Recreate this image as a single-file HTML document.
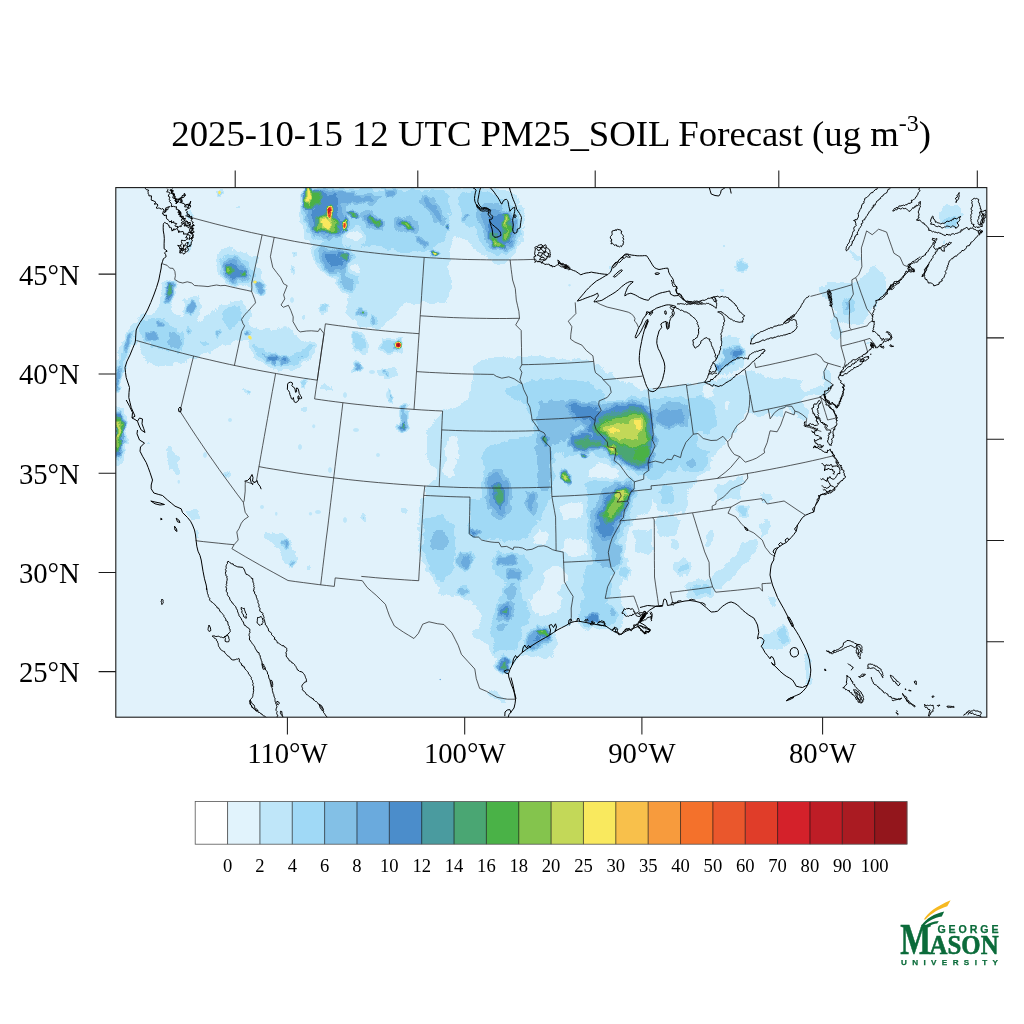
<!DOCTYPE html>
<html><head><meta charset="utf-8"><title>PM25_SOIL Forecast</title>
<style>
html,body{margin:0;padding:0;background:#fff;}
body{width:1024px;height:1024px;overflow:hidden;font-family:"Liberation Serif",serif;}
svg{display:block;position:absolute;left:0;top:0;}
</style></head><body>
<svg width="1024" height="1024" viewBox="0 0 1024 1024">
<defs><filter id="nf" x="0" y="0" width="1024" height="1024" filterUnits="userSpaceOnUse"><feOffset dx="0" dy="0"/></filter><clipPath id="mc"><rect x="115.8" y="187.6" width="871.0" height="529.6"/></clipPath></defs>
<rect width="1024" height="1024" fill="#fff"/>
<g clip-path="url(#mc)">
<defs>
<filter id="cm" x="101.8" y="173.6" width="899.0" height="557.6" filterUnits="userSpaceOnUse" color-interpolation-filters="sRGB">
<feTurbulence type="fractalNoise" baseFrequency="0.11" numOctaves="2" seed="7" result="n"/>
<feDisplacementMap in="SourceGraphic" in2="n" scale="9" xChannelSelector="R" yChannelSelector="G" result="d"/>
<feComponentTransfer in="d"><feFuncR type="discrete" tableValues="1.0000 0.8824 0.7490 0.6275 0.5137 0.4157 0.2941 0.2902 0.2902 0.2902 0.5176 0.7647 0.9765 0.9725 0.9686 0.9569 0.9176 0.8784 0.8314 0.7451 0.6667 0.5765"/><feFuncG type="discrete" tableValues="1.0000 0.9529 0.9020 0.8510 0.7529 0.6667 0.5529 0.6078 0.6510 0.6980 0.7686 0.8471 0.9137 0.7529 0.6078 0.4431 0.3412 0.2392 0.1294 0.1137 0.1059 0.0863"/><feFuncB type="discrete" tableValues="1.0000 0.9882 0.9765 0.9647 0.9020 0.8667 0.7961 0.6235 0.4510 0.2784 0.3020 0.3451 0.3686 0.2941 0.2392 0.1686 0.1725 0.1608 0.1647 0.1490 0.1333 0.1098"/></feComponentTransfer></filter>
<filter id="blL" x="75.8" y="147.6" width="951.0" height="609.6" filterUnits="userSpaceOnUse" color-interpolation-filters="sRGB"><feGaussianBlur stdDeviation="5"/></filter>
<filter id="blM" x="75.8" y="147.6" width="951.0" height="609.6" filterUnits="userSpaceOnUse" color-interpolation-filters="sRGB"><feGaussianBlur stdDeviation="2.6"/></filter>
<filter id="blS" x="75.8" y="147.6" width="951.0" height="609.6" filterUnits="userSpaceOnUse" color-interpolation-filters="sRGB"><feGaussianBlur stdDeviation="1.3"/></filter>
<filter id="blX" x="75.8" y="147.6" width="951.0" height="609.6" filterUnits="userSpaceOnUse" color-interpolation-filters="sRGB"><feGaussianBlur stdDeviation="0.7"/></filter>
<filter id="cm2" x="101.8" y="173.6" width="899.0" height="557.6" filterUnits="userSpaceOnUse" color-interpolation-filters="sRGB">
<feComponentTransfer><feFuncR type="discrete" tableValues="1.0000 0.8824 0.7490 0.6275 0.5137 0.4157 0.2941 0.2902 0.2902 0.2902 0.5176 0.7647 0.9765 0.9725 0.9686 0.9569 0.9176 0.8784 0.8314 0.7451 0.6667 0.5765"/><feFuncG type="discrete" tableValues="1.0000 0.9529 0.9020 0.8510 0.7529 0.6667 0.5529 0.6078 0.6510 0.6980 0.7686 0.8471 0.9137 0.7529 0.6078 0.4431 0.3412 0.2392 0.1294 0.1137 0.1059 0.0863"/><feFuncB type="discrete" tableValues="1.0000 0.9882 0.9765 0.9647 0.9020 0.8667 0.7961 0.6235 0.4510 0.2784 0.3020 0.3451 0.3686 0.2941 0.2392 0.1686 0.1725 0.1608 0.1647 0.1490 0.1333 0.1098"/></feComponentTransfer></filter>
</defs>
<g filter="url(#cm)">
<rect x="85.8" y="157.6" width="931.0" height="589.6" fill="rgb(17,17,17)"/>
<g filter="url(#blL)">
<path d="M137.5 316.2L165.0 310.0L200.0 320.0L230.0 297.5L250.0 305.0L252.5 320.0L240.0 340.0L217.5 350.0L182.5 365.0L145.0 366.2L137.5 345.0Z" fill="rgb(29,29,29)"/>
<path d="M243.8 323.8L260.0 330.0L285.0 326.2L300.0 340.0L317.5 340.0L315.0 355.0L300.0 370.0L275.0 372.5L255.0 355.0L242.5 340.0Z" fill="rgb(29,29,29)"/>
<path d="M302.5 187.1L450.9 187.1L450.9 304.3L399.4 304.3L383.8 293.4L355.6 296.5L341.6 291.8L340.0 277.8L321.2 268.4L315.0 249.6L302.5 235.6L300.9 215.2Z" fill="rgb(29,29,29)"/>
<path d="M454.5 186.7L494.2 186.7L517.4 192.2L524.3 211.3L524.3 230.5L517.4 248.3L512.0 257.8L501.0 264.7L487.3 260.6L473.7 249.6L460.0 238.7L451.8 225.0Z" fill="rgb(29,29,29)"/>
<path d="M472.5 360.0L522.5 355.0L595.0 360.0L615.0 377.5L647.5 390.0L697.5 382.5L697.5 490.0L655.0 490.0L650.0 515.0L630.0 520.0L620.0 597.5L437.5 597.5L437.5 495.0L455.0 480.0L437.5 465.0L437.5 415.0L465.0 402.5L472.5 377.5Z" fill="rgb(29,29,29)"/>
<path d="M442.5 407.5L426.2 432.5L424.5 457.5L438.8 475.0L425.0 487.5L419.5 500.0L417.5 530.0L422.5 560.0L435.0 585.0L455.0 595.0L480.0 607.5L483.8 625.0L465.0 635.0L490.0 647.5L507.5 657.5L557.5 657.5L557.5 595.0L475.0 595.0L450.0 550.0L450.0 407.5Z" fill="rgb(29,29,29)"/>
<path d="M421.0 557.5L431.0 575.0L451.0 590.0L478.5 605.0L481.0 625.0L466.0 635.0L488.5 642.5L493.5 660.0L498.5 677.5L506.0 673.8L523.5 652.5L551.0 635.0L571.0 622.5L596.0 625.5L621.0 635.0L627.2 610.0L617.2 585.0L631.0 560.0L631.0 557.5Z" fill="rgb(29,29,29)"/>
<path d="M657.5 386.2L687.5 383.8L746.2 372.5L750.0 395.0L747.5 412.5L737.5 430.0L730.0 440.0L710.0 460.0L692.5 475.0L675.0 490.0L657.5 495.0Z" fill="rgb(29,29,29)"/>
<path d="M304.1 187.1L450.9 187.1L450.9 235.6L430.6 249.6L399.4 252.8L377.5 243.4L365.0 246.5L341.6 246.5L325.9 243.4L313.4 235.6L304.1 223.1Z" fill="rgb(41,41,41)"/>
<path d="M587.5 465.0L602.5 460.0L617.5 465.0L622.5 480.0L615.0 490.0L595.0 487.5L586.2 477.5Z" fill="rgb(21,21,21)"/>
<path d="M560.0 501.2L580.0 500.0L590.0 510.0L580.0 520.0L562.5 518.8Z" fill="rgb(21,21,21)"/>
<path d="M562.5 537.5L587.5 535.0L592.5 552.5L575.0 561.2L560.0 552.5Z" fill="rgb(21,21,21)"/>
<path d="M657.5 497.5L697.5 492.5L697.5 597.5L627.5 597.5L632.5 565.0L652.5 535.0Z" fill="rgb(21,21,21)"/>
<path d="M443.8 433.8L458.8 431.2L460.0 462.5L450.0 482.5L442.5 475.0Z" fill="rgb(21,21,21)"/>
<path d="M455.0 496.2L462.5 495.0L462.0 510.0L455.5 510.0Z" fill="rgb(21,21,21)"/>
<path d="M530.0 528.8L550.0 527.5L551.2 547.5L532.5 547.5Z" fill="rgb(21,21,21)"/>
<path d="M528.5 595.0L546.0 585.0L566.0 595.0L561.0 612.5L541.0 620.0L526.0 610.0Z" fill="rgb(21,21,21)"/>
<path d="M541.1 564.5L568.4 564.5L569.4 587.9L542.1 587.9Z" fill="rgb(21,21,21)"/>
<path d="M556.7 502.0L578.2 502.0L579.2 521.5L557.7 521.5Z" fill="rgb(21,21,21)"/>
</g>
<g filter="url(#blM)">
<path d="M216.2 253.8L225.0 245.5L240.0 250.5L255.0 256.2L260.0 270.0L263.8 280.0L267.0 290.0L263.8 297.0L252.5 291.2L240.0 286.2L225.0 283.8L217.0 273.0Z" fill="rgb(29,29,29)"/>
<path d="M162.5 280.0L175.0 278.0L178.8 287.5L172.5 305.0L165.5 320.0L157.5 320.0L160.0 297.5Z" fill="rgb(29,29,29)"/>
<path d="M182.5 297.5L198.8 295.0L202.5 310.0L195.0 320.0L183.8 316.2Z" fill="rgb(29,29,29)"/>
<path d="M496.2 259.9L507.2 259.9L506.5 264.9L498.3 264.9Z" fill="rgb(29,29,29)"/>
<path d="M635.0 530.0L650.0 532.5L648.8 555.0L637.5 552.5Z" fill="rgb(29,29,29)"/>
<path d="M675.0 560.0L690.0 561.2L688.8 575.0L676.2 573.8Z" fill="rgb(29,29,29)"/>
<path d="M665.0 518.8L677.5 520.0L676.2 531.2L666.2 530.0Z" fill="rgb(29,29,29)"/>
<path d="M481.0 688.8L493.5 690.0L506.0 697.5L512.2 700.0L506.0 703.0L491.0 698.0Z" fill="rgb(29,29,29)"/>
<path d="M722.5 335.0L737.5 337.5L747.5 348.8L745.0 365.0L732.5 372.5L716.2 375.0L713.8 365.0L720.0 350.0Z" fill="rgb(29,29,29)"/>
<path d="M745.2 369.3L757.0 370.7L765.2 376.6L776.9 377.7L783.9 375.4L793.3 378.9L800.3 377.7L805.0 380.1L801.7 386.9L807.3 390.4L816.7 388.3L822.6 384.8L823.8 375.2L823.2 364.0L828.4 366.4L832.2 375.2L833.1 385.1L828.4 393.3L821.4 394.1L812.0 395.7L805.0 396.5L800.3 403.3L807.3 415.0L800.3 417.3L793.3 406.8L785.1 405.6L776.9 410.3L768.7 415.0L760.5 416.2L751.1 412.7L745.2 398.6Z" fill="rgb(29,29,29)"/>
<path d="M785.0 406.2L800.0 402.5L810.0 412.5L805.0 420.0L795.0 417.5Z" fill="rgb(29,29,29)"/>
<path d="M655.0 486.2L685.0 485.0L686.2 510.0L657.5 510.0Z" fill="rgb(29,29,29)"/>
<path d="M712.5 572.5L730.0 560.0L742.5 547.5L755.0 535.0L760.0 540.0L750.0 560.0L735.0 575.0L720.0 590.0L710.0 585.0Z" fill="rgb(29,29,29)"/>
<path d="M765.0 635.0L776.2 627.5L788.8 627.5L790.0 642.5L780.0 652.5L765.0 651.2Z" fill="rgb(29,29,29)"/>
<path d="M345.0 300.0L360.0 292.5L390.0 287.5L420.0 278.8L420.0 290.0L405.0 300.0L395.0 315.0L380.0 330.0L360.0 327.5L347.5 317.5Z" fill="rgb(29,29,29)"/>
<path d="M818.6 285.5L830.3 280.8L851.4 284.3L865.5 273.7L874.8 265.5L884.2 273.7L887.7 285.5L881.9 297.2L870.2 311.2L865.5 325.3L849.1 325.3L837.3 320.6L830.3 301.9L818.6 292.5Z" fill="rgb(29,29,29)"/>
<path d="M940.5 205.8L949.8 203.4L959.2 207.0L962.0 216.3L956.9 226.9L947.5 228.0L938.1 225.7L939.3 215.2Z" fill="rgb(29,29,29)"/>
<path d="M261.2 535.0L280.0 531.2L290.0 537.5L297.5 562.5L295.0 568.8L285.0 562.5L275.0 545.0L262.5 540.0Z" fill="rgb(29,29,29)"/>
<path d="M657.5 482.5L675.0 483.8L677.5 507.5L657.5 507.5Z" fill="rgb(36,36,36)"/>
<path d="M657.5 517.5L677.5 517.5L676.2 535.0L657.5 533.8Z" fill="rgb(36,36,36)"/>
<path d="M585.0 562.5L605.0 560.0L607.5 600.0L595.0 625.0L580.0 625.0L580.0 575.0Z" fill="rgb(36,36,36)"/>
<path d="M687.5 585.0L705.0 578.8L716.2 585.0L712.5 597.5L690.0 597.5Z" fill="rgb(36,36,36)"/>
<path d="M140.0 320.0L162.5 316.2L175.0 330.0L185.0 340.0L182.5 352.5L167.5 351.2L150.0 345.0L140.0 336.2Z" fill="rgb(41,41,41)"/>
<path d="M222.5 310.0L240.0 305.0L243.8 320.0L230.0 330.0L222.5 322.5Z" fill="rgb(41,41,41)"/>
<path d="M122.5 340.0L130.0 328.8L137.5 326.2L135.0 340.0L128.8 355.0L122.5 370.0L117.5 387.5L115.5 395.0L115.5 370.0Z" fill="rgb(41,41,41)"/>
<path d="M114.0 405.0L122.5 408.8L126.2 420.0L125.0 445.0L120.0 462.5L114.0 465.0Z" fill="rgb(41,41,41)"/>
<path d="M316.6 246.5L352.5 249.6L355.6 271.5L357.2 290.2L343.1 293.4L336.9 277.8L321.2 271.5L313.4 257.4Z" fill="rgb(41,41,41)"/>
<path d="M460.0 192.2L476.4 189.5L491.4 192.2L505.1 200.4L520.2 211.3L521.5 229.1L514.7 246.9L505.1 255.1L491.4 253.7L480.5 241.4L476.4 227.7L465.5 225.0L460.0 218.2Z" fill="rgb(41,41,41)"/>
<path d="M505.0 387.5L522.5 382.5L560.0 377.5L590.0 382.5L605.0 392.5L600.0 405.0L580.0 402.5L560.0 412.5L545.0 422.5L535.0 422.5L522.5 402.5L507.5 397.5Z" fill="rgb(41,41,41)"/>
<path d="M535.0 420.0L600.0 402.5L652.5 397.5L697.5 397.5L697.5 457.5L675.0 470.0L652.5 480.0L630.0 470.0L590.0 452.5L570.0 457.5L550.0 447.5Z" fill="rgb(41,41,41)"/>
<path d="M482.5 447.5L510.0 440.0L540.0 435.0L552.5 445.0L552.5 490.0L540.0 520.0L515.0 525.0L490.0 520.0L482.5 490.0Z" fill="rgb(41,41,41)"/>
<path d="M585.0 480.0L635.0 480.0L632.5 515.0L620.0 540.0L620.0 570.0L600.0 570.0L587.5 540.0Z" fill="rgb(41,41,41)"/>
<path d="M423.0 518.8L440.0 515.0L455.0 525.0L456.2 550.0L450.0 575.0L440.0 583.8L430.0 572.5L422.5 550.0Z" fill="rgb(41,41,41)"/>
<path d="M581.0 612.5L591.0 590.0L606.0 575.0L613.5 585.0L606.0 605.0L616.0 610.0L618.5 622.5L606.0 627.5L586.0 627.5L578.5 622.5Z" fill="rgb(41,41,41)"/>
<path d="M592.2 565.0L606.0 560.0L613.5 570.0L603.5 587.5L593.5 590.0Z" fill="rgb(41,41,41)"/>
<path d="M685.0 450.0L707.5 448.8L708.8 465.0L697.5 473.8L685.0 470.0Z" fill="rgb(41,41,41)"/>
<path d="M652.5 400.0L692.5 400.0L693.8 432.5L680.0 440.0L662.5 450.0L652.5 437.5Z" fill="rgb(41,41,41)"/>
<path d="M685.0 451.2L707.5 450.0L710.0 470.0L690.0 473.8Z" fill="rgb(41,41,41)"/>
<path d="M468.8 498.0L529.4 498.0L537.2 517.6L529.4 539.1L507.9 541.0L484.5 539.1L468.8 533.2Z" fill="rgb(41,41,41)"/>
<path d="M494.2 552.7L513.8 551.8L529.4 558.6L530.4 578.1L517.7 583.0L498.1 578.1L492.3 564.5Z" fill="rgb(41,41,41)"/>
<path d="M504.0 582.0L521.6 584.0L523.5 601.6L529.4 609.4L530.4 621.1L521.6 625.0L517.7 652.3L494.2 652.3L490.3 632.8L496.2 609.4L502.0 593.8Z" fill="rgb(41,41,41)"/>
<path d="M220.0 260.0L230.0 254.5L245.0 262.0L253.0 272.0L250.5 280.5L235.0 283.0L222.5 278.0Z" fill="rgb(52,52,52)"/>
<path d="M253.0 342.5L262.5 350.0L275.0 356.2L290.0 358.8L302.5 352.5L312.0 342.5L314.5 346.2L305.0 358.8L290.0 365.0L272.5 363.8L260.0 356.2L251.2 346.2Z" fill="rgb(52,52,52)"/>
<path d="M341.6 271.5L354.1 274.6L355.6 285.6L349.4 291.8L341.6 285.6Z" fill="rgb(52,52,52)"/>
<path d="M655.0 405.0L687.5 400.0L690.0 425.0L660.0 427.5Z" fill="rgb(52,52,52)"/>
<path d="M540.0 402.5L570.0 400.0L600.0 402.5L600.0 422.5L580.0 422.5L565.0 440.0L550.0 445.0L535.0 425.0Z" fill="rgb(56,56,56)"/>
<path d="M536.2 425.0L550.0 430.0L552.5 460.0L550.0 490.0L540.0 490.0L537.5 460.0Z" fill="rgb(56,56,56)"/>
<path d="M336.9 191.8L377.5 193.4L379.1 203.5L365.0 205.1L341.6 202.8Z" fill="rgb(57,57,57)"/>
<path d="M361.1 211.3L372.8 212.9L383.8 225.4L382.2 230.9L371.2 227.0L361.1 217.6Z" fill="rgb(57,57,57)"/>
<path d="M393.1 217.6L410.3 218.4L419.7 227.0L416.6 232.4L402.5 230.9L393.9 223.8Z" fill="rgb(57,57,57)"/>
<path d="M305.6 190.2L343.1 190.2L344.7 207.4L347.8 223.1L343.1 237.1L329.1 237.9L313.4 235.6L305.6 223.1Z" fill="rgb(57,57,57)"/>
<path d="M590.0 515.0L605.0 490.0L620.0 480.0L635.0 481.2L632.5 500.0L622.5 520.0L615.0 540.0L612.5 565.0L601.2 566.2L592.5 545.0Z" fill="rgb(57,57,57)"/>
<path d="M477.8 207.2L487.3 204.5L501.0 207.2L514.7 214.1L517.4 229.1L513.3 244.2L503.7 251.7L492.8 249.6L484.6 238.7L483.2 225.0L475.0 218.2Z" fill="rgb(58,58,58)"/>
<path d="M419.7 193.4L430.6 196.5L440.0 209.0L446.2 223.1L440.0 224.6L430.6 212.1L421.2 201.2Z" fill="rgb(64,64,64)"/>
<path d="M486.2 475.0L500.0 470.0L511.2 485.0L508.8 510.0L501.2 520.0L491.2 510.0L486.2 492.5Z" fill="rgb(64,64,64)"/>
<path d="M497.5 603.8L512.5 602.0L514.5 616.2L500.0 618.8Z" fill="rgb(67,67,67)"/>
<path d="M363.4 212.1L371.2 213.7L380.6 224.6L379.1 229.3L369.7 224.6L362.7 216.8Z" fill="rgb(70,70,70)"/>
<path d="M396.2 218.4L408.8 219.2L416.6 226.2L413.4 230.9L402.5 229.3L397.0 223.1Z" fill="rgb(70,70,70)"/>
<path d="M321.2 248.1L336.9 249.6L350.9 252.8L349.4 265.2L343.1 271.5L330.6 271.5L321.2 262.1Z" fill="rgb(70,70,70)"/>
<path d="M524.8 642.5L531.0 632.5L541.0 626.2L551.0 630.0L548.5 640.0L536.0 647.5L526.0 647.5Z" fill="rgb(70,70,70)"/>
<path d="M310.3 193.4L321.2 189.5L340.0 191.8L342.3 201.2L340.8 209.0L344.7 223.1L340.8 234.8L329.1 235.6L315.0 230.9L308.8 215.2Z" fill="rgb(71,71,71)"/>
<path d="M223.0 264.5L232.5 260.5L240.0 266.2L248.8 272.0L247.0 278.8L232.5 280.5L224.2 274.5Z" fill="rgb(75,75,75)"/>
<path d="M487.3 215.4L499.6 211.3L512.0 215.4L514.0 229.1L511.3 242.8L503.7 249.6L494.2 246.9L487.3 236.0Z" fill="rgb(75,75,75)"/>
<path d="M586.2 415.0L615.0 405.0L640.0 401.2L652.5 412.5L653.8 452.5L648.8 468.8L632.5 470.0L615.0 458.8L600.0 445.0L587.5 432.5Z" fill="rgb(75,75,75)"/>
<path d="M593.0 420.5L615.0 412.0L640.0 408.0L649.5 418.0L650.8 450.0L645.8 464.5L634.2 465.8L620.5 455.8L605.5 443.2L594.2 430.8Z" fill="rgb(99,99,99)"/>
<path d="M341.6 230.9L355.6 227.8L365.0 230.9L366.6 238.7L355.6 244.2L343.1 242.6Z" fill="rgb(22,22,22)"/>
<path d="M347.8 262.1L360.3 260.6L363.4 269.9L355.6 276.2L347.8 271.5Z" fill="rgb(22,22,22)"/>
</g>
<g filter="url(#blS)">
<path d="M239.0 207.0L238.7 208.2L238.0 209.2L237.0 209.5L236.0 209.2L235.3 208.2L235.0 207.0L235.3 205.8L236.0 204.8L237.0 204.5L238.0 204.8L238.7 205.8Z" fill="rgb(29,29,29)"/>
<path d="M193.0 215.0L192.7 217.8L191.8 219.8L190.5 220.5L189.2 219.8L188.3 217.8L188.0 215.0L188.3 212.2L189.2 210.2L190.5 209.5L191.8 210.2L192.7 212.2Z" fill="rgb(29,29,29)"/>
<path d="M192.8 246.7L191.1 250.1L188.9 252.2L186.9 252.5L185.6 251.0L185.4 248.0L186.2 244.3L187.9 240.9L190.1 238.8L192.1 238.5L193.4 240.0L193.6 243.0Z" fill="rgb(29,29,29)"/>
<path d="M292.2 333.8L291.8 336.9L290.5 339.2L288.8 340.0L287.0 339.2L285.7 336.9L285.2 333.8L285.7 330.6L287.0 328.3L288.8 327.5L290.5 328.3L291.8 330.6Z" fill="rgb(29,29,29)"/>
<path d="M308.0 316.2L307.6 317.2L306.5 318.0L305.0 318.2L303.5 318.0L302.4 317.2L302.0 316.2L302.4 315.2L303.5 314.5L305.0 314.2L306.5 314.5L307.6 315.2Z" fill="rgb(29,29,29)"/>
<path d="M306.8 410.0L306.3 412.5L305.2 414.3L303.8 415.0L302.2 414.3L301.2 412.5L300.8 410.0L301.2 407.5L302.2 405.7L303.8 405.0L305.2 405.7L306.3 407.5Z" fill="rgb(29,29,29)"/>
<path d="M295.8 255.9L295.5 257.8L294.8 259.3L293.9 259.8L293.0 259.3L292.3 257.8L292.0 255.9L292.3 253.9L293.0 252.5L293.9 252.0L294.8 252.5L295.5 253.9Z" fill="rgb(29,29,29)"/>
<path d="M295.0 270.7L294.8 272.7L294.2 274.1L293.4 274.6L292.7 274.1L292.1 272.7L291.9 270.7L292.1 268.8L292.7 267.3L293.4 266.8L294.2 267.3L294.8 268.8Z" fill="rgb(29,29,29)"/>
<path d="M407.5 510.0L407.1 512.0L406.0 513.5L404.5 514.0L403.0 513.5L401.9 512.0L401.5 510.0L401.9 508.0L403.0 506.5L404.5 506.0L406.0 506.5L407.1 508.0Z" fill="rgb(29,29,29)"/>
<path d="M311.5 568.0L311.2 570.0L310.5 571.5L309.5 572.0L308.5 571.5L307.8 570.0L307.5 568.0L307.8 566.0L308.5 564.5L309.5 564.0L310.5 564.5L311.2 566.0Z" fill="rgb(29,29,29)"/>
<path d="M306.0 411.2L305.6 413.0L304.5 414.3L303.0 414.8L301.5 414.3L300.4 413.0L300.0 411.2L300.4 409.5L301.5 408.2L303.0 407.8L304.5 408.2L305.6 409.5Z" fill="rgb(29,29,29)"/>
<path d="M767.5 407.5L785.0 406.2L783.8 416.2L770.0 417.5Z" fill="rgb(29,29,29)"/>
<path d="M772.5 497.0L771.7 499.8L769.4 501.8L766.2 502.5L763.1 501.8L760.8 499.8L760.0 497.0L760.8 494.2L763.1 492.2L766.2 491.5L769.4 492.2L771.7 494.2Z" fill="rgb(29,29,29)"/>
<path d="M767.2 528.8L766.8 533.1L765.5 536.3L763.8 537.5L762.0 536.3L760.7 533.1L760.2 528.8L760.7 524.4L762.0 521.2L763.8 520.0L765.5 521.2L766.8 524.4Z" fill="rgb(29,29,29)"/>
<path d="M755.0 547.5L754.2 551.2L751.9 554.0L748.8 555.0L745.6 554.0L743.3 551.2L742.5 547.5L743.3 543.8L745.6 541.0L748.8 540.0L751.9 541.0L754.2 543.8Z" fill="rgb(29,29,29)"/>
<path d="M712.5 537.5L712.1 541.2L711.0 544.0L709.5 545.0L708.0 544.0L706.9 541.2L706.5 537.5L706.9 533.8L708.0 531.0L709.5 530.0L711.0 531.0L712.1 533.8Z" fill="rgb(29,29,29)"/>
<path d="M677.5 545.5L677.1 547.8L676.0 549.4L674.5 550.0L673.0 549.4L671.9 547.8L671.5 545.5L671.9 543.2L673.0 541.6L674.5 541.0L676.0 541.6L677.1 543.2Z" fill="rgb(29,29,29)"/>
<path d="M715.0 492.5L730.0 480.0L745.0 475.0L746.2 482.5L732.5 490.0L718.8 500.0Z" fill="rgb(29,29,29)"/>
<path d="M832.5 315.0L838.8 315.0L840.5 340.0L833.8 340.0Z" fill="rgb(29,29,29)"/>
<path d="M633.8 530.0L652.5 531.2L651.2 552.5L635.0 551.2Z" fill="rgb(29,29,29)"/>
<path d="M662.5 517.5L677.5 518.8L676.2 532.5L663.8 531.2Z" fill="rgb(29,29,29)"/>
<path d="M676.2 546.2L675.9 548.0L675.0 549.3L673.8 549.8L672.5 549.3L671.6 548.0L671.2 546.2L671.6 544.5L672.5 543.2L673.8 542.8L675.0 543.2L675.9 544.5Z" fill="rgb(29,29,29)"/>
<path d="M712.2 538.8L711.8 543.1L710.5 546.3L708.8 547.5L707.0 546.3L705.7 543.1L705.2 538.8L705.7 534.4L707.0 531.2L708.8 530.0L710.5 531.2L711.8 534.4Z" fill="rgb(29,29,29)"/>
<path d="M768.9 527.3L767.2 531.3L765.0 533.9L762.8 534.5L761.2 532.8L760.6 529.5L761.1 525.2L762.8 521.2L765.0 518.6L767.2 518.0L768.8 519.7L769.4 523.0Z" fill="rgb(29,29,29)"/>
<path d="M773.5 497.0L772.7 499.5L770.5 501.3L767.5 502.0L764.5 501.3L762.3 499.5L761.5 497.0L762.3 494.5L764.5 492.7L767.5 492.0L770.5 492.7L772.7 494.5Z" fill="rgb(29,29,29)"/>
<path d="M774.2 600.5L773.8 603.8L772.8 606.1L771.2 607.0L769.8 606.1L768.7 603.8L768.2 600.5L768.7 597.2L769.8 594.9L771.2 594.0L772.8 594.9L773.8 597.2Z" fill="rgb(29,29,29)"/>
<path d="M769.5 642.5L768.9 646.0L767.2 648.6L765.0 649.5L762.8 648.6L761.1 646.0L760.5 642.5L761.1 639.0L762.8 636.4L765.0 635.5L767.2 636.4L768.9 639.0Z" fill="rgb(29,29,29)"/>
<path d="M715.0 485.0L740.0 482.5L741.2 498.8L716.2 500.0Z" fill="rgb(29,29,29)"/>
<path d="M803.8 652.5L810.0 653.0L811.2 685.0L805.5 684.5Z" fill="rgb(29,29,29)"/>
<path d="M775.0 601.2L774.7 604.4L773.8 606.7L772.5 607.5L771.2 606.7L770.3 604.4L770.0 601.2L770.3 598.1L771.2 595.8L772.5 595.0L773.8 595.8L774.7 598.1Z" fill="rgb(29,29,29)"/>
<path d="M375.0 368.0L397.5 368.8L396.2 377.5L376.2 376.2Z" fill="rgb(29,29,29)"/>
<path d="M332.5 387.5L331.7 389.2L329.4 390.5L326.2 391.0L323.1 390.5L320.8 389.2L320.0 387.5L320.8 385.8L323.1 384.5L326.2 384.0L329.4 384.5L331.7 385.8Z" fill="rgb(29,29,29)"/>
<path d="M726.5 247.0L726.2 247.9L725.4 248.5L724.2 248.8L723.1 248.5L722.3 247.9L722.0 247.0L722.3 246.1L723.1 245.5L724.2 245.2L725.4 245.5L726.2 246.1Z" fill="rgb(29,29,29)"/>
<path d="M723.8 289.5L723.4 290.5L722.5 291.2L721.2 291.5L720.0 291.2L719.1 290.5L718.8 289.5L719.1 288.5L720.0 287.8L721.2 287.5L722.5 287.8L723.4 288.5Z" fill="rgb(29,29,29)"/>
<path d="M754.8 339.5L753.5 342.0L751.8 343.5L750.1 343.7L749.0 342.5L748.6 340.2L749.2 337.5L750.5 335.0L752.2 333.5L753.9 333.3L755.0 334.5L755.4 336.8Z" fill="rgb(29,29,29)"/>
<path d="M612.8 268.5L612.5 269.8L611.8 270.7L610.8 271.0L609.8 270.7L609.0 269.8L608.8 268.5L609.0 267.2L609.8 266.3L610.8 266.0L611.8 266.3L612.5 267.2Z" fill="rgb(29,29,29)"/>
<path d="M830.3 320.6L837.3 318.3L838.5 339.4L831.5 339.4Z" fill="rgb(29,29,29)"/>
<path d="M846.7 249.1L852.6 250.3L860.8 259.7L857.3 262.0Z" fill="rgb(29,29,29)"/>
<path d="M863.1 340.5L870.2 341.7L869.0 344.1L864.3 344.1Z" fill="rgb(29,29,29)"/>
<path d="M948.4 240.2L948.4 241.3L947.6 242.6L946.1 243.7L944.3 244.5L942.8 244.5L941.9 244.0L941.9 242.9L942.7 241.6L944.2 240.5L946.0 239.8L947.5 239.7Z" fill="rgb(29,29,29)"/>
<path d="M164.5 447.5L171.2 445.5L178.8 457.5L180.0 473.8L175.0 475.0L167.5 462.5Z" fill="rgb(29,29,29)"/>
<path d="M183.8 510.0L198.8 511.2L200.5 520.0L190.0 518.8Z" fill="rgb(29,29,29)"/>
<path d="M199.0 533.8L198.7 536.5L198.0 538.5L197.0 539.2L196.0 538.5L195.3 536.5L195.0 533.8L195.3 531.0L196.0 529.0L197.0 528.2L198.0 529.0L198.7 531.0Z" fill="rgb(29,29,29)"/>
<path d="M149.5 443.8L149.2 444.8L148.5 445.5L147.5 445.8L146.5 445.5L145.8 444.8L145.5 443.8L145.8 442.8L146.5 442.0L147.5 441.8L148.5 442.0L149.2 442.8Z" fill="rgb(29,29,29)"/>
<path d="M312.0 567.5L311.7 569.5L311.0 571.0L310.0 571.5L309.0 571.0L308.3 569.5L308.0 567.5L308.3 565.5L309.0 564.0L310.0 563.5L311.0 564.0L311.7 565.5Z" fill="rgb(29,29,29)"/>
<path d="M350.0 333.8L362.5 332.5L370.0 345.0L365.0 355.0L355.0 352.5Z" fill="rgb(35,35,35)"/>
<path d="M380.0 338.8L402.5 337.5L403.8 352.5L387.5 355.0L380.0 348.8Z" fill="rgb(35,35,35)"/>
<path d="M367.2 518.0L366.8 519.5L365.5 520.6L363.8 521.0L362.0 520.6L360.7 519.5L360.2 518.0L360.7 516.5L362.0 515.4L363.8 515.0L365.5 515.4L366.8 516.5Z" fill="rgb(36,36,36)"/>
<path d="M750.0 511.2L749.2 514.4L746.9 516.7L743.8 517.5L740.6 516.7L738.3 514.4L737.5 511.2L738.3 508.1L740.6 505.8L743.8 505.0L746.9 505.8L749.2 508.1Z" fill="rgb(36,36,36)"/>
<path d="M690.8 564.9L690.6 567.4L688.6 569.9L685.3 571.7L681.6 572.4L678.4 571.8L676.7 570.1L676.9 567.6L678.9 565.1L682.2 563.3L685.9 562.6L689.1 563.2Z" fill="rgb(36,36,36)"/>
<path d="M749.5 510.5L748.6 513.5L746.0 515.7L742.5 516.5L739.0 515.7L736.4 513.5L735.5 510.5L736.4 507.5L739.0 505.3L742.5 504.5L746.0 505.3L748.6 507.5Z" fill="rgb(36,36,36)"/>
<path d="M788.0 635.0L787.3 639.8L785.5 643.2L783.0 644.5L780.5 643.2L778.7 639.8L778.0 635.0L778.7 630.2L780.5 626.8L783.0 625.5L785.5 626.8L787.3 630.2Z" fill="rgb(36,36,36)"/>
<path d="M228.8 476.5L227.9 477.4L226.5 477.6L225.0 477.2L223.9 476.1L223.4 474.8L223.7 473.5L224.6 472.6L226.0 472.4L227.5 472.8L228.6 473.9L229.1 475.2Z" fill="rgb(37,37,37)"/>
<path d="M223.0 192.5L222.6 193.5L221.5 194.2L220.0 194.5L218.5 194.2L217.4 193.5L217.0 192.5L217.4 191.5L218.5 190.8L220.0 190.5L221.5 190.8L222.6 191.5Z" fill="rgb(41,41,41)"/>
<path d="M209.5 342.5L208.9 344.0L207.2 345.1L205.0 345.5L202.8 345.1L201.1 344.0L200.5 342.5L201.1 341.0L202.8 339.9L205.0 339.5L207.2 339.9L208.9 341.0Z" fill="rgb(41,41,41)"/>
<path d="M295.2 255.0L295.0 256.2L294.5 257.2L293.8 257.5L293.0 257.2L292.5 256.2L292.2 255.0L292.5 253.8L293.0 252.8L293.8 252.5L294.5 252.8L295.0 253.8Z" fill="rgb(41,41,41)"/>
<path d="M294.0 270.0L293.8 271.5L293.2 272.6L292.5 273.0L291.8 272.6L291.2 271.5L291.0 270.0L291.2 268.5L291.8 267.4L292.5 267.0L293.2 267.4L293.8 268.5Z" fill="rgb(41,41,41)"/>
<path d="M327.0 308.8L326.5 311.0L325.0 312.6L323.0 313.2L321.0 312.6L319.5 311.0L319.0 308.8L319.5 306.5L321.0 304.9L323.0 304.2L325.0 304.9L326.5 306.5Z" fill="rgb(41,41,41)"/>
<path d="M307.2 382.5L306.8 384.8L305.5 386.4L303.8 387.0L302.0 386.4L300.7 384.8L300.2 382.5L300.7 380.2L302.0 378.6L303.8 378.0L305.5 378.6L306.8 380.2Z" fill="rgb(41,41,41)"/>
<path d="M250.0 391.2L249.6 392.2L248.5 393.0L247.0 393.2L245.5 393.0L244.4 392.2L244.0 391.2L244.4 390.2L245.5 389.5L247.0 389.2L248.5 389.5L249.6 390.2Z" fill="rgb(41,41,41)"/>
<path d="M355.5 337.5L355.2 341.0L354.2 343.6L353.0 344.5L351.8 343.6L350.8 341.0L350.5 337.5L350.8 334.0L351.8 331.4L353.0 330.5L354.2 331.4L355.2 334.0Z" fill="rgb(41,41,41)"/>
<path d="M355.8 367.5L355.5 370.0L354.8 371.8L353.8 372.5L352.8 371.8L352.0 370.0L351.8 367.5L352.0 365.0L352.8 363.2L353.8 362.5L354.8 363.2L355.5 365.0Z" fill="rgb(41,41,41)"/>
<path d="M630.0 572.5L629.3 576.2L627.5 579.0L625.0 580.0L622.5 579.0L620.7 576.2L620.0 572.5L620.7 568.8L622.5 566.0L625.0 565.0L627.5 566.0L629.3 568.8Z" fill="rgb(41,41,41)"/>
<path d="M628.5 572.5L627.9 575.0L626.2 576.8L624.0 577.5L621.8 576.8L620.1 575.0L619.5 572.5L620.1 570.0L621.8 568.2L624.0 567.5L626.2 568.2L627.9 570.0Z" fill="rgb(41,41,41)"/>
<path d="M692.5 400.0L703.8 395.0L713.8 405.0L716.2 425.0L710.0 435.0L697.5 432.5L691.2 417.5Z" fill="rgb(41,41,41)"/>
<path d="M685.0 440.0L683.7 442.8L680.0 444.8L675.0 445.5L670.0 444.8L666.3 442.8L665.0 440.0L666.3 437.2L670.0 435.2L675.0 434.5L680.0 435.2L683.7 437.2Z" fill="rgb(41,41,41)"/>
<path d="M628.8 573.9L627.1 577.0L624.8 578.9L622.6 579.1L621.0 577.5L620.5 574.6L621.2 571.1L622.9 568.0L625.2 566.1L627.4 565.9L629.0 567.5L629.5 570.4Z" fill="rgb(41,41,41)"/>
<path d="M786.8 635.7L785.4 638.6L783.2 640.5L780.8 640.8L778.9 639.4L777.9 636.6L778.2 633.3L779.6 630.4L781.8 628.5L784.2 628.2L786.1 629.6L787.1 632.4Z" fill="rgb(41,41,41)"/>
<path d="M327.5 308.8L327.1 310.5L326.0 311.8L324.5 312.2L323.0 311.8L321.9 310.5L321.5 308.8L321.9 307.0L323.0 305.7L324.5 305.2L326.0 305.7L327.1 307.0Z" fill="rgb(41,41,41)"/>
<path d="M746.2 269.4L744.1 271.0L741.2 271.3L738.4 270.1L736.3 267.8L735.6 265.1L736.3 262.6L738.4 261.0L741.3 260.7L744.1 261.9L746.2 264.2L746.9 266.9Z" fill="rgb(41,41,41)"/>
<path d="M842.0 298.4L850.2 296.0L856.1 303.0L853.7 313.6L845.5 314.8L840.9 307.7Z" fill="rgb(41,41,41)"/>
<path d="M947.5 217.5L959.2 215.2L960.4 221.0L955.7 226.4L947.5 226.9L941.6 224.5Z" fill="rgb(41,41,41)"/>
<path d="M356.2 284.5L355.2 287.0L352.5 288.8L348.8 289.5L345.0 288.8L342.3 287.0L341.2 284.5L342.3 282.0L345.0 280.2L348.8 279.5L352.5 280.2L355.2 282.0Z" fill="rgb(48,48,48)"/>
<path d="M392.9 395.5L393.4 398.7L392.9 401.3L391.7 402.5L390.0 402.1L388.3 400.1L387.1 397.0L386.6 393.8L387.1 391.2L388.3 390.0L390.0 390.4L391.7 392.4Z" fill="rgb(48,48,48)"/>
<path d="M167.0 333.8L180.0 332.5L183.8 342.5L177.5 350.0L168.8 346.2Z" fill="rgb(52,52,52)"/>
<path d="M191.5 330.5L191.0 331.8L189.8 332.7L188.0 333.0L186.2 332.7L185.0 331.8L184.5 330.5L185.0 329.2L186.2 328.3L188.0 328.0L189.8 328.3L191.0 329.2Z" fill="rgb(52,52,52)"/>
<path d="M221.0 333.8L220.5 335.2L219.2 336.3L217.5 336.8L215.8 336.3L214.5 335.2L214.0 333.8L214.5 332.2L215.8 331.2L217.5 330.8L219.2 331.2L220.5 332.2Z" fill="rgb(52,52,52)"/>
<path d="M471.2 561.2L470.2 565.6L467.5 568.8L463.8 570.0L460.0 568.8L457.3 565.6L456.2 561.2L457.3 556.9L460.0 553.7L463.8 552.5L467.5 553.7L470.2 556.9Z" fill="rgb(52,52,52)"/>
<path d="M610.0 545.0L620.0 545.0L621.2 565.0L612.5 565.0Z" fill="rgb(52,52,52)"/>
<path d="M400.0 403.8L407.0 403.8L408.0 420.0L410.0 427.5L402.5 433.8L398.0 428.8L401.2 415.0Z" fill="rgb(52,52,52)"/>
<path d="M515.5 592.5L514.8 596.2L512.8 599.0L510.0 600.0L507.2 599.0L505.2 596.2L504.5 592.5L505.2 588.8L507.2 586.0L510.0 585.0L512.8 586.0L514.8 588.8Z" fill="rgb(52,52,52)"/>
<path d="M507.5 627.5L506.7 630.0L504.4 631.8L501.2 632.5L498.1 631.8L495.8 630.0L495.0 627.5L495.8 625.0L498.1 623.2L501.2 622.5L504.4 623.2L506.7 625.0Z" fill="rgb(52,52,52)"/>
<path d="M465.2 591.2L464.7 593.0L463.2 594.3L461.2 594.8L459.2 594.3L457.8 593.0L457.2 591.2L457.8 589.5L459.2 588.2L461.2 587.8L463.2 588.2L464.7 589.5Z" fill="rgb(52,52,52)"/>
<path d="M516.0 592.0L515.3 596.0L513.5 598.9L511.0 600.0L508.5 598.9L506.7 596.0L506.0 592.0L506.7 588.0L508.5 585.1L511.0 584.0L513.5 585.1L515.3 588.0Z" fill="rgb(52,52,52)"/>
<path d="M468.5 591.2L467.8 593.0L466.0 594.3L463.5 594.8L461.0 594.3L459.2 593.0L458.5 591.2L459.2 589.5L461.0 588.2L463.5 587.8L466.0 588.2L467.8 589.5Z" fill="rgb(52,52,52)"/>
<path d="M468.5 565.5L468.2 567.8L467.2 569.4L466.0 570.0L464.8 569.4L463.8 567.8L463.5 565.5L463.8 563.2L464.8 561.6L466.0 561.0L467.2 561.6L468.2 563.2Z" fill="rgb(52,52,52)"/>
<path d="M614.5 612.5L614.1 614.4L613.0 615.7L611.5 616.2L610.0 615.7L608.9 614.4L608.5 612.5L608.9 610.6L610.0 609.3L611.5 608.8L613.0 609.3L614.1 610.6Z" fill="rgb(52,52,52)"/>
<path d="M695.2 463.8L694.7 465.5L693.2 466.8L691.2 467.2L689.2 466.8L687.8 465.5L687.2 463.8L687.8 462.0L689.2 460.7L691.2 460.2L693.2 460.7L694.7 462.0Z" fill="rgb(52,52,52)"/>
<path d="M376.6 319.0L377.1 321.7L376.8 324.0L375.6 325.2L374.0 325.0L372.2 323.5L370.9 321.0L370.4 318.3L370.7 316.0L371.9 314.8L373.5 315.0L375.3 316.5Z" fill="rgb(52,52,52)"/>
<path d="M850.0 305.9L849.6 308.0L848.6 309.5L847.2 310.1L845.8 309.5L844.8 308.0L844.4 305.9L844.8 303.7L845.8 302.2L847.2 301.6L848.6 302.2L849.6 303.7Z" fill="rgb(52,52,52)"/>
<path d="M296.5 563.8L296.0 565.2L294.8 566.3L293.0 566.8L291.2 566.3L290.0 565.2L289.5 563.8L290.0 562.2L291.2 561.2L293.0 560.8L294.8 561.2L296.0 562.2Z" fill="rgb(52,52,52)"/>
<path d="M505.9 585.0L515.7 584.4L516.1 597.7L506.9 597.7Z" fill="rgb(52,52,52)"/>
<path d="M468.1 563.6L466.5 567.2L464.3 569.6L461.9 570.0L460.1 568.5L459.3 565.3L459.8 561.4L461.4 557.8L463.6 555.4L466.0 555.0L467.8 556.5L468.6 559.7Z" fill="rgb(52,52,52)"/>
<path d="M466.9 590.8L466.2 592.2L464.4 593.2L462.0 593.6L459.6 593.2L457.8 592.2L457.1 590.8L457.8 589.5L459.6 588.5L462.0 588.1L464.4 588.5L466.2 589.5Z" fill="rgb(52,52,52)"/>
<path d="M431.2 532.5L445.0 531.2L447.0 546.2L436.2 550.0L430.5 542.5Z" fill="rgb(56,56,56)"/>
<path d="M723.8 348.8L740.0 345.0L745.0 353.8L735.0 362.5L720.0 371.2L717.0 367.5L722.5 357.5Z" fill="rgb(56,56,56)"/>
<path d="M525.0 492.5L533.8 490.0L538.0 505.0L535.0 515.0L527.5 510.0Z" fill="rgb(58,58,58)"/>
<path d="M522.5 575.0L521.7 577.2L519.4 578.9L516.2 579.5L513.1 578.9L510.8 577.2L510.0 575.0L510.8 572.8L513.1 571.1L516.2 570.5L519.4 571.1L521.7 572.8Z" fill="rgb(58,58,58)"/>
<path d="M471.6 561.4L469.6 566.1L466.7 569.1L463.7 569.7L461.4 567.7L460.4 563.6L460.9 558.6L462.9 553.9L465.8 550.9L468.8 550.3L471.1 552.3L472.1 556.4Z" fill="rgb(58,58,58)"/>
<path d="M514.2 563.0L513.3 565.0L510.8 566.5L507.2 567.0L503.8 566.5L501.2 565.0L500.2 563.0L501.2 561.0L503.8 559.5L507.2 559.0L510.8 559.5L513.3 561.0Z" fill="rgb(58,58,58)"/>
<path d="M655.0 410.0L685.0 407.5L687.5 425.0L667.5 427.5L656.2 422.5Z" fill="rgb(58,58,58)"/>
<path d="M498.1 605.5L511.8 604.5L513.4 618.2L500.1 619.5Z" fill="rgb(58,58,58)"/>
<path d="M367.3 311.4L366.9 313.0L364.9 314.7L362.0 315.9L358.9 316.3L356.4 315.8L355.2 314.6L355.6 313.0L357.6 311.3L360.5 310.1L363.6 309.7L366.1 310.2Z" fill="rgb(59,59,59)"/>
<path d="M361.0 366.5L360.5 368.2L359.0 369.5L357.0 370.0L355.0 369.5L353.5 368.2L353.0 366.5L353.5 364.8L355.0 363.5L357.0 363.0L359.0 363.5L360.5 364.8Z" fill="rgb(59,59,59)"/>
<path d="M288.1 543.7L288.6 546.9L288.0 549.5L286.7 550.8L284.9 550.4L283.1 548.4L281.9 545.3L281.4 542.1L282.0 539.5L283.3 538.2L285.1 538.6L286.9 540.6Z" fill="rgb(59,59,59)"/>
<path d="M252.0 279.5L260.0 283.0L265.5 290.0L263.0 295.5L257.0 290.0Z" fill="rgb(64,64,64)"/>
<path d="M167.5 283.8L174.5 281.2L175.0 290.0L170.0 301.2L165.5 302.5L165.5 292.5Z" fill="rgb(64,64,64)"/>
<path d="M186.2 305.0L193.0 300.0L196.2 306.2L193.8 313.8L187.5 313.8Z" fill="rgb(64,64,64)"/>
<path d="M145.0 332.5L153.8 330.0L160.0 337.5L153.8 342.5L146.2 340.0Z" fill="rgb(64,64,64)"/>
<path d="M157.0 321.2L162.5 318.8L163.8 326.2L158.8 328.8Z" fill="rgb(64,64,64)"/>
<path d="M124.5 341.2L130.5 332.5L133.8 333.8L129.5 346.2L125.0 355.0Z" fill="rgb(64,64,64)"/>
<path d="M116.0 372.5L120.0 366.2L121.0 377.5L118.5 392.5L116.0 395.0Z" fill="rgb(64,64,64)"/>
<path d="M249.7 332.5L250.2 334.2L250.1 335.8L249.2 336.8L247.9 337.0L246.5 336.3L245.3 335.0L244.8 333.3L244.9 331.8L245.8 330.7L247.1 330.5L248.5 331.2Z" fill="rgb(64,64,64)"/>
<path d="M415.0 235.6L422.8 238.7L429.1 246.5L425.9 248.1L418.1 241.8Z" fill="rgb(64,64,64)"/>
<path d="M383.8 190.2L396.2 190.2L397.8 194.9L386.9 195.7Z" fill="rgb(64,64,64)"/>
<path d="M469.5 216.6L469.3 217.7L468.2 218.7L466.6 219.3L464.9 219.5L463.5 219.2L462.9 218.4L463.0 217.3L464.1 216.3L465.7 215.6L467.4 215.5L468.8 215.8Z" fill="rgb(64,64,64)"/>
<path d="M495.0 556.2L515.0 555.0L517.5 563.8L497.5 565.0Z" fill="rgb(64,64,64)"/>
<path d="M402.8 345.0L402.1 347.2L400.5 348.9L398.2 349.5L396.0 348.9L394.4 347.2L393.8 345.0L394.4 342.8L396.0 341.1L398.2 340.5L400.5 341.1L402.1 342.8Z" fill="rgb(64,64,64)"/>
<path d="M387.5 372.0L387.2 372.8L386.2 373.3L385.0 373.5L383.8 373.3L382.8 372.8L382.5 372.0L382.8 371.2L383.8 370.7L385.0 370.5L386.2 370.7L387.2 371.2Z" fill="rgb(64,64,64)"/>
<path d="M498.1 556.6L513.8 555.7L516.1 564.5L502.0 565.4Z" fill="rgb(64,64,64)"/>
<path d="M505.9 570.7L520.6 571.3L521.6 579.1L507.9 580.1Z" fill="rgb(64,64,64)"/>
<path d="M660.0 413.8L676.2 411.2L677.5 421.2L662.5 422.5Z" fill="rgb(66,66,66)"/>
<path d="M341.6 193.4L361.9 195.7L375.2 200.4L365.0 203.5L349.4 201.5L342.3 199.6Z" fill="rgb(68,68,68)"/>
<path d="M565.0 403.8L590.0 402.5L600.0 407.5L597.5 420.0L575.0 420.0Z" fill="rgb(70,70,70)"/>
<path d="M568.8 433.8L586.2 431.2L605.0 438.8L607.5 448.8L590.0 451.2L575.0 450.0L568.8 445.0Z" fill="rgb(70,70,70)"/>
<path d="M596.2 515.0L607.5 495.0L622.5 483.8L632.5 486.2L628.8 502.5L618.8 520.0L612.5 537.5L602.5 540.0L596.2 530.0Z" fill="rgb(70,70,70)"/>
<path d="M479.2 532.5L478.5 534.5L476.5 536.0L473.8 536.5L471.0 536.0L469.0 534.5L468.2 532.5L469.0 530.5L471.0 529.0L473.8 528.5L476.5 529.0L478.5 530.5Z" fill="rgb(70,70,70)"/>
<path d="M512.5 612.0L511.6 615.8L509.2 618.5L506.0 619.5L502.8 618.5L500.4 615.8L499.5 612.0L500.4 608.2L502.8 605.5L506.0 604.5L509.2 605.5L511.6 608.2Z" fill="rgb(70,70,70)"/>
<path d="M510.5 664.5L509.6 668.5L507.2 671.4L504.0 672.5L500.8 671.4L498.4 668.5L497.5 664.5L498.4 660.5L500.8 657.6L504.0 656.5L507.2 657.6L509.6 660.5Z" fill="rgb(70,70,70)"/>
<path d="M114.5 411.2L121.2 413.8L124.5 423.8L123.0 445.0L118.0 457.5L114.5 458.8Z" fill="rgb(75,75,75)"/>
<path d="M268.0 355.0L276.2 355.0L278.0 362.0L271.2 363.8Z" fill="rgb(75,75,75)"/>
<path d="M279.5 358.0L286.2 357.0L287.0 363.0L280.5 364.0Z" fill="rgb(75,75,75)"/>
<path d="M569.2 475.0L570.9 478.9L571.2 482.4L570.0 484.4L567.7 484.4L564.9 482.4L562.3 479.0L560.6 475.1L560.3 471.6L561.5 469.6L563.8 469.6L566.6 471.6Z" fill="rgb(75,75,75)"/>
<path d="M584.8 616.2L596.0 613.8L599.8 621.2L588.5 623.8Z" fill="rgb(75,75,75)"/>
<path d="M742.2 351.1L742.2 353.4L740.8 355.5L738.5 357.0L735.7 357.4L733.3 356.6L731.8 354.9L731.8 352.6L733.2 350.5L735.5 349.0L738.3 348.6L740.7 349.4Z" fill="rgb(75,75,75)"/>
<path d="M721.9 366.6L722.4 368.3L722.2 369.9L721.2 371.0L719.8 371.3L718.3 370.7L717.1 369.4L716.6 367.7L716.8 366.1L717.8 365.0L719.2 364.7L720.7 365.3Z" fill="rgb(75,75,75)"/>
<path d="M600.0 515.0L612.5 492.5L625.0 486.2L631.2 490.0L627.5 505.0L615.0 520.0L605.0 525.0Z" fill="rgb(87,87,87)"/>
<path d="M573.8 439.5L587.5 437.0L602.5 440.5L604.5 447.0L591.2 448.0L578.8 447.0L573.8 443.8Z" fill="rgb(94,94,94)"/>
<path d="M493.0 483.8L501.2 482.5L504.5 495.0L501.2 510.0L496.2 502.5Z" fill="rgb(94,94,94)"/>
<path d="M341.6 252.8L348.6 254.3L349.4 260.6L343.9 259.0Z" fill="rgb(104,104,104)"/>
<path d="M580.0 453.8L587.5 453.0L588.0 457.0L580.5 457.5Z" fill="rgb(104,104,104)"/>
<path d="M547.8 439.6L548.3 441.9L548.0 443.7L547.0 444.7L545.7 444.6L544.2 443.4L543.2 441.4L542.7 439.1L543.0 437.3L544.0 436.3L545.3 436.4L546.8 437.6Z" fill="rgb(104,104,104)"/>
<path d="M404.2 426.2L403.9 427.5L403.1 428.4L402.0 428.8L400.9 428.4L400.1 427.5L399.8 426.2L400.1 425.0L400.9 424.1L402.0 423.8L403.1 424.1L403.9 425.0Z" fill="rgb(104,104,104)"/>
<path d="M505.5 665.0L505.3 666.5L504.6 667.6L503.8 668.0L502.9 667.6L502.2 666.5L502.0 665.0L502.2 663.5L502.9 662.4L503.8 662.0L504.6 662.4L505.3 663.5Z" fill="rgb(107,107,107)"/>
<path d="M170.0 284.5L173.0 283.8L172.0 290.0L168.0 297.5L166.5 296.2L168.0 290.0Z" fill="rgb(110,110,110)"/>
<path d="M115.0 416.2L120.5 418.8L123.0 427.5L121.5 442.5L117.5 452.5L115.0 453.8Z" fill="rgb(110,110,110)"/>
<path d="M303.3 187.9L313.4 187.9L321.2 193.4L320.5 204.3L313.4 205.9L307.2 210.6L303.3 209.0Z" fill="rgb(110,110,110)"/>
<path d="M347.0 211.3L355.6 212.1L358.4 217.6L357.2 222.3L354.1 217.6L347.0 213.7Z" fill="rgb(110,110,110)"/>
<path d="M368.1 216.0L374.4 217.6L380.6 225.4L379.1 228.5L372.8 223.1L368.1 218.4Z" fill="rgb(110,110,110)"/>
<path d="M450.0 226.5L449.7 227.4L449.1 228.1L448.1 228.4L447.2 228.1L446.5 227.4L446.2 226.5L446.5 225.6L447.2 224.9L448.1 224.6L449.1 224.9L449.7 225.6Z" fill="rgb(110,110,110)"/>
<path d="M633.8 450.0L648.8 446.2L650.0 457.5L643.8 462.5L635.0 461.2Z" fill="rgb(110,110,110)"/>
<path d="M567.9 475.8L569.2 478.6L569.5 481.1L568.9 482.4L567.4 482.3L565.4 480.8L563.6 478.2L562.3 475.4L562.0 472.9L562.6 471.6L564.1 471.7L566.1 473.2Z" fill="rgb(110,110,110)"/>
<path d="M507.0 611.8L506.7 612.6L506.0 613.3L505.0 613.5L504.0 613.3L503.3 612.6L503.0 611.8L503.3 610.9L504.0 610.2L505.0 610.0L506.0 610.2L506.7 610.9Z" fill="rgb(110,110,110)"/>
<path d="M508.2 611.5L507.9 612.5L507.1 613.2L506.0 613.5L504.9 613.2L504.1 612.5L503.8 611.5L504.1 610.5L504.9 609.8L506.0 609.5L507.1 609.8L507.9 610.5Z" fill="rgb(110,110,110)"/>
<path d="M247.2 274.0L246.8 275.2L245.6 276.2L244.0 276.5L242.4 276.2L241.2 275.2L240.8 274.0L241.2 272.8L242.4 271.8L244.0 271.5L245.6 271.8L246.8 272.8Z" fill="rgb(116,116,116)"/>
<path d="M315.8 217.6L325.9 214.5L336.9 219.9L337.7 230.9L329.1 233.2L315.8 231.7Z" fill="rgb(116,116,116)"/>
<path d="M412.9 227.9L411.3 229.3L408.8 229.7L405.8 228.9L403.4 227.2L402.0 225.0L402.1 222.9L403.7 221.5L406.2 221.1L409.2 221.9L411.6 223.6L413.0 225.8Z" fill="rgb(116,116,116)"/>
<path d="M502.7 213.4L507.9 212.7L510.3 219.5L509.5 230.5L509.9 240.1L505.8 242.1L503.1 236.0L503.5 225.0Z" fill="rgb(116,116,116)"/>
<path d="M489.4 234.6L494.9 236.6L501.0 241.4L505.8 246.9L502.4 248.9L495.5 246.2L490.1 240.1Z" fill="rgb(116,116,116)"/>
<path d="M603.8 512.5L615.0 493.8L626.2 488.8L628.8 495.0L622.5 507.5L612.5 518.8L606.2 520.0Z" fill="rgb(116,116,116)"/>
<path d="M547.3 635.0L546.1 635.7L544.1 635.6L541.8 634.7L539.8 633.1L538.6 631.4L538.7 630.0L539.9 629.3L541.9 629.4L544.2 630.3L546.2 631.9L547.4 633.6Z" fill="rgb(118,118,118)"/>
<path d="M232.8 270.5L232.2 272.0L230.9 273.1L229.0 273.5L227.1 273.1L225.8 272.0L225.2 270.5L225.8 269.0L227.1 267.9L229.0 267.5L230.9 267.9L232.2 269.0Z" fill="rgb(122,122,122)"/>
<path d="M598.8 423.8L615.0 417.5L632.5 415.0L640.0 412.5L646.2 420.0L647.5 442.5L640.0 447.0L632.5 447.5L625.0 445.0L612.5 440.0L601.2 432.5Z" fill="rgb(122,122,122)"/>
<path d="M603.8 445.0L615.0 446.2L620.0 453.8L615.0 456.2L606.2 450.0Z" fill="rgb(122,122,122)"/>
<path d="M115.5 421.2L120.0 423.8L121.5 430.0L120.0 440.0L116.5 447.5L115.5 447.5Z" fill="rgb(133,133,133)"/>
<path d="M438.2 255.6L437.0 256.9L435.0 257.3L432.7 256.9L430.6 255.7L429.4 254.1L429.3 252.4L430.5 251.1L432.5 250.7L434.8 251.1L436.9 252.3L438.1 253.9Z" fill="rgb(133,133,133)"/>
<path d="M507.9 220.6L507.6 222.7L506.9 224.2L505.9 224.7L505.0 224.2L504.3 222.7L504.0 220.6L504.3 218.6L505.0 217.1L505.9 216.5L506.9 217.1L507.6 218.6Z" fill="rgb(133,133,133)"/>
<path d="M508.1 236.6L507.9 237.5L507.3 238.1L506.5 238.3L505.7 238.1L505.1 237.5L504.8 236.6L505.1 235.8L505.7 235.2L506.5 235.0L507.3 235.2L507.9 235.8Z" fill="rgb(133,133,133)"/>
<path d="M499.1 244.2L498.3 244.7L497.1 244.5L495.7 243.9L494.6 242.8L494.0 241.7L494.2 240.8L495.0 240.3L496.2 240.5L497.6 241.2L498.7 242.2L499.2 243.3Z" fill="rgb(133,133,133)"/>
<path d="M603.8 427.5L615.0 423.8L630.0 423.8L636.2 417.0L641.5 418.0L642.0 430.0L637.5 438.8L625.0 439.5L612.5 437.0L603.8 432.5Z" fill="rgb(133,133,133)"/>
<path d="M615.8 490.5L626.2 489.0L627.5 496.2L621.2 501.2L615.8 497.5Z" fill="rgb(137,137,137)"/>
<path d="M567.0 476.2L568.0 478.3L568.3 480.0L568.0 480.9L567.0 480.8L565.8 479.6L564.5 477.8L563.5 475.7L563.2 474.0L563.5 473.1L564.5 473.2L565.8 474.4Z" fill="rgb(141,141,141)"/>
<path d="M305.9 187.1L310.6 187.1L311.1 198.1L308.8 205.1L305.6 203.5Z" fill="rgb(145,145,145)"/>
<path d="M318.9 219.2L326.7 217.6L332.2 223.1L331.9 230.9L323.6 230.1L318.1 226.2Z" fill="rgb(145,145,145)"/>
<path d="M606.2 447.0L613.8 448.0L612.5 451.2L607.0 450.0Z" fill="rgb(145,145,145)"/>
<path d="M607.0 429.5L618.0 428.0L620.5 431.0L616.2 433.5L608.8 433.0Z" fill="rgb(150,150,150)"/>
<path d="M635.5 420.5L639.8 419.5L640.0 427.0L636.5 429.0Z" fill="rgb(150,150,150)"/>
<path d="M436.7 255.3L436.1 255.9L434.9 256.1L433.5 255.8L432.3 255.1L431.5 254.2L431.4 253.4L432.0 252.7L433.2 252.6L434.6 252.8L435.8 253.5L436.6 254.4Z" fill="rgb(151,151,151)"/>
<path d="M346.9 225.2L346.2 228.1L345.0 230.2L343.5 230.9L342.2 229.9L341.4 227.7L341.3 224.7L341.9 221.8L343.1 219.7L344.6 219.0L345.9 219.9L346.7 222.2Z" fill="rgb(180,180,180)"/>
<path d="M332.6 211.0L332.8 214.5L332.2 217.2L331.0 218.3L329.5 217.6L328.2 215.1L327.4 211.7L327.2 208.2L327.8 205.5L329.0 204.4L330.5 205.1L331.8 207.5Z" fill="rgb(191,191,191)"/>
<path d="M345.6 225.5L345.2 227.6L344.5 229.1L343.7 229.6L343.0 229.0L342.5 227.4L342.5 225.3L342.9 223.2L343.6 221.7L344.4 221.2L345.2 221.8L345.6 223.4Z" fill="rgb(214,214,214)"/>
<path d="M331.6 211.2L331.7 213.4L331.5 215.0L330.9 215.7L330.2 215.2L329.5 213.7L329.1 211.5L328.9 209.3L329.2 207.7L329.7 207.0L330.4 207.5L331.1 209.0Z" fill="rgb(249,249,249)"/>
<path d="M725.0 401.2L728.8 401.2L728.8 411.2L725.0 411.2Z" fill="rgb(21,21,21)"/>
<path d="M703.8 386.2L713.8 386.2L713.8 396.2L703.8 396.2Z" fill="rgb(21,21,21)"/>
</g>
</g>
<g filter="url(#cm2)"><g filter="url(#blX)">
<path d="M570.8 285.2L570.6 285.9L570.1 286.3L569.5 286.5L568.9 286.3L568.4 285.9L568.2 285.2L568.4 284.6L568.9 284.2L569.5 284.0L570.1 284.2L570.6 284.6Z" fill="rgb(29,29,29)"/>
<path d="M180.0 481.8L179.8 482.8L179.4 483.5L178.8 483.8L178.1 483.5L177.7 482.8L177.5 481.8L177.7 480.8L178.1 480.0L178.8 479.8L179.4 480.0L179.8 480.8Z" fill="rgb(29,29,29)"/>
<path d="M312.2 513.8L312.0 514.6L311.4 515.3L310.5 515.5L309.6 515.3L309.0 514.6L308.8 513.8L309.0 512.9L309.6 512.2L310.5 512.0L311.4 512.2L312.0 512.9Z" fill="rgb(29,29,29)"/>
<path d="M315.2 426.2L315.0 427.2L314.5 428.0L313.8 428.2L313.0 428.0L312.5 427.2L312.2 426.2L312.5 425.2L313.0 424.5L313.8 424.2L314.5 424.5L315.0 425.2Z" fill="rgb(29,29,29)"/>
<path d="M277.5 513.8L277.3 514.8L276.9 515.5L276.2 515.8L275.6 515.5L275.2 514.8L275.0 513.8L275.2 512.8L275.6 512.0L276.2 511.8L276.9 512.0L277.3 512.8Z" fill="rgb(29,29,29)"/>
<path d="M321.0 512.0L320.6 513.0L319.5 513.7L318.0 514.0L316.5 513.7L315.4 513.0L315.0 512.0L315.4 511.0L316.5 510.3L318.0 510.0L319.5 510.3L320.6 511.0Z" fill="rgb(29,29,29)"/>
<path d="M347.0 520.0L346.7 521.5L346.0 522.6L345.0 523.0L344.0 522.6L343.3 521.5L343.0 520.0L343.3 518.5L344.0 517.4L345.0 517.0L346.0 517.4L346.7 518.5Z" fill="rgb(29,29,29)"/>
<path d="M264.0 507.0L263.7 508.0L263.0 508.7L262.0 509.0L261.0 508.7L260.3 508.0L260.0 507.0L260.3 506.0L261.0 505.3L262.0 505.0L263.0 505.3L263.7 506.0Z" fill="rgb(29,29,29)"/>
<path d="M332.0 470.0L331.7 471.5L331.0 472.6L330.0 473.0L329.0 472.6L328.3 471.5L328.0 470.0L328.3 468.5L329.0 467.4L330.0 467.0L331.0 467.4L331.7 468.5Z" fill="rgb(29,29,29)"/>
<path d="M380.0 455.0L379.7 456.0L379.0 456.7L378.0 457.0L377.0 456.7L376.3 456.0L376.0 455.0L376.3 454.0L377.0 453.3L378.0 453.0L379.0 453.3L379.7 454.0Z" fill="rgb(29,29,29)"/>
<path d="M359.0 430.0L358.6 431.0L357.5 431.7L356.0 432.0L354.5 431.7L353.4 431.0L353.0 430.0L353.4 429.0L354.5 428.3L356.0 428.0L357.5 428.3L358.6 429.0Z" fill="rgb(29,29,29)"/>
<path d="M302.0 447.0L301.7 448.5L301.0 449.6L300.0 450.0L299.0 449.6L298.3 448.5L298.0 447.0L298.3 445.5L299.0 444.4L300.0 444.0L301.0 444.4L301.7 445.5Z" fill="rgb(29,29,29)"/>
<path d="M288.0 330.0L287.6 332.0L286.5 333.5L285.0 334.0L283.5 333.5L282.4 332.0L282.0 330.0L282.4 328.0L283.5 326.5L285.0 326.0L286.5 326.5L287.6 328.0Z" fill="rgb(29,29,29)"/>
<path d="M294.0 300.0L293.7 301.5L293.0 302.6L292.0 303.0L291.0 302.6L290.3 301.5L290.0 300.0L290.3 298.5L291.0 297.4L292.0 297.0L293.0 297.4L293.7 298.5Z" fill="rgb(29,29,29)"/>
<path d="M355.0 300.0L354.6 301.5L353.5 302.6L352.0 303.0L350.5 302.6L349.4 301.5L349.0 300.0L349.4 298.5L350.5 297.4L352.0 297.0L353.5 297.4L354.6 298.5Z" fill="rgb(29,29,29)"/>
<path d="M375.0 372.0L374.6 373.0L373.5 373.7L372.0 374.0L370.5 373.7L369.4 373.0L369.0 372.0L369.4 371.0L370.5 370.3L372.0 370.0L373.5 370.3L374.6 371.0Z" fill="rgb(29,29,29)"/>
<path d="M347.0 395.0L346.7 396.5L346.0 397.6L345.0 398.0L344.0 397.6L343.3 396.5L343.0 395.0L343.3 393.5L344.0 392.4L345.0 392.0L346.0 392.4L346.7 393.5Z" fill="rgb(29,29,29)"/>
<path d="M232.0 420.0L231.7 421.0L231.0 421.7L230.0 422.0L229.0 421.7L228.3 421.0L228.0 420.0L228.3 419.0L229.0 418.3L230.0 418.0L231.0 418.3L231.7 419.0Z" fill="rgb(29,29,29)"/>
<path d="M207.0 455.0L206.7 456.5L206.0 457.6L205.0 458.0L204.0 457.6L203.3 456.5L203.0 455.0L203.3 453.5L204.0 452.4L205.0 452.0L206.0 452.4L206.7 453.5Z" fill="rgb(29,29,29)"/>
<path d="M390.0 395.0L389.7 397.0L389.0 398.5L388.0 399.0L387.0 398.5L386.3 397.0L386.0 395.0L386.3 393.0L387.0 391.5L388.0 391.0L389.0 391.5L389.7 393.0Z" fill="rgb(29,29,29)"/>
<path d="M368.0 350.0L367.6 351.0L366.5 351.7L365.0 352.0L363.5 351.7L362.4 351.0L362.0 350.0L362.4 349.0L363.5 348.3L365.0 348.0L366.5 348.3L367.6 349.0Z" fill="rgb(29,29,29)"/>
<path d="M441.0 679.5L440.9 679.9L440.6 680.1L440.2 680.2L439.9 680.1L439.6 679.9L439.5 679.5L439.6 679.1L439.9 678.9L440.2 678.8L440.6 678.9L440.9 679.1Z" fill="rgb(64,64,64)"/>
<path d="M364.0 312.5L363.9 313.0L363.5 313.4L363.0 313.5L362.5 313.4L362.1 313.0L362.0 312.5L362.1 312.0L362.5 311.6L363.0 311.5L363.5 311.6L363.9 312.0Z" fill="rgb(110,110,110)"/>
<path d="M402.0 345.0L401.5 346.9L400.1 348.2L398.2 348.8L396.4 348.2L395.0 346.9L394.5 345.0L395.0 343.1L396.4 341.8L398.2 341.2L400.1 341.8L401.5 343.1Z" fill="rgb(110,110,110)"/>
<path d="M256.8 282.0L256.5 282.8L255.9 283.3L255.0 283.5L254.1 283.3L253.5 282.8L253.2 282.0L253.5 281.2L254.1 280.7L255.0 280.5L255.9 280.7L256.5 281.2Z" fill="rgb(145,145,145)"/>
<path d="M220.8 192.5L220.6 193.4L220.1 194.0L219.5 194.2L218.9 194.0L218.4 193.4L218.2 192.5L218.4 191.6L218.9 191.0L219.5 190.8L220.1 191.0L220.6 191.6Z" fill="rgb(145,145,145)"/>
<path d="M251.3 336.8L251.7 337.8L251.6 338.8L251.1 339.4L250.3 339.6L249.4 339.1L248.7 338.2L248.3 337.2L248.4 336.2L248.9 335.6L249.7 335.4L250.6 335.9Z" fill="rgb(145,145,145)"/>
<path d="M401.4 345.0L401.0 346.6L399.8 347.7L398.2 348.1L396.7 347.7L395.5 346.6L395.1 345.0L395.5 343.4L396.7 342.3L398.2 341.9L399.8 342.3L401.0 343.4Z" fill="rgb(145,145,145)"/>
<path d="M400.9 345.0L400.5 346.3L399.6 347.3L398.2 347.6L396.9 347.3L396.0 346.3L395.6 345.0L396.0 343.7L396.9 342.7L398.2 342.4L399.6 342.7L400.5 343.7Z" fill="rgb(191,191,191)"/>
<path d="M400.4 345.0L400.1 346.1L399.3 346.8L398.2 347.1L397.2 346.8L396.4 346.1L396.1 345.0L396.4 343.9L397.2 343.2L398.2 342.9L399.3 343.2L400.1 343.9Z" fill="rgb(226,226,226)"/>
<path d="M399.4 345.1L399.2 345.7L398.8 346.1L398.2 346.2L397.7 346.1L397.3 345.7L397.1 345.1L397.3 344.6L397.7 344.2L398.2 344.0L398.8 344.2L399.2 344.6Z" fill="rgb(249,249,249)"/>
</g></g>
<path d="M185.1 215.7L191.1 217.4L197.1 219.1L203.1 220.7L209.2 222.3L215.2 223.9L221.2 225.4L227.3 226.9L233.4 228.4L239.4 229.8L245.5 231.2L251.6 232.6L257.7 233.9L263.8 235.2L269.9 236.5L276.0 237.7L282.1 238.9L288.2 240.1L294.3 241.3L300.5 242.4L306.6 243.4L312.8 244.5L318.9 245.5L325.1 246.4L331.2 247.4L337.4 248.3L343.6 249.1L349.8 250.0L355.9 250.8L362.1 251.6L368.3 252.3L374.5 253.0L380.7 253.7L386.9 254.3L393.1 254.9L399.3 255.5L405.5 256.0L411.7 256.5L418.0 257.0L424.2 257.4L430.4 257.8L436.6 258.1L442.8 258.5L449.1 258.8L455.3 259.0L461.5 259.3L467.8 259.5L474.0 259.6L480.2 259.7L486.5 259.8L492.7 259.9L498.9 259.9L505.2 259.9L511.4 259.9L517.6 259.8L523.9 259.7L530.1 259.5L536.3 259.3M161.5 263.5L167.1 265.3L169.7 268.1L173.1 268.4L174.9 271.5L175.4 275.6L174.7 279.4L178.9 282.1L182.8 283.0L187.3 281.8L191.8 283.0L194.5 285.5L198.6 285.8L204.0 286.2L208.0 286.6L211.7 285.8L216.6 285.0L220.5 285.7L225.0 285.4L230.3 286.7L235.6 287.9L240.9 289.1L246.3 290.2L251.6 291.4M262.1 234.9L260.4 242.9L258.6 251.0L256.9 259.0L255.2 267.0L253.5 275.0L251.7 283.0L251.9 287.5L251.6 291.4M251.6 291.4L252.8 294.5L254.9 299.8L255.5 302.9L251.7 307.0L248.4 311.1L245.0 314.3L241.5 319.4L243.0 323.6L244.6 325.9L241.6 331.5L239.8 340.0L238.0 348.4L236.2 356.9L234.4 365.4M136.4 340.5L143.0 342.4L149.6 344.3L156.2 346.2L162.8 348.0L169.4 349.8L176.1 351.6L182.7 353.3L189.4 355.0L196.0 356.6L202.7 358.3L209.4 359.8L216.1 361.4L222.8 362.9L229.5 364.4L236.2 365.8L242.9 367.2L249.6 368.6L256.4 369.9L263.1 371.2L269.9 372.4L276.6 373.6L283.4 374.8L290.1 376.0L296.9 377.1L303.7 378.2L310.5 379.2L317.3 380.2M317.3 380.2L318.6 370.9L320.0 361.6L321.3 352.3L322.7 342.9L324.0 333.6M324.0 333.6L320.0 328.4L318.2 331.4L311.4 330.8L306.6 331.0L300.2 331.9L297.8 330.1L293.0 321.6L293.2 316.8L290.9 310.6L288.4 305.3L283.3 307.3L281.0 305.0L284.8 298.9L283.6 294.8L287.2 285.7L283.6 283.7L280.7 277.7L276.7 272.6L272.8 267.4L271.6 262.0L270.4 256.6L271.6 250.2L272.9 243.8L274.2 237.4M325.4 323.8L332.1 324.8L338.7 325.7L345.4 326.5L352.1 327.4L358.8 328.2L365.5 328.9L372.2 329.7L378.8 330.3L385.5 331.0L392.2 331.6L398.9 332.2L405.6 332.7L412.4 333.2L419.1 333.7M424.2 257.4L423.5 267.0L422.9 276.5L422.2 286.1L421.6 295.6L421.0 305.2L420.3 314.7L419.7 324.2L419.1 333.7L418.4 343.2L417.8 352.7L417.2 362.1L416.5 371.6L415.9 381.1L415.3 390.5L414.7 400.0L414.0 409.4M314.6 398.9L321.6 399.9L328.7 400.9L335.8 401.8L342.9 402.7L350.0 403.6L357.1 404.4L364.2 405.1L371.3 405.9L378.4 406.6L385.5 407.2L392.6 407.8L399.8 408.4L406.9 408.9L414.0 409.4M325.4 323.8L324.1 333.2L322.7 342.6L321.3 352.0L320.0 361.4L318.6 370.8L317.3 380.2L315.9 389.6L314.6 398.9M420.3 315.8L426.9 316.2L433.5 316.6L440.1 317.0L446.7 317.3L453.3 317.6L459.9 317.8L466.6 318.0L473.2 318.2L479.8 318.3L486.4 318.4L493.0 318.5L499.7 318.5L506.3 318.5L512.9 318.4L519.5 318.3M416.5 371.6L422.9 372.0L429.4 372.4L435.8 372.7L442.2 373.0L448.6 373.3L455.0 373.6L461.4 373.8L467.8 374.0L474.2 374.1L480.7 374.2L487.1 374.3L493.5 374.4L496.3 376.3L501.8 378.2L508.8 376.8L514.3 378.9L518.6 381.8L522.1 383.9M414.0 409.4L421.2 409.9L428.3 410.3L435.4 410.7L442.6 411.0L442.1 420.5L441.7 429.9M441.7 429.9L448.7 430.2L455.7 430.5L462.7 430.7L469.6 430.9L476.6 431.0L483.6 431.1L490.6 431.2L497.5 431.2L504.5 431.2L511.5 431.2L518.5 431.1L525.5 431.0L532.4 430.8L539.4 430.6M342.9 402.7L341.8 411.8L340.7 420.9L339.6 430.0L338.5 439.1L337.3 448.1L336.2 457.2L335.1 466.3L334.0 475.4L332.9 484.5L331.8 493.6L330.7 502.7L329.6 511.8L328.5 520.9L327.4 530.0L326.2 539.1L325.1 548.2L324.0 557.4L322.9 566.5L321.8 575.7L320.7 584.8M441.7 429.9L441.3 439.4L440.9 448.8L440.5 458.3L440.0 467.7L439.6 477.2L439.2 486.7M258.9 466.6L266.4 468.0L273.8 469.2L281.2 470.4L288.7 471.6L296.1 472.8L303.6 473.9L311.0 474.9L318.5 475.9L326.0 476.9L333.4 477.8L340.9 478.7L348.4 479.6L355.9 480.4L363.4 481.2L370.9 481.9L378.4 482.6L385.9 483.2L393.4 483.8L400.9 484.4L408.5 484.9L416.0 485.4L423.5 485.9L431.0 486.3L438.5 486.6L446.1 486.9L453.6 487.2L461.1 487.5L468.7 487.6L476.2 487.8L483.7 487.9L491.3 488.0L498.8 488.0L506.3 488.0L513.9 487.9L521.4 487.8L528.9 487.7L536.5 487.5L544.0 487.3L551.5 487.1M275.6 373.5L274.0 382.5L272.3 391.5L270.7 400.5L269.1 409.5L267.5 418.5L265.9 427.5L264.3 436.5L262.7 445.5L261.1 454.5L259.5 463.5L257.9 472.6L256.3 481.6L252.0 483.7L245.4 481.5L245.2 484.4L245.2 491.1L244.2 500.6L243.4 502.4M193.6 356.1L191.3 365.2L189.1 374.4L186.8 383.6L184.5 392.8L182.3 402.0L180.0 411.2L185.4 419.6L190.8 428.0L196.3 436.3L201.9 444.6L207.6 453.0L213.4 461.2L219.2 469.5L225.2 477.8L231.2 486.0L237.2 494.2L243.4 502.4M243.4 502.4L243.8 505.3L245.2 512.3L248.4 516.8L243.9 519.8L241.3 523.2L239.0 528.6L236.8 532.0L238.2 540.0L234.1 544.7M195.7 540.7L203.3 541.6L211.0 542.4L218.7 543.2L226.4 544.0L234.1 544.7L231.9 548.7M231.9 548.7L238.8 552.8L245.7 556.9L252.7 560.9L259.7 564.9L266.7 568.8L273.8 572.7L280.9 576.6L288.0 580.5L295.7 581.6L303.4 582.6L311.1 583.6L318.8 584.6L326.5 585.5L334.3 586.4L335.2 577.9L342.0 578.6L348.8 579.3L355.5 580.0L362.3 580.7M361.3 576.4L368.4 577.0L375.6 577.7L382.8 578.3L389.9 578.8L397.1 579.3L404.3 579.8L411.5 580.3L418.7 580.7M418.7 580.7L419.2 571.2L419.8 561.7L420.4 552.2L420.9 542.7L421.5 533.2L422.0 523.7L422.6 514.3L423.2 504.8L423.7 495.4L424.8 485.9M423.7 495.4L430.3 495.7L436.9 496.0L443.5 496.3L450.1 496.6L456.8 496.8L463.4 497.0L470.0 497.1L469.8 506.3L469.6 515.5L469.4 524.7L469.2 533.9M469.2 533.9L473.8 537.1L478.5 537.1L481.6 540.0L485.5 541.0L491.0 542.0L494.9 542.4L498.9 542.4L501.2 546.8L506.7 546.4L513.1 549.6L513.8 547.1L518.6 547.3L522.5 548.0L526.5 550.0L532.0 549.3L538.3 546.3L543.8 545.8L547.8 547.0L552.6 549.7L556.1 550.7M551.5 487.1L551.9 496.5L553.1 503.4L554.4 510.3L555.6 517.2L555.7 525.6L555.9 533.9L556.0 542.3L556.1 550.7L563.2 552.1L563.5 559.4L563.8 566.8L564.1 574.2L564.4 581.6L568.4 589.0L573.1 596.4L572.2 602.2L571.2 608.0L571.3 617.6L569.5 625.4M551.9 496.5L559.5 496.2L567.0 495.9L574.6 495.5L582.1 495.1L589.7 494.6L597.2 494.1L604.8 493.5L612.3 492.9L619.8 492.3L621.2 496.0L617.1 502.1L622.3 501.6L627.5 501.1M563.6 562.2L571.3 561.9L578.9 561.5L586.6 561.2L594.2 560.7L601.9 560.3L609.5 559.8M522.1 383.9L523.6 389.3L527.3 396.9L527.4 402.5L529.9 407.0L531.2 413.8L532.1 419.9L536.5 426.0L539.4 430.6L544.0 432.8L545.5 435.2L542.7 439.1L545.8 442.7L550.2 447.1L550.5 455.1L550.7 463.1L551.0 471.1L551.3 479.1L551.5 487.1M532.5 419.8L538.9 419.6L545.4 419.3L551.8 419.0L558.3 418.7L564.7 418.3L571.2 417.9L577.6 417.5L584.0 417.1L590.5 416.6L595.2 420.6M521.8 364.7L528.3 364.6L534.9 364.4L541.4 364.2L547.9 364.0L554.5 363.7L561.0 363.4L567.6 363.1L574.1 362.7L580.6 362.3L587.2 361.9L593.7 361.4M522.1 383.9L519.9 379.9L521.9 372.3L519.8 368.5L521.8 364.7L521.6 356.2L521.5 347.6L521.3 339.1L521.2 330.5L515.7 324.9L519.5 318.3L518.9 311.5L517.6 305.8L516.3 300.1L515.8 294.3L515.3 288.6L512.6 280.0L511.9 274.7L511.2 269.5L510.1 259.9M575.2 302.4L575.6 308.0L575.9 313.6L572.1 317.4L568.3 321.2L571.9 326.7L570.8 334.4L570.6 339.1L574.9 342.1L581.9 345.1L586.3 350.5L592.9 355.8L593.7 361.4L594.5 369.0L595.5 372.7L602.2 377.9L603.2 379.7L610.0 386.7L611.2 392.3L607.3 397.4L603.2 399.2L599.1 400.9L598.7 404.8L601.2 410.3L595.3 417.4L595.2 420.6L594.3 424.1L596.2 429.6L601.0 435.0L607.4 442.1L607.8 446.8L615.3 448.1L615.9 452.2L614.1 460.5L619.7 464.8L623.8 470.6L628.0 476.4L634.4 481.8M634.4 481.8L634.1 489.1L631.2 491.3L629.3 495.3L627.5 501.1L628.5 503.0L624.5 510.0L623.3 517.7L620.0 520.8L620.2 523.7L616.1 530.7L612.0 538.6L610.1 544.5L608.3 552.3L609.5 559.8L611.0 567.3L614.7 572.8L612.6 576.8L607.6 586.7L606.4 592.5L605.2 598.4M603.2 379.7L609.8 379.2L616.4 378.6L623.0 378.0L629.6 377.4L636.1 376.8L642.7 376.1M648.1 389.4L649.1 398.4L650.2 407.5L651.2 416.6L652.3 425.6L653.3 434.7L652.1 439.6L655.1 445.9L652.1 452.9L649.6 457.0L648.0 462.9M634.4 481.8L639.1 480.5L643.7 479.2L643.9 473.8L648.8 470.4L648.0 462.9L655.3 461.1L663.1 463.1L667.1 459.2L671.7 459.7L674.1 455.0L680.5 457.6L681.9 451.7L685.9 442.4L689.6 438.3L693.3 434.2L698.0 433.5L703.2 438.5L711.0 440.5L716.9 440.2L723.0 436.3L727.7 441.8L731.5 437.7L732.3 433.7L734.5 429.5L737.5 425.1L740.0 423.3L744.7 419.9L748.2 412.5L749.4 405.5L749.7 399.7L750.0 395.0M693.3 434.2L692.2 426.1L691.1 418.0L689.9 409.9L688.8 401.7L687.6 393.6L686.5 385.5M652.7 388.8L659.4 388.0L666.2 387.1L672.9 386.3L679.6 385.3L686.3 384.4L686.5 385.5L692.8 384.4L699.0 383.2L705.3 382.0M745.1 369.7L746.7 378.2L748.4 386.7L750.0 395.2L751.7 403.6L753.3 412.1L760.1 410.8L766.8 409.4L773.6 408.0L780.3 406.6L787.0 405.1L793.8 403.6L800.5 402.0L807.2 400.4L813.9 398.8L820.6 397.2M754.6 362.6L755.6 367.6L762.3 366.2L769.1 364.8L775.8 363.3L782.6 361.8L789.3 360.3L796.0 358.7L802.7 357.1L809.4 355.5L816.1 353.8M816.1 353.8L821.0 357.0L823.9 361.5L828.0 363.2L825.4 369.0L823.9 371.7L824.7 378.9L829.2 381.7L832.9 384.6L829.4 391.4L825.0 394.5L824.5 398.5M828.0 363.2L834.4 365.1L840.8 366.9M844.3 365.9L845.3 361.7L843.2 353.9L841.0 346.2L840.8 339.4L840.6 332.5L838.7 325.2L836.8 317.8L834.3 316.6L832.2 308.3L830.1 300.0L828.1 291.7M810.5 296.4L816.5 294.8L822.4 293.2L828.3 291.6L834.3 289.9L840.2 288.2L846.1 286.5L852.0 284.7L851.9 279.8L855.7 277.6L858.7 274.7L861.9 266.8L861.5 258.9L861.5 253.4L861.4 247.9L864.1 239.4L866.6 230.9L872.2 234.7L875.4 232.0L878.6 229.2L882.6 230.6L886.6 232.1L889.0 239.1L891.5 246.2L893.9 253.2L900.0 257.1L903.5 265.0L910.2 267.7M855.7 277.6L858.5 285.4L861.2 293.2L864.0 300.9L866.8 308.7L873.1 316.6M852.0 284.7L853.4 294.2L849.2 301.4L849.6 310.2L849.3 319.2L849.7 328.0L851.5 329.8M840.6 332.5L847.3 330.9L853.9 329.2L860.6 327.5L867.2 325.8L869.2 322.8L872.7 320.7M841.2 346.1L846.9 344.7L852.7 343.2L858.4 341.7L864.2 340.1L869.9 338.4L874.0 343.5L876.2 346.8M864.2 340.1L865.9 345.8L867.5 351.4L867.3 353.1M820.6 397.2L822.7 394.5L825.4 394.4M820.6 397.2L822.9 404.8L825.3 412.4L827.6 420.0L832.3 418.9L837.0 417.8M836.2 426.2L830.7 429.2M768.2 409.1L769.2 413.9L770.2 418.8L774.6 412.6L779.1 409.2L784.0 407.7L786.6 406.0L791.9 406.3L794.9 411.1L798.5 412.2L802.8 414.9L806.8 418.4L805.5 426.5L809.6 427.5L815.4 429.5L821.3 431.5M794.9 411.1L794.1 414.9L789.8 413.3L785.6 411.6L783.1 418.3L780.7 425.1L777.1 431.8L770.1 430.8L768.6 436.7L767.2 442.6L764.1 449.9L764.6 452.7L760.6 455.4L756.5 458.1L752.2 459.9L745.3 462.2L739.8 456.6M739.8 456.6L734.4 454.5L731.6 451.1L728.4 445.9L727.7 441.8M739.8 456.6L735.2 462.1L730.6 467.6L725.2 472.4L721.3 475.4L717.3 478.4M631.2 491.3L637.9 490.6L644.6 489.9L651.4 489.2L651.0 485.8L658.4 485.2L665.7 484.5L673.1 483.7L680.5 482.9L687.9 482.1L695.2 481.3L702.6 480.4L710.0 479.4L717.3 478.4L724.8 477.3L732.3 476.1L739.8 474.8L747.3 473.5L754.6 472.3L761.8 470.9L769.1 469.6L776.3 468.2L783.5 466.8L790.7 465.3L798.0 463.8L805.2 462.3L812.4 460.7L819.5 459.1L826.7 457.4L833.9 455.7M747.3 473.5L747.8 478.1L743.4 483.7L739.4 485.3L735.4 487.0L731.1 489.1L726.5 494.2L723.1 497.3L716.0 501.7L715.9 504.2L712.1 506.1L712.3 510.1M620.0 520.8L627.4 520.2L634.8 519.5L642.2 518.8L649.7 518.0L657.1 517.2L664.5 516.3L671.9 515.5L679.3 514.5L686.7 513.6L694.1 512.6L701.5 511.5L708.9 510.4L716.2 509.3L723.6 508.2L731.0 507.0M731.0 507.0L728.0 513.2L735.8 516.7L741.8 524.4L749.4 530.8L753.8 532.9L762.3 540.1L765.3 547.3L770.6 554.0L775.2 556.4M731.0 507.0L736.0 504.2L741.0 501.4L748.0 500.5L754.9 499.6L761.8 498.6L762.2 500.5L763.8 499.2L767.1 504.0L772.8 503.0L778.5 502.0L784.1 501.0L791.1 505.7L798.0 510.4L805.1 515.0M692.6 513.2L695.0 520.9L697.4 528.7L699.8 536.4L702.3 544.2L704.7 551.9L706.9 557.1L709.1 562.3L709.3 569.0L709.4 575.7L711.0 581.3L712.6 586.8L715.7 592.2M652.5 517.9L654.2 519.4L654.3 527.6L654.3 535.8L654.4 544.0L654.4 552.3L654.4 560.5L654.5 568.7L654.5 577.0L655.5 584.1L656.5 591.2L657.6 598.4L658.6 605.5M673.3 605.8L671.9 599.1L670.4 592.3L677.5 591.5L684.5 590.6L691.6 589.7L698.6 588.8L705.6 587.8L712.6 586.8M715.7 592.2L723.0 591.5L730.3 590.8L737.6 590.1L744.8 589.3L752.1 588.5L759.4 587.7L762.5 591.2L762.0 583.7L766.5 583.4L771.1 583.1M639.2 610.9L636.5 603.5L633.8 596.1L626.6 596.7L619.5 597.3L612.3 597.8L605.2 598.4M362.3 580.7L367.1 587.4L371.6 591.4L376.2 595.3L380.8 599.8L385.4 604.3L387.4 610.2L389.5 616.1L394.3 625.9L398.8 629.0L403.4 632.1L408.7 635.3L413.9 638.5L418.4 633.4L422.7 624.2L429.0 621.8L437.3 623.7L443.9 624.5L451.9 632.9L455.1 639.2L458.3 645.6L461.4 654.3L468.1 661.7L474.8 669.0L476.3 678.7L479.6 688.4L486.6 691.4L491.7 694.4L497.0 697.3L502.2 698.3L507.4 699.2L515.3 699.2M595.8 301.7L600.2 304.3L607.2 307.1L615.1 308.9L623.0 310.8L628.3 312.2L631.4 313.8L633.6 316.1L635.0 318.7L634.4 321.0L636.2 322.6L637.4 324.9L638.5 327.5" fill="none" stroke="#1c1c1c" stroke-width="0.72" stroke-linejoin="round"/>
<path d="M145.4 187.9L145.5 188.8L146.3 189.6L148.7 190.2L147.9 191.7L148.2 192.5L148.2 193.8L148.8 194.6L149.0 196.1L149.7 195.8L151.5 195.9L151.3 198.2L151.5 199.0L151.0 199.9L153.5 200.9L154.0 200.7L155.1 202.0L156.0 202.3L154.1 204.1L157.0 203.8L157.9 205.0L157.3 206.3L156.2 208.0L157.4 208.4L158.3 208.0L159.5 208.2L161.6 209.2L162.2 208.6L162.9 208.7L163.8 210.0L164.2 211.1L166.1 211.4L165.7 208.1L166.2 208.3L166.3 207.7L169.7 206.5L168.1 208.4L167.8 209.7L165.2 209.6L165.7 210.6L165.0 212.7L163.1 211.5L162.9 212.7L162.9 214.2L162.5 213.6L162.8 213.8L164.5 215.0L164.0 215.6L166.5 215.1L166.3 217.1L166.7 218.8L167.2 219.0L168.2 220.0L168.9 220.7L169.8 222.1L171.6 220.6L171.5 223.0L173.8 221.6L173.6 222.9L176.7 223.6L175.0 225.7L175.2 226.2L177.9 226.5L177.3 228.4L179.3 226.2L180.8 226.7L181.3 226.6L180.8 225.4L182.3 224.7L183.9 223.3L181.2 223.1L182.6 221.5L181.3 220.2L182.6 218.1L181.2 217.5L180.9 216.0L180.7 215.4L180.2 214.9L178.5 214.2L180.7 213.0L177.9 212.6L178.6 211.0L177.9 209.4L176.1 209.2L176.4 208.2L176.5 206.7L175.2 206.9L173.5 206.3L171.2 206.7L171.6 204.6L171.5 203.9L170.0 202.0L169.4 201.4L170.3 200.4L169.1 199.8L169.4 198.5L169.9 197.1L168.4 196.4L168.5 195.0L170.2 193.2L168.7 192.2L166.6 191.7L167.6 190.9L167.9 189.5L167.2 188.7M172.7 188.7L171.2 189.9L173.6 190.9L171.6 192.3L174.1 193.6L173.6 193.8L173.2 195.3L174.5 196.3L174.5 197.3L175.5 198.5L175.9 199.0L176.2 201.0L176.7 201.2L176.0 204.0L176.8 202.0L179.0 201.2L175.9 198.9L179.1 199.4L180.0 199.6L180.4 198.0L182.4 197.5L182.1 197.2L181.9 195.9L183.2 195.2L185.9 195.3L184.0 193.6L184.3 193.2L184.8 193.9L183.9 194.8L184.5 196.7L183.0 197.6L180.6 197.8L181.6 199.3L182.1 200.7L181.9 202.0L181.5 203.0L184.1 203.5L185.1 205.2L186.9 204.7L188.6 204.0L189.5 205.0L190.7 201.2L190.0 203.8L188.5 204.7L188.7 206.5L187.5 207.3L187.9 207.2L188.4 208.6L185.4 209.9L187.0 211.5L187.6 212.0L186.4 212.7L187.8 213.8L186.9 215.1L187.5 216.2L189.5 217.3L188.6 214.2L189.8 216.0L190.6 216.6L191.8 216.3L190.7 218.5L192.6 218.5L191.0 220.5L192.5 221.7L192.5 222.3L193.3 222.3L192.3 223.8L194.4 225.4L192.5 225.6L192.8 227.1L192.3 229.0L193.1 230.2L192.5 230.5L194.3 231.9L192.0 233.2L191.5 232.9L193.4 234.9L193.2 236.0L192.8 237.1L192.0 237.1L190.9 238.1L192.5 241.0L191.4 241.8L191.1 243.1L191.2 243.2L191.0 245.2L189.2 245.3L190.5 246.0L187.4 246.8L187.6 247.6L188.5 249.7L188.1 250.6L186.5 251.7L184.9 250.7L185.3 252.8L184.0 254.2L182.7 253.1L182.0 252.6L179.9 253.1L180.6 251.2L179.4 252.1L180.2 251.4L179.9 250.1L181.5 249.6L182.8 247.9L181.5 250.2L181.3 247.7L179.9 249.2L179.4 247.1L177.7 245.3L181.2 246.3L180.3 245.0L181.6 244.3L182.1 243.8L181.4 241.6L181.5 240.2L183.6 240.6L185.5 240.6L186.3 239.5L187.6 239.1L187.9 238.1L185.7 237.7L186.9 235.8L188.1 234.3L185.0 233.9L183.5 234.2L183.7 232.3L183.1 232.3L182.9 231.4L180.4 232.0L179.4 230.8L178.9 232.8L177.9 229.7L176.7 228.6L176.6 228.8L173.4 230.2L173.9 228.6L172.1 231.1L171.2 227.5L170.6 227.4L169.5 227.6L168.9 225.5L168.9 225.8L167.2 223.4L166.8 224.0L165.7 222.9L164.8 222.4M164.8 222.4L163.5 223.5L163.3 224.6L163.2 227.8L163.3 230.9L164.0 234.8L164.3 238.7L164.1 243.8L164.1 248.8L165.7 249.8L167.2 251.2L165.7 251.8L164.5 252.8L165.7 254.7L166.1 256.7L164.5 257.8L163.3 259.0L162.6 261.3L161.8 263.7M170.4 189.5L170.0 190.5L172.1 191.2L171.3 193.0L172.9 194.0L173.9 195.0L173.5 195.1L174.8 195.7L175.4 196.9L174.4 198.5L175.8 199.6L174.9 201.0L175.9 201.8L177.9 202.5L177.9 201.8L176.6 203.3L176.9 202.1L176.1 201.0L174.9 200.3L176.1 198.9L172.9 198.0L172.9 197.0L173.6 195.6L174.8 194.0L173.0 194.0L171.3 193.3L171.5 190.5L171.9 191.1L170.4 189.5M178.6 209.8L179.0 211.0L179.8 211.7L179.5 213.3L181.0 212.6L180.8 215.1L180.8 216.7L183.2 216.2L183.5 217.1L183.2 218.1L184.0 219.9L184.4 220.8L185.5 221.1L186.9 221.0L188.2 222.2L188.2 223.8L188.8 224.3L190.8 224.7L188.6 225.5L187.4 225.8L187.5 225.0L186.0 226.0L186.1 224.4L184.2 224.1L184.1 222.6L183.7 221.4L184.7 220.2L185.4 218.2L182.7 219.1L182.0 217.1L182.2 216.6L179.7 216.3L181.0 214.9L178.8 214.7L180.6 212.8L180.0 211.0L179.2 210.7L178.6 209.8M184.8 222.3L186.9 221.5L187.4 222.5L187.2 223.3L190.2 222.3L190.5 223.0L189.4 225.1L189.6 225.4L188.7 228.1L187.4 226.6L185.9 225.7L184.0 226.0L184.9 224.4L185.7 223.4L184.8 222.3M190.7 226.2L191.3 226.3L192.6 225.3L192.9 225.8L192.5 226.3L190.2 228.3L193.6 228.5L193.0 229.2L192.6 230.1L190.9 229.9L192.6 233.2L189.3 232.1L190.8 233.5L192.0 233.1L192.0 234.2L192.5 235.8L192.5 236.9L193.1 238.0L193.2 237.7L192.0 238.7L190.4 238.5L189.1 239.6L189.9 236.2L190.2 235.6L188.8 235.0L187.6 234.3L188.6 232.1L191.3 232.4L189.5 230.8L189.7 229.2L189.6 228.8L191.1 227.8L190.7 226.2M179.8 198.1L180.0 198.8L181.3 199.4L181.6 200.4L182.1 201.0L180.9 202.7L179.7 202.4L181.6 201.1L180.0 199.9L178.0 199.6L179.8 198.1M185.2 205.1L185.6 205.3L187.1 204.3L188.4 205.8L190.5 205.3L190.6 207.0L189.2 208.3L187.6 207.4L187.1 207.2L186.5 206.9L184.6 206.9L185.2 205.1M182.9 244.9L185.0 246.2L185.3 244.0L185.8 243.5L186.3 243.0L186.9 242.4L188.6 242.8L187.6 243.0L187.9 244.2L186.7 246.0L187.9 246.6L186.4 247.3L185.6 248.0L186.0 250.0L184.7 249.5L183.6 250.2L182.0 251.4L182.2 250.1L180.9 250.0L184.0 250.0L183.4 247.4L183.0 247.2L184.1 245.7L182.9 244.9M161.5 263.8L161.2 268.0L160.0 273.8L158.8 280.0L156.5 287.5L153.8 295.0L150.8 302.5L147.5 310.0L143.8 316.8L140.0 322.5L137.5 327.0L136.2 330.0L135.8 335.0L135.5 340.0L135.0 343.0L132.5 348.8L130.0 355.0L127.0 361.2L125.0 367.5L125.5 372.5L126.2 377.5L128.0 383.0L129.5 387.5L129.0 392.5L128.8 397.5L130.0 402.5L131.2 407.5L133.2 412.0L135.0 416.2L132.0 418.0M126.2 400.0L129.5 406.2L132.5 412.5L132.0 418.0L135.0 419.5L137.5 421.2L139.5 418.0L142.5 419.0L142.0 423.8L143.8 428.8L145.0 432.5L141.2 430.0L138.8 425.0L137.5 421.2M137.5 430.0L137.0 433.8L139.5 440.0L144.5 443.0L140.5 447.0L140.0 451.2L142.5 456.2L146.2 462.5L148.2 467.5L150.0 472.5L152.5 480.0L151.2 485.0L151.2 488.8L153.8 493.0L158.8 494.5L162.5 495.5L167.5 500.0L171.2 503.0L175.0 506.2L181.2 508.8L182.5 512.5L187.5 517.5L190.5 521.2L192.5 525.0L194.5 530.0L195.5 535.0L196.2 541.2L196.8 546.2L198.0 551.2L200.0 555.5L201.2 560.0L202.0 565.0L203.0 571.2L204.5 578.8L206.2 585.0L207.0 590.0M150.8 501.0L155.0 502.0L160.0 503.0L164.5 504.5L160.0 505.0L155.0 503.8L150.8 501.0M160.8 518.2L162.2 519.2L160.8 519.8L160.8 518.2M176.2 518.2L178.8 520.0L180.0 522.5L177.5 521.8L176.2 518.2M174.5 526.2L176.5 528.8L177.0 531.5L175.0 530.0L174.5 526.2M180.0 407.0L181.5 409.0L180.5 412.0L178.8 411.5L178.5 408.8L180.0 407.0M244.5 481.2L247.5 480.5L250.0 478.0L252.0 474.5L253.0 477.5L252.5 481.2L255.0 482.5L257.0 480.5L258.0 483.8L260.0 486.2L261.2 489.2M250.0 478.0L251.2 482.5L253.0 485.0M206.5 588.0L206.4 589.2L207.0 590.4L207.1 591.2L207.4 592.3L207.5 593.6L207.9 594.1L208.3 595.4L208.3 596.4L208.9 597.3L209.9 598.7L209.5 599.8L210.3 600.9L210.9 601.5L212.1 602.1L212.7 602.8L213.6 603.5L214.6 604.2L215.2 605.2L216.1 606.1L216.8 606.5L217.1 607.9L218.5 608.1L219.0 609.1L219.5 609.9L219.9 611.4L220.8 611.8L221.5 612.7L222.3 613.5L223.0 614.5L223.8 615.3L223.9 616.5L224.6 617.3L225.1 618.3L226.0 619.1L225.7 620.5L227.1 621.1L227.9 622.0L227.8 623.1L228.0 623.9L228.4 625.5L229.4 626.3L229.2 627.2L229.1 628.3L230.0 629.0L230.1 630.5L230.4 631.5L229.2 632.7L228.9 633.0L228.1 634.2L227.2 634.9L226.4 635.4L225.8 636.4L224.6 636.7L223.9 637.8L222.7 637.6L221.6 637.1L220.6 637.2L219.5 636.6L218.3 636.2L217.3 636.4L216.1 636.5L215.2 636.4L213.9 635.6L213.1 636.2L212.1 636.1L212.7 636.3L213.7 637.3L214.3 638.2L215.7 638.8L216.6 639.4L216.4 640.6L217.5 641.3L217.7 642.7L218.2 643.5L218.3 644.7L218.4 645.5L218.7 646.5L219.7 647.7L220.2 648.9L220.6 649.5L221.7 650.2L222.3 650.8L223.6 651.4L224.6 651.6L224.9 652.9L225.5 653.6L226.5 654.4L227.2 655.5L228.3 656.2L229.1 656.4L229.8 657.7L230.6 658.1L231.1 659.2L232.1 659.7L232.9 660.0L234.1 659.9L235.6 659.6L236.2 659.0L237.5 659.2L238.7 658.3L239.2 658.9L239.4 660.2L239.2 661.2L239.9 662.3L240.8 663.2L241.6 663.7L241.5 665.2L243.0 665.6L243.2 666.8L244.5 666.9L244.7 668.3L245.2 669.1L246.2 670.2L246.7 670.7L247.6 671.7L248.4 672.8L248.5 673.9L249.1 674.6L249.9 675.3L250.4 676.3L251.4 677.3L251.2 678.5L251.5 679.5L252.6 680.7L252.5 681.3L252.7 682.5L253.3 683.5L252.7 684.8L253.1 685.8L253.8 686.8L253.5 688.0L253.2 689.0L254.0 690.1L253.4 690.8L253.4 692.4L253.3 693.2L252.9 694.3L252.9 695.5L252.7 696.5L252.3 697.6L251.3 698.5L250.6 699.3L250.1 700.4L249.6 701.1L249.9 702.2L249.8 703.3L250.4 704.4L251.3 705.3L251.7 706.2L251.8 707.3L253.2 707.7L254.0 708.5L254.9 709.4L255.8 709.7L256.4 710.8L257.7 710.6L258.3 712.4L259.2 712.4L260.2 712.8L260.9 713.9L261.9 714.0L262.8 715.4L263.6 715.9L264.8 716.2L265.5 716.7L266.3 717.6L267.5 718.0M224.5 636.5L226.0 636.4L226.4 635.4L227.5 635.0L228.0 636.1L228.8 637.0L228.7 638.2L229.3 639.3L229.1 640.5L229.0 641.1L228.3 642.0L227.4 641.8L226.1 641.8L225.2 641.3L225.1 639.9L225.5 638.6L224.9 637.6L224.5 636.5M209.0 625.0L209.4 626.0L210.2 627.0L210.4 627.9L210.6 629.2L211.0 630.3L210.0 631.1L208.9 631.3L208.4 630.5L208.0 629.4L208.2 628.4L208.4 627.1L208.8 626.2L209.0 625.0M161.5 599.5L162.8 599.6L163.2 600.7L163.0 601.7L163.3 602.5L162.7 603.5L161.9 604.6L161.7 603.9L161.6 602.6L161.0 601.9L161.5 600.7L161.5 599.5M228.0 561.2L227.3 562.0L227.5 563.4L226.6 564.5L226.3 565.5L226.0 566.3L226.2 567.3L226.1 568.7L225.4 569.6L226.3 571.0L225.6 572.0L225.5 573.7L225.9 574.1L225.8 575.6L227.4 576.7L226.7 577.6L227.2 578.6L227.1 580.1L227.0 580.7L226.6 581.9L226.9 583.1L226.2 584.4L226.8 585.6L225.9 586.6L226.3 588.1L226.8 588.8L226.2 590.0M226.2 590.0L226.3 591.4L227.0 592.1L227.5 593.2L227.3 594.5L227.7 595.3L228.2 596.2L229.3 597.2L229.6 598.1L229.9 599.4L230.3 600.3L231.0 600.9L231.7 601.9L232.1 602.9L233.2 603.5L233.6 604.6L234.5 605.4L235.3 606.2L235.8 606.9L236.2 608.2L236.6 608.9L237.5 610.3L237.4 611.1L237.9 612.2L238.3 613.4L238.8 614.2L238.8 615.2L239.3 616.1L240.3 617.2L240.9 618.1L241.5 619.0L241.7 620.2L242.5 620.8L243.1 621.9L243.7 623.0L243.8 623.9L244.6 625.5L245.5 625.4L246.2 626.7L247.4 627.2L247.9 627.9L248.9 628.4L249.8 629.2L249.9 630.4L249.5 630.9L250.0 632.6L249.4 633.4L249.1 634.5L249.1 635.7L249.7 636.8L249.6 637.9L249.3 639.0L249.8 640.3L250.5 640.6L251.0 641.8L251.7 642.6L252.4 643.8L253.1 644.5L253.8 645.5L254.4 646.2L255.0 647.5L255.2 648.6L255.9 649.2L256.2 650.1L257.1 651.0L257.3 652.1L259.1 652.8L259.2 653.9L259.3 654.8L260.5 656.0L260.0 657.0L260.4 657.7L261.1 659.2L261.1 660.4L261.9 661.1L261.9 662.1L262.2 663.5L262.8 664.2L262.5 665.6L263.6 666.3L263.8 667.5L264.6 668.1L265.0 669.0L266.1 670.0L266.3 670.6L267.2 671.8L267.5 672.9L267.5 674.1L268.4 674.8L268.6 676.0L268.7 677.2L268.8 678.0L269.5 679.2L269.9 680.3L270.1 681.1L270.3 682.2L270.6 683.7L271.2 684.6L271.3 685.4L271.3 686.8L271.9 687.7L272.4 688.9L272.3 690.0L272.4 690.6L272.8 691.9L273.1 693.3L273.7 694.3L273.8 695.1L274.0 696.1L274.3 697.3L275.1 698.1L274.9 699.4L275.0 700.4L275.2 701.7L275.7 702.7L275.8 703.8L276.4 704.6L276.5 705.7L277.0 706.7L276.4 708.2L276.0 709.0L276.1 710.5L277.2 711.6L276.8 712.4L276.7 713.6L277.3 714.8L277.9 715.9L277.0 716.8L277.5 718.0M228.0 561.2L229.1 561.8L229.7 562.5L230.9 563.2L231.6 564.0L233.1 563.8L233.6 565.1L234.4 565.5L235.9 566.0L236.8 566.5L237.6 566.8L239.0 567.0L240.1 567.0L241.0 567.3L242.2 567.2L243.4 568.1L243.8 568.9L244.5 570.1L244.9 571.3L245.1 572.2L245.7 573.0L246.2 574.4L247.2 574.5L248.2 575.1L249.6 576.0L250.1 576.4L251.0 577.4L251.3 578.3L252.9 578.7L252.6 580.1L252.9 580.7L253.0 582.2L253.7 583.4L253.6 584.6L254.0 585.6L253.7 586.5L254.5 587.8L253.8 588.8L254.0 590.0M253.8 590.0L253.4 591.1L254.7 591.8L254.5 593.2L255.2 594.4L256.0 595.0L256.2 596.1L256.4 597.3L256.9 598.1L257.1 599.4L257.8 600.2L258.1 601.2L257.8 602.3L258.4 603.5L259.0 604.7L259.0 605.9L258.7 606.9L259.6 607.8L260.1 608.7L259.7 610.0L259.9 611.0L261.0 612.3L262.1 612.4L262.9 613.4L262.7 615.0L263.5 615.5L263.7 616.6L264.1 617.7L263.7 618.8L264.4 619.9L264.7 620.9L264.8 622.2L265.4 623.1L265.2 624.1L265.6 625.1L266.7 625.8L267.0 626.9L267.6 627.8L268.4 628.9L268.4 629.9L268.8 631.0L269.7 631.9L270.6 632.2L271.5 633.3L271.5 634.7L272.5 635.5L272.9 636.1L273.9 636.9L274.8 637.7L274.3 639.3L275.6 639.6L276.3 640.8L277.1 641.4L277.3 642.9L278.4 643.0L279.5 643.8L280.2 644.3L281.2 644.8L282.1 645.8L283.6 645.5L283.9 646.5L285.2 647.1L286.1 647.9L286.9 648.5L286.7 649.3L286.9 650.8L286.4 651.8L285.9 652.5L286.3 654.1L286.3 654.9L286.1 656.0L286.8 657.1L287.5 657.8L288.1 658.9L288.9 659.4L289.2 660.7L290.4 661.1L291.3 661.6L291.8 662.8L293.0 663.1L293.7 663.7L294.7 664.7L295.0 665.5L295.9 666.5L296.3 667.5L296.8 668.3L297.0 669.4L298.0 670.1L299.0 670.8L299.7 671.5L301.0 671.6L301.9 672.0L302.9 672.6L303.5 673.5L304.1 674.2L304.8 675.4L305.2 676.4L305.5 677.5L306.0 678.6L306.4 679.4L306.4 680.9L306.6 681.6L305.0 682.1L304.3 682.4L303.6 683.7L302.5 684.4L302.2 685.1L301.8 686.4L302.2 687.4L302.6 688.5L302.2 689.7L303.3 690.4L303.8 691.4L304.8 691.9L305.6 692.7L306.0 693.9L306.6 694.7L307.6 695.0L308.7 695.8L309.3 696.6L310.5 697.3L311.4 697.5L311.9 698.5L313.4 698.8L313.6 700.0L314.5 700.4L315.5 701.5L316.4 701.6L317.5 702.6L317.9 703.4L318.7 704.3L319.4 705.1L320.0 705.6L321.2 706.5L321.4 707.6L322.2 708.5L322.9 709.4L322.9 710.8L323.8 711.3L323.5 712.7L324.7 713.7L325.1 714.5L325.5 715.5L326.3 715.9L326.8 716.9L327.5 718.0M241.2 607.5L242.4 607.9L243.2 608.7L244.3 608.3L244.5 609.4L244.8 610.8L245.3 611.8L245.5 613.1L246.3 613.7L246.6 615.0L245.7 615.9L246.3 617.0L246.3 618.2L245.1 617.8L244.2 617.0L243.3 616.1L243.6 615.1L242.7 613.8L242.2 613.2L241.7 612.1L242.2 610.6L241.6 610.1L241.2 608.9L241.2 607.5M257.5 617.5L258.8 617.5L259.8 617.2L261.1 616.4L261.4 617.2L262.4 618.0L262.4 619.0L263.2 620.3L262.6 621.0L263.1 622.3L262.3 623.4L262.2 624.4L261.0 624.5L260.1 625.5L259.0 624.7L257.8 623.7L257.2 623.1L257.1 621.8L257.4 620.8L257.3 619.8L257.5 618.9L257.5 617.5M261.8 663.8L262.9 664.1L263.7 664.5L264.0 665.6L264.5 666.4L265.2 667.5L265.3 668.8L264.1 669.1L263.2 669.3L262.8 668.2L262.4 667.1L262.4 666.1L262.0 664.8L261.8 663.8M270.8 680.0L271.8 680.6L272.2 681.3L272.5 683.1L272.8 684.1L272.6 685.3L272.7 686.6L271.3 685.9L271.1 684.5L271.1 683.4L271.1 682.5L270.7 681.2L270.8 680.0M277.0 701.2L278.1 701.9L278.9 702.1L279.3 703.4L278.3 704.5L278.4 704.8L277.5 704.5L277.2 703.6L276.7 702.6L277.0 701.2M280.5 711.2L281.8 711.5L281.9 713.1L282.1 714.1L282.3 715.4L283.0 716.7L281.8 715.5L281.3 714.6L280.5 713.7L280.4 712.6L280.5 711.2M250.0 700.0L250.7 700.8L251.2 701.9L251.6 702.5L252.3 703.9L253.0 704.3L254.2 705.2L254.6 706.4L254.4 707.7L255.5 708.3L256.5 708.8L257.2 709.6L258.0 710.5L256.9 711.1L255.9 710.9L255.2 709.9L254.7 709.2L253.6 708.8L252.9 708.0L252.2 707.3L251.6 706.2L251.3 705.1L250.0 704.2L250.6 703.1L250.2 701.9L250.3 701.4L250.0 700.0M319.0 703.8L319.8 704.6L320.7 705.0L321.7 706.1L322.3 706.9L322.7 707.9L323.3 709.1L323.4 709.8L323.0 710.6L322.2 710.7L321.5 709.6L321.1 708.9L320.1 707.9L320.1 707.0L319.6 706.1L319.5 704.7L319.0 703.8M508.0 718.0L509.0 714.5L511.0 712.0L514.0 708.0L515.0 703.8L515.5 700.0L514.8 695.0L513.5 690.0L511.5 685.0L509.8 680.0L508.8 677.0L508.5 673.8L510.0 669.5L512.2 665.0L514.0 661.8L516.0 658.8L519.0 655.5L522.2 652.5L526.5 649.2L531.0 646.2L536.0 643.0L541.0 640.0L545.5 637.5L549.8 635.0L553.5 632.5L557.2 630.0L561.5 627.8L566.0 625.5L568.5 624.0L571.0 622.5L574.8 621.5L578.5 621.2L582.2 621.8L586.0 622.5L591.0 623.5L596.0 624.5L601.0 625.2L606.0 626.2L609.8 628.8L613.5 631.2L617.2 633.0L621.0 634.5L623.5 632.8L626.0 631.2L629.0 630.0L632.2 628.8L635.5 627.5L638.5 626.2L641.0 629.5L643.5 632.5L646.5 632.0L649.8 631.2L648.0 628.8L646.0 626.2L643.0 624.2L639.8 622.5L641.5 619.2L643.5 616.2L646.5 613.0L649.8 610.0L653.0 608.0L656.0 606.2L659.0 605.8L662.0 605.5M549.8 635.0L550.5 630.0L549.0 625.5L551.5 624.5L553.5 627.5L555.5 623.8L556.5 627.0L555.0 631.2L557.2 630.0M522.2 652.5L523.0 648.0L524.8 645.0L526.5 648.0L528.5 645.5L530.5 647.5L531.0 646.2M512.2 665.0L513.5 658.8L515.5 655.5L517.2 658.0L519.0 655.5M508.5 673.8L505.5 673.0L504.0 671.2L506.5 670.0L509.0 670.0M511.0 677.5L513.0 685.0L514.5 692.5L516.0 698.8M504.8 716.2L505.0 712.0L507.2 710.0L509.8 709.5L511.0 712.5M568.5 624.0L569.0 620.0L571.0 619.0L572.0 621.5M576.8 621.5L577.5 618.5L579.0 618.5L579.5 621.5M622.2 612.0L623.0 611.6L623.8 609.8L624.1 608.7L625.7 609.5L626.9 608.3L627.8 608.8L629.0 608.2L629.8 608.8L630.9 609.4L632.3 608.5L633.4 609.8L633.7 610.4L633.8 611.9L634.9 611.9L634.9 613.2L633.8 614.5L632.6 614.2L632.0 615.6L630.6 615.4L629.7 615.5L628.5 616.4L627.4 616.0L626.6 616.4L625.0 615.5L624.3 614.0L623.5 613.4L622.2 613.5L622.2 612.0M638.5 611.2L639.7 612.6L640.3 612.7L641.8 612.6L642.7 612.7L643.5 612.0L644.0 611.3L645.4 611.5L646.0 612.9L647.6 613.4L645.8 614.4L645.5 615.3L644.8 616.5L643.7 617.0L643.1 618.1L641.8 618.2L642.0 619.6L641.3 620.1L642.4 620.8L643.4 620.7L644.5 619.8L645.3 620.2L646.3 619.1L646.8 618.5L647.4 617.6L649.1 617.2L649.9 617.1L650.7 616.5L650.9 617.3L651.9 618.8L651.2 619.4L651.8 620.1L651.0 621.2M639.8 622.5L638.6 623.0L637.8 624.0L636.3 624.2L635.8 625.1L633.7 624.9L633.9 626.6L634.1 626.9L635.5 627.5M585.5 619.5L586.3 620.0L587.4 619.2L588.0 620.4L587.4 621.1L586.3 621.1L584.7 620.8L585.5 619.5M591.5 621.5L592.3 621.2L593.4 621.9L593.7 622.3L594.8 623.0L593.4 623.5L592.4 623.1L592.3 622.5L591.5 621.5M598.0 622.5L599.4 622.2L600.5 621.8L601.2 622.0L602.2 622.6L603.4 622.5L604.2 623.2L604.3 625.1L604.9 625.2L606.0 626.2M612.2 630.0L612.6 629.2L614.5 628.4L614.4 627.1L615.7 627.6L616.9 628.2L617.6 629.2L617.5 630.4L617.4 631.3L618.5 632.5M624.8 631.2L625.2 630.3L625.7 629.1L626.9 628.5L627.8 628.9L629.4 628.3L629.8 629.5M640.0 607.5L643.8 606.5L647.5 605.5L651.2 605.8L655.0 606.2L658.8 606.5L662.5 606.2L663.2 602.5L663.8 599.5L665.0 599.0L666.2 600.0L667.0 603.0L667.5 605.5L670.0 605.0L672.5 604.5L676.2 603.0L680.0 602.0L685.0 601.0L690.0 600.5L695.0 601.2L700.0 602.5L703.0 605.0L706.2 607.5L708.8 610.0L711.2 612.0L714.5 611.8L717.5 611.2L720.0 608.8L722.5 606.2L724.5 605.0L726.2 603.8L728.8 602.5L731.2 602.0L734.5 603.2L737.5 605.0L740.0 607.5L742.5 610.0L745.5 612.5L748.8 615.0L751.2 616.5L753.8 618.0L755.8 621.5L757.5 625.0L758.2 628.8L758.8 632.5L758.0 635.8L757.5 638.8L759.5 637.5L762.0 638.0L764.0 640.5L763.0 643.8L761.2 646.2L763.0 648.8L765.0 652.5L767.5 655.5L770.0 658.8L771.0 656.5L773.0 657.5L774.5 661.2L775.0 665.0L773.0 665.0L771.5 662.5L773.8 665.0L777.0 668.0L780.0 671.2L783.0 673.8L786.2 676.2L789.5 678.0L792.5 680.0L794.5 683.0L796.2 686.2L799.5 687.0L802.5 687.5L805.0 686.2L807.5 685.0L808.8 681.2L810.0 677.5L810.5 673.8L810.8 670.0L810.2 665.0L809.5 660.0L808.0 655.0L806.2 650.0L803.8 645.0L801.2 640.0L798.8 635.5L796.2 631.2L793.0 626.2L790.0 621.2L787.0 615.0L783.8 608.8L780.5 603.0L777.5 597.5L775.0 591.2L772.5 585.0L771.2 580.0L770.0 575.0L770.5 570.0L771.2 565.0L772.5 562.0L773.8 560.0M787.5 617.5L789.0 617.0L791.5 621.2L793.5 625.5L792.5 627.0L790.0 622.5L787.5 617.5M790.0 652.0L791.0 649.0L793.5 647.5L796.5 648.0L798.2 650.5L798.5 654.0L796.5 656.5L793.5 657.0L791.0 655.5L790.0 652.0M786.2 700.8L789.5 698.5L792.5 697.0L796.2 695.5L800.0 693.8L803.2 691.0L806.2 687.5L808.0 683.8L809.5 680.0M786.2 700.8L790.0 699.5L793.8 697.5L791.2 697.5L787.5 699.5M640.0 616.2L642.5 613.8L644.5 616.2L643.0 619.5L641.2 621.2L640.0 620.5M640.0 625.5L643.8 627.0L647.5 628.0L650.5 630.0L648.8 632.0L645.5 631.0L646.2 633.8L643.8 633.0L641.2 630.5L640.0 630.0M650.0 612.5L651.5 615.5L651.0 618.8M826.4 650.8L827.7 651.3L828.8 651.1L829.7 652.6L830.4 652.7L831.6 652.7L832.5 651.5L834.0 651.8L833.8 650.3L835.5 650.5L836.1 650.1L837.3 649.7L838.1 649.5L839.4 648.5L840.1 648.0L841.0 647.3L842.5 646.7L842.8 645.7L843.4 645.0L843.2 644.0L843.8 642.6L844.6 642.3L845.8 641.8L846.9 640.5L848.1 640.5L849.1 640.6L850.3 640.9L851.1 641.3L851.9 641.9L853.2 642.0L854.4 642.9L854.9 643.5L856.2 643.5L856.9 644.8L858.0 644.1L859.0 644.8L860.2 644.5L861.3 645.8L861.8 646.5L862.0 647.5L861.8 648.6L862.2 650.1L861.5 651.2L862.1 652.4L861.3 653.2L860.2 654.2L860.4 655.3L859.9 656.4L860.3 657.4L860.0 658.9L859.4 657.6L858.5 656.8L858.0 655.6L857.7 655.1L858.4 654.2L858.0 652.6L858.6 651.6L858.7 650.8L858.1 649.9L858.0 648.5L856.7 648.1L855.5 647.0L854.7 647.6L853.6 647.1L852.8 646.5L851.7 645.9L850.5 645.5L849.4 646.0L848.6 646.4L847.5 646.5L846.2 647.3L845.3 647.6L844.3 648.0L843.4 648.9L842.5 648.9L841.5 650.2L840.7 650.3L839.5 650.2L838.7 651.2L837.4 651.3L835.9 652.1L835.4 652.5L834.1 652.3L833.0 653.2L832.4 653.9L831.5 653.6L830.5 652.8L829.2 652.9L828.9 651.6L827.4 651.4L826.4 650.8M856.6 644.9L857.3 645.7L858.4 646.1L859.7 646.8L860.1 647.8L860.6 648.7L860.1 649.7L861.1 651.2L859.7 652.4L858.7 652.7L858.8 654.1L858.2 654.4L857.1 653.7L856.2 652.9L856.4 651.4L856.2 650.5L856.7 649.6L857.0 647.8L857.1 647.1L856.5 646.2L856.6 644.9M847.9 663.5L848.6 664.4L849.6 664.8L851.0 665.5L851.6 666.5L853.2 667.3L852.9 668.3L851.7 669.2L851.2 670.3M858.6 676.6L859.8 676.6L860.7 675.9L861.6 674.8L862.5 673.9L863.6 674.3L864.4 674.2L865.4 674.3L865.0 675.2L863.2 675.2L863.3 676.5L861.5 676.3L860.6 677.4L859.7 677.3L858.6 676.6M846.9 675.2L847.0 676.3L848.5 676.9L849.4 677.4L850.4 678.0L850.7 679.8L851.6 680.1L851.4 681.2L853.0 681.9L852.5 683.3L853.7 684.4L854.6 684.4L854.8 685.9L855.3 686.7L856.1 687.6L857.2 688.4L857.8 689.4L858.7 690.2L859.5 690.5L860.1 691.4L861.3 692.2L861.1 693.4L862.5 694.3L862.4 695.0L863.4 696.2L862.9 697.2L863.4 698.2L863.8 699.2L863.1 700.3L862.8 701.7L862.2 702.4L861.7 703.0L860.6 702.9L859.6 702.4L858.2 702.2L857.9 700.5L857.3 699.7L856.1 699.3L855.9 698.1L855.3 697.0L854.7 696.4L853.9 695.3L853.2 694.8L852.0 694.4L851.7 692.7L850.4 692.6L849.5 692.0L849.4 690.6L847.8 690.7L846.7 689.5L845.7 689.8L845.1 688.6L844.3 688.0L842.8 687.7L843.8 687.3L845.1 686.1L845.3 685.5L846.2 684.9L846.9 683.8L846.6 683.2L846.3 682.0L846.7 680.8L846.7 679.7L847.0 678.2L846.9 677.6L847.1 675.8L846.9 675.2M853.7 689.5L854.8 690.1L855.8 689.8L856.7 690.4L857.7 691.9L858.7 691.8L859.0 692.7L859.6 693.7L859.8 695.0L860.4 695.8L861.3 696.7L861.5 697.6L861.3 698.7L862.3 700.1L862.2 701.5L861.8 702.5L860.8 701.9L859.3 701.7L859.4 700.2L858.2 699.2L858.4 698.1L857.1 697.6L856.5 696.3L855.9 695.6L855.9 694.5L855.5 693.8L854.6 692.8L854.6 691.8L853.7 690.3L853.7 689.5M855.7 691.8L856.3 692.6L857.5 693.2L858.2 694.5L858.9 695.2L859.6 695.6L859.9 696.6L860.1 698.1L860.8 698.7L860.8 700.0L860.3 700.4L859.5 700.0L858.8 699.0L857.2 698.4L857.1 697.3L857.1 695.8L857.4 694.7L856.6 693.7L855.8 692.8L855.7 691.8M867.4 668.4L868.1 667.6L867.9 666.0L867.9 665.2L868.4 664.1L869.3 664.2L869.9 663.9L871.8 664.4L872.4 664.3L873.6 665.2L874.5 665.0L875.0 666.2L876.3 666.1L877.4 666.4L877.9 667.6L878.9 667.8L880.2 668.8L881.1 669.2L881.2 670.6L882.0 671.7L882.4 672.3L882.7 673.4L882.7 674.7L883.2 675.6L882.5 676.7L883.0 677.5L882.7 677.6L882.1 676.3L881.5 675.6L881.2 674.2L880.3 673.5L879.6 672.7L879.0 671.7L878.7 670.6L877.2 670.5L876.9 670.2L875.8 669.3L874.8 668.4L873.6 667.8L873.1 667.9L871.8 668.1L870.7 668.5L869.3 668.0L868.6 668.3L867.4 668.4M871.3 677.1L871.3 678.1L871.9 679.4L872.2 680.5L872.4 681.2L873.2 682.1L873.5 683.6L873.9 684.0L875.2 684.7L876.4 685.2L877.2 685.9L877.7 686.9L879.0 687.3L879.2 688.5L880.3 688.9L881.4 689.6L881.9 690.6L883.1 691.1L883.5 692.5L884.6 693.0L885.4 692.6L886.6 693.8L887.8 694.1L888.0 695.6L888.8 696.1L889.7 696.7L891.1 696.7L891.5 698.1L892.4 698.3L894.1 698.3L895.1 698.7L895.8 698.9L897.3 699.4L898.0 699.2L899.4 698.8L900.1 698.7L901.7 698.1L900.8 699.0L899.8 699.7L898.3 698.9L897.2 699.5L896.4 699.7L894.9 700.0L894.2 700.2L893.3 700.7L891.8 700.0M890.2 675.2L891.4 675.7L892.3 675.9L893.3 676.9L893.7 677.7L894.2 678.2L895.5 679.1L896.2 680.1L896.7 681.2L897.9 681.4L898.5 682.1L899.4 682.8L900.1 683.6L899.8 684.0L899.2 685.1L898.1 685.8L897.3 684.7L896.9 683.8L895.8 683.4L895.5 682.0L894.6 681.5L893.3 681.4L892.8 679.9L892.0 679.3L891.6 678.2L890.8 677.1L890.7 676.1L890.2 675.2M902.5 693.4L902.8 694.6L903.7 695.6L904.3 695.9L905.8 696.5L906.5 697.1L906.9 698.6L906.7 700.3L908.0 700.2L908.9 701.0L909.4 701.9L910.3 703.0L911.5 703.5L912.1 704.1L913.1 704.8L913.9 705.1L915.3 706.3L914.4 707.0L913.5 705.7L912.5 705.3L911.4 704.4L910.9 703.7L909.4 703.8L908.7 703.1L908.1 701.4L907.1 701.7L906.4 699.9L905.8 699.0L905.3 697.9L904.6 697.6L904.4 696.3L903.2 695.6L903.2 694.1L902.5 693.4M914.8 681.1L916.1 681.0L916.2 682.1L916.5 683.4L916.5 684.4L915.5 684.2L915.2 683.5L914.1 681.9L914.8 681.1M908.6 690.4L909.5 690.2L910.9 690.7L911.1 690.7L911.2 690.9L909.8 690.7L909.2 690.7L908.6 690.4M924.0 704.5L924.8 705.0L926.7 705.6L927.2 705.1L928.5 705.6L929.6 705.4L930.3 705.1L931.6 705.5L933.2 705.3L933.3 706.4L933.6 707.5L933.9 708.5L932.7 709.6L933.2 711.3L932.6 711.6L931.0 712.2L930.7 713.1L930.6 714.3L929.2 715.0L929.1 716.4L928.6 715.9L928.5 714.8L928.7 714.3L929.3 713.0L929.2 712.0L930.1 710.8L930.0 709.9L929.0 709.4L928.0 709.4L927.5 708.2L926.8 707.1L925.4 707.5L924.8 706.7L925.2 705.3L924.0 704.5M937.3 705.5L938.5 705.3L939.8 705.0L939.9 705.2L938.8 706.0L938.1 706.3L937.3 705.5M946.9 706.4L948.0 706.1L949.2 706.2L950.2 706.3L951.1 706.3L952.5 706.7L953.7 706.3L954.0 706.9L954.1 707.4L952.8 707.0L951.4 707.3L950.8 707.5L949.3 707.3L948.4 707.6L947.2 707.0L946.9 706.4M963.7 715.6L964.0 714.6L965.2 714.1L966.3 713.6L966.9 712.0L967.9 712.3L968.2 711.0L969.4 710.7L970.4 711.3L972.0 710.9L972.6 710.8L973.9 709.9L974.9 710.6L975.9 711.2L976.9 710.9L978.4 711.1L979.2 712.0L980.8 711.8L981.3 713.3L980.6 714.5L980.0 715.5L981.0 716.6L979.8 716.1L978.9 715.5L977.7 715.5L976.6 715.2L975.7 714.4L974.2 714.5L973.5 714.2L972.3 712.7L971.1 713.9L970.2 712.3L968.9 712.8L968.6 714.1L967.6 714.8M896.7 710.4L897.3 711.4L895.9 712.9L898.1 713.7L897.7 715.2M824.6 669.1L825.5 669.3L826.0 670.5L824.8 670.5L824.6 669.1M932.0 696.3L933.1 696.0L934.1 696.3L933.3 697.3L932.2 697.3L932.0 696.3M904.9 688.9L906.0 689.1L906.0 689.5L904.9 689.6M773.8 560.0L773.8 557.5L775.0 553.8L776.2 550.0L778.0 547.8L780.0 546.2L783.0 544.2L786.2 542.5L788.8 540.0L791.2 537.5L793.8 534.5L796.2 531.2L797.0 528.0L797.5 525.0L800.0 521.2L802.5 517.5L805.5 515.2L808.8 513.8L811.2 512.8L813.8 512.0L814.5 509.0L815.0 506.2L817.0 503.0L818.8 500.0L819.5 497.5L820.0 495.0L823.8 493.8L827.5 492.5L830.5 491.2M775.0 553.8L773.0 552.0L774.0 549.5L776.5 548.0L778.0 547.8M780.0 546.2L778.5 544.5L780.5 542.5L783.0 544.2M786.2 542.5L785.0 540.0L787.5 538.0L788.8 540.0M796.2 531.2L794.5 529.0L796.5 526.5L797.5 525.0M813.8 512.0L812.5 508.8L814.5 507.0M744.5 527.0L746.5 528.0L748.0 530.5L746.0 530.0L744.5 527.0M844.1 383.8L843.8 384.7L844.6 386.3L843.3 386.9L843.8 388.4L843.5 389.7L843.6 390.6L843.0 391.4L843.2 392.5L843.1 393.7L842.3 394.3L841.8 395.7L841.8 397.0L841.0 397.3L840.4 398.3L840.5 400.4L839.7 400.8L839.1 402.2L839.8 403.4L839.2 404.4L839.2 405.4L836.9 406.1L837.4 407.4L836.9 408.1L836.8 407.2L836.4 405.8L834.9 405.2L834.4 404.2L832.9 403.7L832.3 402.1L830.4 404.0L829.5 403.1L828.6 402.7L828.1 401.4L826.8 401.2L827.1 400.1L825.1 399.7L825.9 398.0L825.1 396.9L825.3 396.0L824.6 395.3L824.3 393.6L824.9 393.0L824.4 391.2L826.1 390.9L826.7 390.6L828.3 390.2L828.4 389.0L828.4 387.8L830.8 388.5L830.6 386.5L831.9 386.2L832.3 385.2L833.6 385.0M824.0 394.4L823.8 395.3L825.6 396.5L824.7 397.6L825.2 398.7L825.4 399.6L825.6 400.9L826.5 401.7L828.0 402.6L828.1 402.5L829.2 404.3L829.1 405.1L829.3 405.9L830.0 406.6L831.1 408.2L831.1 408.4L832.8 409.8L833.3 409.5L834.1 411.0L834.7 411.5L834.3 412.9L835.0 413.8L836.6 415.2L836.4 416.0L835.8 417.2L836.6 418.4L836.3 419.6L836.8 420.1L836.6 421.5L836.3 422.5L836.8 423.5L836.9 424.2L836.0 426.0L834.8 426.7L834.8 427.5L834.7 429.9L833.6 429.2L833.5 430.6L832.9 431.8L833.1 432.7L833.0 434.0L834.0 435.6L832.7 435.9L833.8 436.9L832.7 438.2L831.4 439.1L832.2 440.4L832.0 441.4L832.0 442.8L831.0 444.3L831.5 445.3L829.3 444.9L829.4 444.1L828.8 443.4L828.2 442.7L827.4 441.0L828.3 439.7L828.2 438.0L828.3 438.1L829.0 436.8L828.0 435.4L829.5 434.5L828.7 433.2L830.9 432.8L830.6 431.4L830.6 430.4L830.2 430.2L828.8 429.9L827.5 430.0L826.8 430.1L826.1 429.6L825.7 428.1L824.8 427.2L825.4 425.8L824.5 424.5L823.6 424.5L822.9 423.3L822.0 422.8L820.3 421.8L820.8 420.7L819.7 420.3L820.1 419.0L819.5 417.7L817.6 417.7L818.5 415.6L817.6 414.7L818.9 413.4L817.8 412.6L817.9 411.5L817.9 410.2L817.0 409.4L818.0 408.0L818.7 407.8L818.1 405.7L818.9 405.2L819.0 403.7L820.5 403.3L820.8 402.2L819.6 401.0L819.3 400.5L818.1 401.3L818.1 401.9L817.4 402.8L816.4 404.3L814.8 403.9L814.0 404.1L813.5 405.8L813.8 407.0L813.0 408.0L811.8 408.2L812.3 409.8L812.5 410.5L812.7 411.8L813.1 412.0L813.0 413.7L814.7 413.9L814.6 415.5L815.8 416.3L815.3 417.2L816.8 418.2L816.5 419.6L816.2 421.1L817.5 421.5L817.5 422.8L818.5 424.0L818.1 424.4L816.9 425.6L816.4 425.0L814.8 425.7L814.0 425.1L812.9 424.2L811.7 424.5L810.4 423.5L810.0 423.7L808.5 424.8L808.1 426.4L806.2 424.8L806.0 426.5L804.2 425.9L804.2 425.3L804.7 424.2L804.3 423.3L804.6 421.9L805.8 421.9M807.6 425.4L809.6 425.2L809.9 426.6L810.1 427.1L811.5 426.9L812.4 427.4L813.9 427.4L814.1 428.7L815.6 428.2L816.3 429.2L817.7 429.1L817.6 428.7L817.3 429.3L816.9 429.8L816.4 430.9L814.9 430.4L814.7 432.6L813.0 432.4L811.6 431.1L812.7 432.0L813.5 432.3L814.4 433.1L814.7 434.4L815.5 435.0L816.8 435.5L818.2 435.6L818.5 436.0L819.7 437.1L821.1 437.3L821.4 437.9L821.3 439.2L819.7 438.4L819.4 439.1L818.2 439.5L816.6 440.1L815.7 441.2L814.4 439.4L814.5 440.5L814.4 440.8L815.2 442.3L815.4 443.1L817.1 443.4L817.5 444.9L818.8 444.9L820.2 444.8L821.1 445.1L821.5 446.9L823.5 445.4L822.7 446.8L821.5 447.8L821.0 447.0L819.5 447.2L818.2 446.4L817.2 447.5L816.3 447.7L815.0 445.8L813.5 448.1L813.8 446.6L814.9 446.0L815.4 447.5L817.3 447.2L818.1 448.5L818.9 448.4L819.6 449.4L820.9 449.3L822.0 450.7L822.2 450.9L823.7 451.5L824.3 452.2L825.9 452.3L827.3 452.7L827.5 450.1L828.6 450.6L829.3 449.8L830.4 449.2M830.4 449.2L830.3 450.2L831.5 451.6L832.8 452.0L832.2 453.3L833.0 453.9L834.4 455.0L834.4 456.5L834.5 457.0L835.4 457.9L836.0 458.9L837.0 459.8L837.5 460.5L836.7 462.4L838.7 462.1L838.4 463.5L839.2 464.6L840.0 465.4L841.5 465.5L840.6 467.2L842.2 467.8L841.3 469.5L843.2 469.9L844.2 471.0L843.3 472.4L844.5 473.3L844.2 473.7L844.3 475.6L845.3 476.0L845.3 477.6L844.4 478.4L843.0 478.9L843.0 479.8L842.0 481.0L841.0 480.6L839.8 482.1L839.9 482.9L837.6 483.4L838.3 484.6L837.3 485.3L837.1 486.6L835.6 487.0L834.8 487.6L834.8 488.9L834.9 490.1L833.5 490.7L832.5 491.7L831.7 491.7L830.9 493.1L829.7 492.6L828.9 493.6L827.4 493.3L826.5 494.1L825.9 494.5L824.4 494.7L823.4 494.5L822.1 494.2L820.6 495.5L820.1 495.4L819.7 495.7L818.5 496.8L819.3 497.4L818.5 498.5L817.2 499.1L817.2 500.7L817.2 501.3L816.5 502.5L816.3 503.5L815.2 504.5M830.4 450.6L831.1 451.6L831.6 452.6L832.4 453.0L833.2 454.5L832.6 455.9L833.7 456.2L834.2 457.7L834.8 458.1L835.9 459.2L836.3 459.9L836.1 461.2L836.1 463.1L837.6 463.8L837.1 464.9L838.4 465.5L838.7 466.3L839.1 468.1L840.0 468.5L839.7 469.8L840.0 470.6L839.6 471.5L840.0 473.6L837.9 473.5L837.5 474.0L837.0 475.3L836.3 476.3L835.8 477.3L835.4 478.0L834.7 478.6L833.1 479.3L831.9 478.7L830.7 478.2L829.9 476.5L828.6 478.5L827.8 477.5L827.2 479.4L826.6 481.4L824.8 480.0L823.7 479.5L823.1 478.4L821.7 479.6L820.5 478.8M821.6 463.5L822.6 463.6L823.5 464.7L824.0 465.7L824.8 465.8L826.6 464.7L826.8 465.3L828.8 465.1L829.4 465.7L829.9 464.9L831.5 464.6L832.6 467.2L833.2 466.1L834.6 466.1L836.4 465.9L836.9 465.8L838.0 467.0M825.2 465.9L825.1 466.7L824.8 468.3L824.5 469.0L824.6 470.0L824.7 470.9L824.7 469.0L827.3 469.6L827.6 468.7L829.0 468.5L829.5 469.3L831.2 469.6L831.2 469.1L832.9 469.6L832.5 470.8L834.4 471.3L834.5 472.6L832.9 473.6L834.5 474.1M821.6 485.8L822.5 486.0L823.7 487.0L824.3 487.8L825.7 487.4L826.4 488.4L827.8 487.8L828.9 487.4L829.6 486.0L830.5 485.6L831.6 485.9L833.4 486.6L833.8 487.1L835.0 488.1L833.6 488.8L833.5 489.7L832.0 490.2L831.2 491.1L830.3 490.0L828.4 491.4L828.0 491.6L826.8 492.0L826.0 490.4L824.9 489.7L823.5 489.9L822.8 489.3M827.5 478.8L827.5 480.0L828.0 481.0L828.3 482.1L829.2 482.7L830.0 484.2L830.1 485.0L831.0 485.8M821.6 422.5L823.0 422.4L823.7 423.3L825.0 423.9L824.8 424.3L827.1 425.1L827.4 426.3L826.5 427.5L827.3 428.6M815.2 416.6L816.6 416.6L816.9 418.9L817.9 418.6L819.3 419.0M818.1 495.2L819.3 496.3L818.8 497.5M919.9 256.6L919.1 257.6L918.3 258.4L917.1 258.7L916.8 259.4L915.7 259.9L914.7 260.7L914.3 261.2L912.5 261.5L911.7 262.5L910.8 263.4L910.9 264.5L909.3 264.6L910.0 266.2L910.4 266.7L911.7 267.6L912.2 268.4L911.9 269.1L912.2 269.9L911.6 271.0L910.7 270.8L909.7 270.5L909.3 269.7L908.4 271.2L907.6 271.7L906.0 271.0L905.6 272.8L904.9 273.0L904.7 274.9L904.0 275.5L903.3 275.7L902.6 276.9L901.9 277.6L901.1 278.5L900.8 280.1L899.1 280.2L898.2 281.0L897.9 282.0L896.2 281.3L895.4 281.5L894.0 281.8L893.8 283.3L892.5 284.0L893.1 285.2L890.7 284.8L890.9 286.2L889.6 287.1L889.1 288.1L888.8 289.3L888.8 289.8L887.2 290.5L887.4 292.0L885.8 292.4L885.7 293.4L884.3 294.1L883.7 295.1L883.2 296.0L882.9 296.3L881.4 296.8L880.2 298.0L879.6 298.4L879.5 299.9L878.4 299.9L877.0 300.3L875.6 300.7L876.1 301.7L876.3 303.4L875.2 304.4L875.7 305.8L873.8 306.0L874.2 307.0L873.5 308.4L875.0 309.4L873.5 310.9L873.8 311.8L873.2 312.2L872.5 313.7L873.5 314.8L872.1 315.4L872.7 317.5L872.1 318.1L872.7 319.2L872.3 320.5L872.3 321.6L874.4 321.3L873.9 323.4L874.5 323.8L873.9 325.1L873.8 325.6L873.9 327.0L873.2 328.4L873.7 329.2L872.8 330.1L872.8 331.8L874.0 331.4L874.7 331.6L875.8 332.5L876.8 333.5L877.6 334.3L877.7 335.1L879.4 335.5L879.6 336.4L880.3 337.5L880.6 338.5L882.2 339.1L882.0 340.5L882.9 339.5L883.1 338.3L884.6 339.7L885.4 338.9L886.3 339.1L887.8 339.0L888.6 339.2L889.6 338.6L890.7 338.0L890.7 336.3L890.1 335.5L889.8 334.5L888.7 334.5L888.3 333.4L887.6 332.7L886.5 332.2L886.1 332.3L886.9 331.5L887.9 332.0L889.6 332.5L890.0 333.4L890.4 333.8L891.3 334.6L891.0 336.1L892.2 337.0L891.4 338.1L891.4 339.2L890.7 339.8L889.0 339.2L888.5 340.9L887.2 340.4L886.3 341.2L885.8 341.5L884.0 340.7L883.4 342.7L882.8 342.9L881.5 344.0L881.6 344.9L880.0 344.4L879.7 346.0L878.2 346.4L877.8 347.6L876.4 347.7L875.5 347.8L875.5 346.4L874.4 346.0L873.9 345.4L873.7 343.5L872.5 343.1L872.0 343.3L871.5 343.2L871.1 344.6L871.0 346.1L871.4 346.8L871.9 347.6L871.4 347.7L870.7 349.5L869.4 349.7L869.1 350.4L868.1 351.5L867.1 351.8L866.4 353.4L865.6 353.4L865.4 354.2L863.9 354.3L862.6 355.2L862.7 356.5L861.4 356.1L860.0 357.5L859.2 357.3L858.4 357.7L857.3 359.1L856.7 359.2L855.1 360.0L853.4 359.6L852.9 360.0L851.9 360.3L851.7 361.7L850.5 361.9L849.1 363.3L848.5 363.3L847.9 364.5L847.3 365.2L845.9 364.9L845.6 366.9L844.4 366.9L842.9 367.3L843.7 369.0L842.6 369.7L841.7 370.4L842.1 371.7L840.3 372.1L840.2 373.7L840.2 374.2L839.1 375.3M839.1 375.3L840.4 375.0L840.8 373.6L840.6 372.1L842.7 372.0L843.4 372.1L843.9 371.3L845.3 370.3L845.5 369.5L846.3 368.9L847.1 367.8L847.8 367.2L849.0 366.6L850.2 366.6L851.1 365.9L851.8 364.3L852.2 363.8L854.0 364.0L854.8 363.0L855.1 362.0L856.2 362.1L857.4 361.0L858.1 359.8L858.9 359.6L859.7 358.9L861.3 359.4L862.2 358.5L863.3 358.3L864.1 357.7L865.4 357.2L866.4 356.9L867.2 356.5L868.8 356.6L867.7 357.4L868.9 357.7L868.9 358.1L867.5 359.2L867.1 359.7L866.1 360.2L865.2 361.0L864.4 360.9L862.9 361.8L862.1 362.5L861.8 363.5L861.1 364.6L859.5 364.9L859.1 365.6L858.3 366.3L856.9 366.6L856.1 367.1L855.5 367.7L853.9 367.5L853.6 368.7L852.6 369.5L851.3 369.9L850.4 370.4L849.8 371.5L848.9 371.4L847.9 372.8L846.9 373.7L846.0 373.8L844.8 373.5L843.7 374.9L843.3 375.6L841.7 375.7L840.8 375.3L839.7 375.6L838.9 376.4L838.3 377.9L839.2 378.8L839.1 379.3L840.1 380.5L841.4 381.2L840.4 382.1L841.2 383.3L842.6 383.8L843.5 385.2L843.5 385.9L842.4 386.8L842.9 388.1L844.5 389.6L843.4 390.3L843.0 391.9L843.4 392.9L842.5 394.0L843.6 395.0L842.2 396.1L842.0 396.9L841.5 398.0L841.6 399.1L840.4 400.0L840.9 401.3L839.4 402.4L839.7 402.9L838.7 404.0L837.5 404.8L838.2 406.1L837.3 407.6L836.5 407.8L835.4 407.2L835.5 406.1L835.3 404.9L834.2 405.2L833.5 404.2L832.5 403.8L830.4 404.5L829.8 403.3L829.3 401.6L829.3 401.0L828.0 400.7L826.8 399.6L825.6 399.1L825.4 398.1L824.5 397.5L824.2 395.8L824.3 395.3L823.3 394.4M859.8 360.9L861.1 360.7L861.4 359.3L862.8 359.8L863.8 358.9L864.2 359.9L863.6 360.1L863.3 361.5L861.2 361.4L860.5 361.9L859.8 360.9M880.1 346.3L881.0 346.0L882.4 346.7L883.4 346.1L884.0 347.6L883.3 348.2L882.2 347.5L881.0 347.1L880.1 346.3M889.7 345.6L890.9 344.6L891.5 346.1L893.6 346.3L891.3 346.6L890.1 346.0L889.7 345.6M870.8 353.8L870.8 354.6L870.7 354.6L870.8 353.8M870.6 342.6L871.8 342.9L872.5 344.2L871.9 345.5L874.3 345.3L873.5 347.4L873.5 348.2L873.0 347.7L872.6 346.8L871.1 346.1L870.9 344.6L871.2 343.7L870.6 342.6M871.5 343.8L872.6 344.6L872.2 345.8L873.0 346.7L872.7 347.3L872.1 346.8L870.7 345.7L870.9 344.7L871.5 343.8M888.9 288.2L889.4 289.8L890.9 289.0L891.4 287.8L892.3 287.3L893.3 286.7L894.3 286.2L895.2 285.2L896.5 284.6L896.5 284.2L898.0 283.5L899.4 282.9L899.4 281.5M891.4 285.7L890.6 286.8L890.5 287.8L891.0 289.0L891.9 289.7L892.6 289.2L893.7 288.3L894.4 287.4M909.3 265.3L910.2 266.0L910.1 267.5L908.6 268.2L908.7 266.6L909.3 265.3M912.3 269.6L914.0 268.8L914.2 269.7L914.2 271.9L913.0 271.5L913.6 270.4L912.3 269.6M828.0 290.2L829.0 289.6L829.8 290.2L829.7 291.0L830.2 292.1L831.2 292.9L831.1 294.3L830.8 295.0L831.4 296.3L831.0 297.7L832.0 299.0L831.6 299.9L831.4 300.4L831.9 301.6L831.7 303.2L832.5 303.8L831.8 304.9L830.9 306.1L831.2 306.8L832.0 305.9L829.6 305.4L830.4 304.6L830.1 303.6L830.2 301.7L830.2 301.4L829.0 300.2L829.4 299.1L828.5 298.0L828.4 297.1L828.2 295.7L828.0 294.4L827.0 293.5L828.4 292.5L827.2 291.5L828.0 290.2M828.6 291.5L830.2 291.8L830.1 293.4L830.4 294.3L829.6 295.2L830.0 297.2L831.4 297.8L831.0 298.7L831.7 300.3L830.5 301.1L831.6 302.7L830.8 302.6L830.7 301.5L831.4 300.6L830.8 299.2L829.6 298.0L830.0 296.9L830.2 295.9L828.7 295.0L828.8 293.8L829.8 292.3L828.6 291.5M820.0 396.1L820.3 397.0L821.6 398.2L822.6 398.7L823.0 399.1L823.9 400.1L824.4 400.7L825.6 401.8L825.9 402.6L826.3 403.5L825.9 404.9L828.3 405.1L828.6 405.8L829.2 407.1L830.1 408.3L830.9 408.5L832.2 409.4L833.2 410.0L833.4 410.9L833.9 412.1L834.4 412.8L834.7 413.8L835.0 414.4L835.6 416.2L836.2 416.7L837.4 417.4L836.3 419.2L836.4 419.7L837.4 421.0M877.4 188.1L876.9 189.3L875.6 189.3L875.0 190.1L873.8 191.0L873.3 191.5L872.9 192.5L871.0 192.9L870.3 193.5L869.5 194.8L869.0 195.2L868.2 196.4L867.5 196.7L866.7 197.5L865.5 198.0L864.8 198.4L864.6 200.3L863.8 201.0L864.1 202.2L863.7 203.4L862.4 203.8L862.1 204.6L861.5 206.1L861.5 207.0L861.1 208.0L860.7 209.0L859.7 209.8L859.7 210.8L858.8 212.3L858.5 213.1L857.7 214.0L858.5 214.6L858.4 216.8L858.1 217.7L857.5 218.1L857.1 219.6L856.3 219.7L854.8 219.7L854.0 220.7L853.8 220.0L854.4 220.8L855.5 221.1L854.9 222.0L856.1 223.2L855.5 223.9L856.3 225.4L855.5 226.3L854.4 226.8L853.7 228.4L854.0 229.3L854.3 230.8L853.3 231.3L852.7 232.3L852.5 233.6L852.3 234.5L851.8 235.8L851.5 237.0L850.8 237.5L850.7 238.8L849.6 240.0L849.5 240.6L849.5 241.8L849.0 242.7L848.2 243.9L847.2 244.9L847.4 245.7L846.5 246.5L846.2 247.8L846.2 248.7L845.9 249.7L846.5 250.9L847.3 250.3L848.1 249.2L848.8 248.6L849.0 247.1L849.7 246.6L850.7 245.4L851.7 245.2L851.6 244.2L852.4 243.0L852.1 241.4L853.2 241.1L853.9 239.9L854.3 238.9L854.7 238.1L854.8 236.6L855.4 236.5L856.3 234.6L857.8 234.4L857.4 233.4L857.3 232.1L858.4 231.1L858.8 229.8L859.0 228.8L859.6 228.2L860.2 227.7L860.8 226.4L861.6 225.5L861.1 223.9L862.1 223.4L863.0 222.6L862.4 220.8L863.2 220.0L864.7 219.8L864.9 218.3L866.1 217.5L866.3 216.4L867.3 215.4L867.4 215.1L867.9 214.0L868.7 213.1L869.2 211.7L869.9 210.9L870.7 210.7L870.9 209.6L872.3 208.6L872.1 207.2L873.9 206.9L873.1 205.2L875.2 205.1L875.3 203.8L876.1 203.1L876.4 202.3L876.9 201.0L877.7 200.6L879.1 199.7L879.2 199.0L880.7 198.5L880.7 197.3L881.4 196.6L882.9 196.0L883.4 194.7L884.1 194.2L885.1 193.7L885.8 193.2L887.1 192.4L887.4 191.3L887.8 190.1L888.6 189.0L889.3 189.0L890.5 188.1M919.8 188.1L918.5 189.2L920.1 190.5L919.4 191.5L918.6 192.3L918.1 192.9L917.9 194.2L917.1 195.3L916.8 196.4L915.6 197.1L915.5 198.2L914.5 199.0L913.5 199.5L912.8 200.3L911.3 200.2L911.9 202.4L911.0 202.7L910.1 203.3L908.3 203.4L907.9 203.5L906.9 204.9L905.7 204.5L904.8 205.6L903.5 205.1L902.8 205.4L901.0 205.9L899.8 206.2L899.1 205.7L898.5 206.6L897.3 207.8L896.1 207.5L895.4 208.5L894.4 208.5L893.7 209.5L892.9 210.6L892.8 211.1L894.1 210.8L895.3 209.7L896.3 209.8L897.4 209.4L897.8 208.2L899.0 208.1L900.6 209.0L901.8 208.6L902.6 207.7L903.8 208.8L904.6 208.6L905.8 208.3L906.7 209.2L907.5 210.0L908.5 210.8L909.3 210.8L909.5 211.5L910.6 210.6L911.3 209.7L912.2 208.7L912.6 207.7L914.0 208.2L914.7 206.4L915.8 207.0L916.2 205.1L917.9 205.8L918.5 204.6L919.2 203.8L918.6 202.7L920.0 201.8L920.5 201.5L920.2 203.0L920.4 204.0L920.3 204.5L919.9 205.8L920.6 206.9L919.6 207.7L919.3 208.9L919.1 210.0L918.7 210.9L918.2 211.9L918.7 213.4L919.1 214.0L918.7 215.9L917.9 216.6L919.3 217.4L918.1 218.1L917.8 219.7L916.4 219.9L917.7 220.4L919.4 220.4L919.6 219.8L920.3 220.4L921.0 221.4L922.0 222.6L922.7 222.9L924.1 223.1L924.3 224.4L925.1 224.7L926.1 225.5L927.1 226.4L927.7 227.0L928.4 228.5L929.0 228.7L928.6 230.3L930.2 230.3L931.9 231.3L932.6 231.9L933.5 231.4L934.7 232.2L936.0 232.1L936.7 232.6L937.9 233.0L938.7 232.4L939.5 233.0L941.2 233.5L941.8 234.0L943.1 234.6L943.6 234.9L945.2 235.6L945.8 235.3L946.9 234.0L948.1 235.1L949.1 234.5L950.4 235.5L951.3 234.1L952.3 233.8L953.3 233.7L954.5 234.4L955.5 233.5L956.5 233.4L957.9 233.0L958.6 232.6L959.6 232.1L960.9 232.0L961.0 229.8L962.8 230.2L963.2 229.1L964.2 228.8L965.3 228.5L966.0 227.4L966.8 227.6L968.1 228.4L968.3 229.5L969.2 229.7L970.1 228.0L971.5 228.3L972.7 227.7L973.2 228.9L974.5 229.4L975.1 229.4L976.6 230.5L977.2 230.6L978.4 231.2L979.6 230.5L980.1 231.5L982.0 231.0L982.7 231.4L981.7 232.2L981.4 233.1L979.9 232.8L979.7 234.9L978.6 234.7L977.7 235.7L977.2 236.7L976.4 237.1L975.4 238.2L975.0 239.1L974.3 239.6L973.4 240.8L972.5 241.6L971.4 242.1L970.9 242.3L970.5 244.2L969.5 244.6L969.4 245.6L967.9 245.8L966.5 246.4L966.4 247.7L965.6 248.9L965.2 249.4L963.9 250.1L963.5 250.7L962.0 250.4L961.2 251.8L960.4 252.8L959.5 253.1L958.5 253.8L957.8 254.7L956.9 255.4L956.6 256.2L955.1 256.0L954.2 257.3L953.3 257.3L952.7 258.8L951.7 258.5L951.0 259.4L950.3 260.4L949.1 261.1L949.0 262.3L948.4 263.2L948.6 264.1L947.5 265.9L948.0 266.4L946.9 267.2L947.1 268.3L946.6 269.8L946.0 270.5L945.2 271.4L945.9 272.8L945.8 273.7L945.1 274.4L944.6 275.5L944.1 277.1L943.6 277.9L942.9 278.6L941.7 279.3L942.3 280.9L940.8 281.3L940.4 282.2L939.1 282.3L939.1 284.1L937.9 284.6L936.9 284.8L936.3 285.1L935.1 285.6L933.7 285.8L933.5 284.5L932.5 283.8L931.6 283.3L930.9 282.9L930.2 282.9L928.2 283.0L928.1 281.8L927.2 280.9L927.0 279.6L925.9 279.4L925.1 279.1L924.8 277.2L924.3 276.5L924.7 275.3L923.9 274.0L924.4 273.2L925.5 271.9L925.6 270.8L926.4 270.1L926.7 269.4L926.6 267.9L927.2 267.0L927.6 265.2L928.5 265.0L928.9 263.8L929.1 263.1L929.5 261.9L930.8 260.9L931.2 260.1L931.6 259.0L932.1 258.7L933.0 257.6L932.9 256.1L933.5 255.4L934.3 254.4L935.6 253.7L935.1 252.2L936.6 251.9L936.9 251.2L937.3 249.8L938.1 249.2L938.9 248.6L940.5 248.0L940.8 247.3L942.2 246.7L942.5 245.7L944.2 245.8L944.9 245.2L945.4 245.1L946.5 243.6L948.3 244.8L948.6 243.3L949.5 242.2L950.8 243.0L951.3 242.5L950.8 243.4L949.7 244.5L948.1 244.2L948.2 244.7L947.1 245.9L946.4 246.8L944.6 247.1L943.6 247.7L944.5 248.7L944.2 249.7L944.4 251.3L943.3 251.0L942.0 250.7L941.5 250.0L940.9 248.5L940.5 247.9L940.2 247.7L938.9 247.8L937.2 249.2L936.3 249.0L935.6 249.7L934.4 248.0L934.0 247.8L933.4 247.0L934.5 245.4L934.0 244.3L934.3 242.9L935.5 242.8L935.6 241.3L936.1 240.3L936.8 239.7L936.9 238.5L935.6 239.2L934.8 238.8L933.8 238.7L932.8 238.1L932.2 239.9L934.1 240.5L935.0 240.8L933.6 242.1L932.9 243.0L933.1 244.1L932.0 245.6L931.9 245.7L931.0 246.5L930.6 247.7L929.5 248.3L929.2 249.6L928.5 250.0L927.9 251.6L927.4 252.1L926.0 252.9L925.6 254.0L925.4 255.1L924.5 254.9L923.3 256.5L922.1 256.4L921.4 257.5L921.0 258.7L920.0 259.1L919.5 259.6L918.4 259.9L917.9 261.5L917.1 262.1L915.5 262.1L914.4 262.9L913.6 262.7L912.6 263.4L911.5 263.3L910.0 264.2L909.8 263.9L908.2 264.5L908.2 264.8L907.9 265.8L908.9 266.9L907.9 268.1L907.9 269.3L908.9 270.2L909.2 269.3L910.4 269.4L911.0 269.0L912.2 268.6L913.1 269.6L913.9 270.3L914.5 271.1L913.7 271.6L912.7 271.6L912.0 271.6L910.8 272.1L909.6 271.6L908.5 271.3L907.7 272.5L907.0 272.7L906.0 273.9L905.5 274.3L904.8 275.3L903.7 276.0L903.5 277.2L902.7 278.0L901.9 278.6L901.0 280.0L900.2 279.8L899.2 280.7L898.8 281.9L896.9 281.4L896.6 282.9L896.1 283.6L894.6 283.5L893.6 283.9L893.3 285.7L892.4 286.6L890.7 285.3L890.0 286.2L889.7 287.6L889.6 288.7L887.9 289.1L887.3 290.2L887.3 291.4L886.8 292.0L887.5 293.9L886.0 294.1L885.7 295.1L884.8 295.6L884.3 296.9L883.3 297.6L882.3 298.6L881.5 299.1L880.2 299.3L879.4 299.6L878.1 299.7M922.0 277.0L922.7 276.2L922.2 274.9L923.3 274.0L924.5 273.4L924.4 272.4L924.9 271.1L924.3 269.4L925.0 268.9L925.9 268.1L926.3 267.0L927.2 266.3L927.7 265.1L928.6 264.3L928.1 265.6L928.0 266.4L927.2 267.5L926.2 268.7L925.7 269.4L926.3 270.7L925.7 271.3L924.7 272.2L924.7 273.6L924.0 274.2L923.8 275.8L922.2 275.8L922.0 277.0M931.6 217.0L932.7 216.0L933.2 216.9L933.0 218.3L934.0 218.9L934.5 219.9L935.0 220.2L935.5 222.3L936.7 222.0L937.9 223.0L938.5 222.9L939.5 223.2L940.6 223.9L941.9 223.5L942.8 223.1L943.9 223.4L945.1 222.8L946.1 222.1L947.1 220.9L947.9 221.5L949.4 221.3L950.3 220.5L951.5 220.8L952.4 219.1L953.4 219.6L953.9 218.1L954.9 218.3L956.5 218.9L957.6 218.4L958.4 217.3L959.8 217.0L960.9 216.5L959.9 217.0L959.5 218.3L959.9 219.7L959.3 220.8L958.6 221.5L958.1 222.0L956.9 222.8L958.1 224.1L958.6 225.2L958.5 226.2L957.8 226.8L956.9 227.2L955.9 228.5L955.3 227.0L954.2 226.6L953.5 226.2L952.6 225.9L951.7 226.7L950.7 227.3L949.7 226.6L948.7 226.4L947.4 226.1L946.5 226.2L945.7 226.9L944.6 226.9L943.5 227.5L942.1 228.1L941.2 227.6L940.6 226.6L939.1 226.4L938.6 226.1L937.3 226.7L936.3 226.4L935.5 226.2L935.0 225.4L934.1 224.5L932.8 224.4L932.0 224.2L930.5 224.1L931.5 222.7L930.5 221.4L930.8 219.9L931.0 218.9L931.9 217.8L931.6 217.0M972.6 199.4L973.0 199.0L974.6 198.3L975.7 198.8L976.5 198.4L977.7 199.0L978.7 199.4L978.5 200.9L978.3 201.7L978.9 202.9L979.7 204.0L979.4 204.4L980.1 206.3L980.5 207.3L980.0 208.4L981.1 208.9L981.0 210.8L980.7 211.8L982.2 211.2L982.6 211.4L984.0 211.0L985.3 210.0L985.6 211.1L986.4 212.0L985.1 213.4L985.5 215.3L986.1 216.0L985.7 216.6L985.6 217.6L983.5 219.0L984.6 220.3L984.0 220.9L984.0 221.9L983.6 223.0L982.6 223.8L981.9 224.9L982.4 226.4L980.6 226.5L979.6 227.2L978.5 226.9L978.1 227.9L976.7 226.6L975.9 227.5L974.7 226.8L973.2 226.2L974.1 224.5L972.0 224.0L971.4 223.5L971.7 222.5L971.1 221.3L970.9 220.4L971.3 219.0L970.6 218.5L971.2 216.8L970.8 215.8L970.8 214.8L971.8 213.8L971.5 212.3L971.2 211.6L972.4 210.6L971.0 209.5L971.2 208.0L972.2 207.0L972.3 206.3L972.4 204.6L972.1 203.9L971.7 202.8L972.3 201.7L971.4 200.4L972.6 199.4M980.9 211.8L979.5 212.1L980.0 214.0L980.1 215.2L979.3 215.7L978.6 217.0L978.9 218.4L978.2 219.4L977.7 220.3L977.6 221.2L978.3 222.5L978.1 223.3L978.5 224.4L979.6 224.8L980.4 223.8L980.4 222.7L980.7 221.9L981.2 220.8L981.5 219.8L982.3 218.9L982.2 217.6L981.6 216.6L981.3 215.7L982.9 215.1L982.0 213.5L981.8 212.3L980.9 211.8M982.8 213.3L983.2 214.6L984.5 215.1L984.0 216.4L984.0 217.4L983.4 218.5L983.0 219.5L983.0 220.9L982.5 221.1L982.6 222.8L981.3 223.2L980.3 224.2L979.8 225.2L980.4 225.1L981.5 224.5L981.4 223.6L982.4 222.3L982.5 221.2L982.1 219.7L982.6 219.1L983.2 217.4L983.2 216.7L983.5 215.6L983.2 214.1L982.8 213.3M955.7 202.3L956.5 201.1L956.9 200.3L955.5 199.1L955.6 198.1L957.6 196.8L956.8 195.4L957.8 194.7L958.6 194.0L959.2 192.5L959.0 193.6L958.9 194.6L959.2 196.3L958.7 197.4L958.9 198.1L957.9 199.8L957.4 200.4L956.3 201.3L956.5 202.3L955.7 202.3M978.4 230.9L979.5 230.3L980.5 229.9L981.5 230.8L982.2 230.7L982.0 232.4L980.1 232.3L979.5 233.7L978.6 233.5L978.2 231.8L978.4 230.9M577.3 301.1L579.4 298.5L581.7 295.9L584.0 293.2L586.1 290.6L588.7 287.9L591.4 285.3L594.0 283.0L596.6 280.9L599.8 279.2L602.8 277.4L605.4 275.8L608.1 274.4L609.8 272.7L611.1 270.9L611.8 268.8L612.1 266.9L613.2 266.0L614.2 265.1L616.0 263.3L617.7 261.6L619.5 259.8L621.2 258.1L623.0 256.3L624.4 254.6L625.8 254.0L627.4 254.0L629.7 254.6L631.8 255.1L634.4 255.4L637.1 255.8L639.7 255.8L642.3 255.8L644.5 255.6L646.7 255.8L648.0 257.7L649.4 259.8L650.8 262.1L652.0 264.2L653.2 266.0L654.6 267.7L656.8 268.8L659.0 269.5L661.3 269.1L663.4 268.6L665.5 268.3L667.8 268.1L668.4 270.2L668.7 272.1L669.6 273.9L670.5 275.6L671.9 277.4L673.1 279.2L673.6 281.4L674.0 283.6L675.4 285.3L676.6 287.1L676.1 288.8L675.7 290.6L676.6 292.3L677.5 294.1L679.3 294.6L681.0 295.0L681.9 296.2L682.8 297.6L683.7 299.0L684.5 300.3L683.1 299.4L681.0 297.6L679.6 296.4L678.4 295.5L676.1 295.7L674.0 295.9L672.2 295.0L670.5 294.1L670.1 292.3L669.6 290.9L667.3 291.5L665.2 292.0L662.6 292.5L659.9 293.2L657.3 294.3L654.6 295.5L652.5 296.6L650.3 297.6L649.4 299.0L648.5 300.3L646.2 299.9L644.1 299.4L642.0 298.5L639.7 297.6L637.4 296.2L635.3 295.0L633.2 294.1L630.9 293.2L629.2 293.6L627.4 294.1L626.0 295.2L624.8 295.9L625.1 294.1L625.6 292.3L626.5 290.2L627.4 287.9L628.6 286.2L630.0 284.4L631.8 283.2L633.2 281.8L631.1 281.6L629.2 281.8L627.4 282.7L625.6 283.6L623.9 285.0L622.1 286.2L620.4 287.9L618.6 289.7L616.9 290.9L615.1 292.3L612.8 293.7L610.7 295.0L608.6 296.2L606.3 297.6L604.0 299.0L601.9 300.3L599.8 300.8L597.5 301.1L595.8 301.7L594.0 302.0L594.5 300.8L595.8 299.4L597.2 297.6L598.4 295.9L598.0 294.5L597.5 293.2L595.2 294.5L593.1 295.5L590.5 296.4L587.9 297.3L585.2 298.3L582.6 299.4L579.9 300.4L577.3 301.1M613.3 276.5L615.1 274.8L616.9 273.0L619.1 271.2L621.2 269.8L622.3 270.2L622.1 270.9L620.4 272.5L618.6 273.9L616.9 275.5L615.1 276.9L613.9 277.1L613.3 276.5M655.0 273.4L657.3 272.7L659.6 273.4L658.2 274.4L655.5 274.4L655.0 273.4M612.1 266.9L613.9 264.2L616.0 262.1L617.7 262.8L616.3 265.1L614.6 267.0L612.8 268.1M617.7 261.6L619.8 258.9L622.0 257.2L623.4 258.2L621.6 260.4L619.5 262.5L617.7 261.6M622.1 257.2L624.8 255.1L627.4 254.6L629.2 255.8L630.4 257.2L628.3 257.2L626.2 256.5L624.4 258.2L622.1 257.2M612.1 233.5L611.9 232.1L612.2 231.0L613.8 230.5L615.5 230.3L616.0 229.4L616.2 230.5L617.5 229.3L619.1 229.8L620.1 229.7L620.8 230.3L621.5 231.8L621.7 231.2L621.1 233.2L622.3 234.5L623.0 235.4L623.5 236.6L622.8 237.6L623.7 239.0L623.7 239.7L622.8 240.5L623.7 242.3L623.0 243.0L623.4 244.4L622.1 245.2L621.5 246.7L620.4 246.0L619.4 246.9L618.2 246.1L616.8 246.2L615.9 244.5L614.9 245.6L614.1 245.0L613.6 244.3L612.7 243.6L610.9 243.8L611.8 242.2L610.7 240.9L612.1 240.0L611.0 239.0L610.3 237.9L610.5 236.5L611.0 235.8L612.2 234.7L612.1 233.5M565.0 266.9L566.8 266.0L568.2 267.4L569.4 268.6L571.2 269.5L573.4 270.5L575.5 271.2L578.2 273.0L580.8 274.8L583.5 273.7L586.1 273.0L588.7 272.7L591.4 272.1L594.0 272.7L596.6 273.0L599.3 273.5L601.9 273.9L604.6 274.2L607.2 274.4M565.0 265.6L566.4 264.9L567.6 266.0L566.8 267.7L565.4 268.1L565.0 267.0M675.7 306.4L673.1 305.5L670.5 305.0L668.4 304.8L666.1 305.0L663.8 305.7L661.7 306.4L659.0 307.3L656.4 308.2L654.3 309.6L652.0 310.8L650.8 311.7L649.4 312.6L648.0 312.0L646.7 311.7L646.4 313.4L645.9 315.2L644.5 317.0L643.2 318.7L642.3 320.8L641.5 323.1L640.2 325.4L638.8 327.5L637.9 329.6L637.1 331.9L636.2 334.2L635.3 336.3L635.3 337.7L636.2 338.0L637.4 336.3L638.8 334.5L640.2 332.4L641.5 330.1L642.7 327.5L644.1 324.9L645.2 322.6L646.2 320.5L647.1 319.8L648.0 319.6L647.6 321.3L646.9 323.1L646.2 324.9L645.2 327.9L644.1 331.0L643.2 334.5L642.3 338.0L641.6 341.6L640.9 345.1L640.2 348.6L639.7 352.1L639.4 355.6L639.2 359.1L639.5 362.7L640.2 366.2L641.3 369.7L642.3 373.2L643.4 376.7L644.5 380.2L645.5 383.4L646.7 386.4L648.0 388.7L649.4 390.8L651.1 391.3L652.9 391.7L654.6 391.0L656.4 389.9L658.2 387.8L659.9 385.5L661.3 382.3L662.6 379.4L663.4 375.8L664.3 372.3L664.7 369.3L664.8 366.2L664.3 363.0L663.4 360.0L662.0 357.0L660.8 353.9L659.6 351.2L658.2 348.6L657.5 346.0L656.8 343.3L656.9 340.2L657.3 337.2L658.2 334.2L659.0 331.0L660.3 329.3L661.7 327.5L661.3 325.7L660.8 324.0L662.6 322.6L664.3 321.9L666.1 321.3L666.2 324.3L666.6 327.5L667.1 328.9L667.8 329.3L668.5 328.6L669.1 327.5L669.4 324.3L669.6 321.3L670.1 319.9L670.5 318.7L671.9 317.3L673.1 316.1L674.0 314.3L674.3 312.6L673.6 311.2L673.1 309.9L674.3 308.2L675.7 306.4M645.0 327.5L645.9 324.9L646.9 322.2L647.6 320.5L648.3 321.0L647.6 323.1L646.6 325.7L645.5 328.4L645.0 327.5M664.7 311.2L665.7 310.8L666.4 312.6L666.1 314.3L665.0 314.0L664.7 311.2M645.9 315.2L647.3 313.4L649.0 312.0L650.1 312.7L649.0 314.5L650.3 313.8L652.0 311.3L652.9 312.0L651.5 314.3L650.1 315.5M666.6 322.6L667.7 322.2L668.4 325.7L668.0 328.6L667.0 327.5L666.6 322.6M671.6 280.0L671.4 281.0L672.4 282.0L672.1 283.5L672.5 284.3L672.6 285.5L673.3 286.5L674.5 286.4L675.6 286.2L677.0 286.7L676.9 287.8L677.3 288.7L675.8 289.9L676.9 290.9L676.4 292.0L676.8 293.2L678.0 293.4L678.9 293.8L679.9 293.6L680.7 294.4L681.2 295.2L681.3 296.2L681.7 297.5L682.4 298.3L683.1 299.4L683.6 300.1L684.6 300.2L685.9 301.0L686.6 301.3L687.8 301.0L689.0 301.7L690.1 301.5L691.0 301.5L692.4 301.9L693.3 301.5L694.2 301.0L695.4 301.3L696.7 301.0L697.9 301.3L698.6 301.6L699.7 301.2L700.9 300.8L702.2 300.4L702.9 300.0L704.2 300.5L705.2 299.9L706.2 299.7L706.9 299.2L708.1 298.2L709.3 298.4L710.6 298.0L711.6 298.0L712.3 297.7L713.6 297.1L714.5 296.7L715.9 296.7L716.9 296.4L717.9 296.1L718.7 296.8L719.8 297.3L721.0 296.6L722.5 296.3L723.5 297.0L724.4 297.1L725.4 296.7L726.6 297.4L727.5 297.5L728.7 297.9L728.8 299.1L730.1 299.9L731.0 300.1L731.5 300.9L732.4 302.0L733.4 302.7L734.1 303.1L735.1 304.2L735.2 305.2L736.4 305.5L736.6 306.4L737.7 307.7L737.5 308.9L738.5 309.5L739.0 310.2L739.4 311.7L740.3 312.1L741.4 312.7L742.0 313.7L742.6 314.4L743.8 315.2L744.6 315.5L744.4 316.3L743.3 316.9L742.6 317.4L743.3 318.5L743.4 319.9L742.5 320.8L743.0 322.0L741.9 321.9L740.7 322.1L739.6 322.3L738.5 322.1L737.7 321.9L736.5 321.6L735.5 321.5L734.4 320.7L733.4 320.8L732.4 319.9L731.4 319.2L730.2 319.1L729.6 318.3L728.4 317.8L727.8 316.6L727.0 316.1L726.2 315.4L725.1 314.7L724.5 314.1L723.7 313.4L722.4 312.9L722.1 312.1L720.9 311.7L719.5 311.6L718.6 311.7L717.7 312.0M677.0 304.2L678.0 303.7L679.1 304.1L680.3 303.6L681.5 303.7L682.6 303.9L683.6 304.0L684.6 304.4L685.6 303.7L686.7 304.7L688.1 303.8L688.8 304.2L690.0 304.0L691.5 304.0L692.2 303.9L693.5 303.4L694.6 303.9L695.5 303.6L696.3 304.0L697.6 304.3L698.6 304.5L700.0 303.7L701.1 304.2L702.1 304.1L703.1 303.8L704.4 303.8L705.5 304.0L706.7 303.2L707.7 303.5L708.8 303.3L709.8 304.6L710.8 304.2L711.6 305.4L712.8 305.4L713.3 306.3L714.5 306.9L715.3 307.6L716.2 308.3L716.3 306.5L716.6 305.7L716.6 304.6L716.8 303.8L716.2 302.8L716.2 301.6L715.6 300.6L715.2 299.4L715.0 298.2L714.5 297.5M685.6 301.1L686.3 302.0L687.3 302.6L688.2 303.0L689.3 303.2L690.5 304.0L691.7 303.3L692.3 303.1L693.8 303.2L694.8 302.9L696.1 303.0L696.9 303.1L698.2 303.0L699.0 302.6L700.8 303.5L701.7 303.0L702.4 302.8L701.7 302.5L700.9 301.6L699.9 302.2L698.8 301.8L697.7 302.0L696.2 302.0L695.2 301.9L694.2 302.6L693.3 302.8L692.0 303.0L690.8 302.7L689.8 302.2L688.7 302.3L687.7 301.8L686.2 301.8L685.6 301.1M711.4 297.5L712.5 297.3L713.7 296.9L714.7 297.4L715.4 298.1L715.8 299.3L716.9 300.6L716.0 301.2L715.2 301.8L714.2 301.4L713.7 300.3L713.0 299.1L712.2 298.2L711.4 297.5M670.0 305.8L670.9 306.4L671.9 306.7L672.9 307.3L673.9 307.7L675.3 307.1L676.0 307.9L677.2 308.4L678.4 308.8L679.1 309.3L680.3 310.5L681.2 310.0L682.6 310.5L682.9 310.8L684.4 311.8L685.6 311.9L686.7 312.0L687.2 312.7L688.5 313.3L689.1 313.6L690.4 314.6L690.7 315.5L691.7 315.8L692.6 316.8L693.2 317.4L694.4 317.9L694.9 318.8L695.7 319.7L696.6 320.6L696.6 321.4L697.7 322.3L697.1 323.5L697.9 324.8L698.3 325.6L698.4 327.0L699.4 327.9L698.8 328.7L698.3 330.0L698.7 331.1L698.6 332.0L698.6 333.6L698.3 334.4L697.8 335.0L697.6 336.4L697.2 337.5L696.1 337.9L695.0 338.9L694.5 339.5L693.2 339.7L692.7 341.0L693.3 341.9L693.3 343.3L693.1 344.2L693.3 345.3L693.9 345.7L694.4 347.1L695.2 348.2L696.2 347.4L697.0 346.7L697.8 346.5L698.8 345.8L699.2 344.8L700.3 343.9L700.7 343.1L700.9 341.4L701.2 340.8L702.4 340.1L703.3 339.4L703.9 339.0L704.7 338.1L705.8 338.0L706.8 337.6L707.6 338.5L708.7 339.0L710.0 339.2L709.5 340.6L710.4 341.9L711.2 342.3L711.2 343.6L711.4 344.5L711.7 345.7L712.2 346.9L713.1 347.7L712.9 348.9L713.7 349.5L714.1 350.9L714.3 351.6L714.6 352.9L715.1 353.7L715.6 354.9L715.0 356.4L715.7 357.2L716.2 358.5L715.7 359.4L716.5 359.2L716.7 358.0L717.6 357.1L717.2 355.6L718.5 354.9L719.1 354.4L719.2 353.2L719.5 352.1L719.8 350.7L720.2 349.9L720.8 349.0L720.4 347.7L720.2 347.0L721.5 345.7L721.5 344.4L721.6 343.4L721.7 342.5L721.7 341.3L721.1 340.0L721.3 339.1L721.2 337.7L721.0 337.0L721.5 335.8L720.9 334.7L721.0 333.5L721.5 332.7L722.1 331.8L722.0 330.6L722.3 329.2L722.9 328.4L722.8 327.4L722.7 326.4L723.8 325.3L723.9 324.4L723.5 322.9L724.3 321.8L724.8 320.8L724.1 320.0L724.2 318.9L723.9 317.6L723.7 316.5L722.9 315.7L722.3 314.8L721.7 314.0L720.4 313.4L719.7 312.9L718.8 312.3L717.7 312.0M670.0 307.3L670.7 308.4L671.4 308.9L672.3 309.9L673.4 310.6L672.6 311.8L671.9 312.4L672.4 313.9L672.4 315.3L671.4 315.7L670.7 316.4L670.0 317.5M716.1 359.7L715.5 360.8L714.5 361.1L713.8 361.9L713.0 362.4L712.7 363.6L712.1 364.7L711.4 365.9L710.8 366.8L711.0 367.8L710.3 368.9L709.8 369.8L709.3 370.6L710.0 371.5L711.4 372.4L712.1 371.9L713.3 371.7L714.3 371.9L715.6 371.4L715.7 370.3L716.7 369.9L716.5 368.8L716.3 367.6L715.8 367.1L715.4 366.0L715.0 364.7L714.3 363.4L713.5 363.2L712.5 362.8M709.4 370.9L709.4 372.3L708.9 373.0L708.9 374.0L708.3 375.0L707.8 376.3L707.7 377.4L707.0 378.4L706.4 379.6L705.8 380.2L705.4 381.2L704.7 382.3M708.8 373.8L709.9 373.9L710.9 373.7L712.5 374.2L713.6 373.5L714.3 373.1L715.6 373.2L716.9 373.4M704.7 382.3L705.8 382.8L706.7 383.1L707.6 384.0L708.6 384.1L710.1 384.4L710.5 385.3L711.8 385.9L712.6 386.3L713.0 385.2L714.1 384.5L715.0 385.6L716.1 385.7L717.0 386.0L718.1 386.5L719.1 386.4L720.2 385.6L721.4 385.8L722.4 385.4L723.2 384.8L724.2 384.1L724.9 383.6L725.9 382.8L727.0 382.1L728.0 381.8L728.7 381.2L729.7 380.6L731.2 380.0L731.8 379.4L732.4 378.4L733.1 377.7L734.2 377.1L735.0 376.6L735.8 375.8L736.0 374.4L737.4 374.6L738.6 373.6L739.3 373.3L740.6 372.4L741.2 371.7L742.0 370.9L742.8 370.5L743.9 369.7L744.6 369.4L745.6 368.3L746.4 367.7L747.6 367.0L748.1 366.3L749.3 365.7L749.9 364.9L750.6 364.0L751.3 363.3L752.1 362.4L752.7 361.6L753.8 361.2L754.9 360.3L755.6 359.2L756.0 358.7L757.4 358.1L757.9 357.6L758.7 357.0L759.9 356.3L760.6 355.0L761.1 354.3L761.8 353.3L763.2 353.4L763.1 352.1L764.9 351.2L765.0 350.1L763.8 349.5L762.9 349.2L762.0 349.9L760.9 350.3L759.9 350.3L758.7 350.9L757.9 351.4L756.5 351.2L755.5 351.9L754.5 351.8L753.4 352.7L752.3 352.9L751.8 353.5L750.8 354.0L750.0 354.8L748.9 355.7L748.7 356.6L748.2 357.7L749.0 358.3L748.0 359.2L746.6 358.3L745.6 358.4L744.5 358.0L743.5 358.7L742.4 357.7L741.6 357.5L740.3 357.7L739.3 358.1L737.6 357.8L737.0 358.2L736.1 359.2L735.2 359.8L734.1 359.8L733.0 360.4L732.0 360.7L731.4 361.8L730.3 362.1L729.4 362.8L728.4 363.4L727.8 364.7L726.4 364.9L725.8 365.2L724.8 366.3L724.2 367.1L723.4 367.8L722.6 368.6L721.4 369.1L721.2 370.4L720.5 371.0L719.6 372.1L718.9 372.8L718.8 373.9L717.7 374.6L716.8 375.6L715.8 375.8L715.5 377.2L714.3 377.5L713.6 378.2L713.0 379.3L712.0 379.7L710.7 379.4L710.1 381.5L708.9 381.3L708.0 381.7L706.8 382.2L705.7 382.4L704.7 382.3M750.5 344.1L750.5 342.8L751.4 341.9L750.9 341.1L751.7 339.9L751.5 338.8L752.8 338.3L753.8 337.5L754.2 336.1L755.4 335.6L755.7 334.9L756.8 334.5L757.7 333.4L758.8 333.3L759.5 332.7L760.6 331.8L761.7 331.5L762.7 331.4L763.7 330.8L764.7 330.4L765.8 329.9L766.7 329.3L767.8 329.0L768.7 328.3L769.8 328.4L770.8 327.5L772.2 328.0L773.1 327.5L773.9 326.3L774.8 326.2L776.2 326.0L777.2 325.9L778.0 325.0L779.2 325.2L780.6 325.0L781.3 324.7L782.7 324.6L783.6 323.8L783.7 322.7L784.8 322.2L785.6 321.7L786.2 320.9L786.9 319.9L788.2 318.9L789.2 318.8L789.6 317.8L790.7 317.0L791.4 316.2L792.4 315.8L793.0 315.0L794.5 314.9L795.3 314.0L796.2 313.6L796.6 312.5L797.4 311.5L798.1 310.7L798.7 309.6L799.1 308.8L800.2 307.8L800.7 307.0L801.2 305.6L801.7 304.9L802.0 304.2L802.5 303.1L803.6 302.3L803.8 301.3L804.2 300.3L804.9 299.5L805.8 298.5L806.6 297.5L807.7 297.3L808.4 296.9L809.1 295.6M750.5 344.1L751.5 343.8L752.5 343.9L754.2 343.7L755.0 343.1L756.2 342.6L756.9 342.4L757.9 342.3L758.9 342.1L760.0 341.5L761.1 341.0L762.0 340.4L763.0 339.8L764.3 340.5L765.6 340.0L766.5 339.1L767.4 338.9L768.8 339.0L769.7 338.0L770.4 337.9L772.0 337.9L773.2 338.3L774.0 337.1L775.2 337.4L776.3 336.9L777.1 336.5L778.1 336.0L779.5 336.3L780.4 335.8L781.5 335.6L782.6 335.8L783.4 334.9L784.9 335.0L786.0 334.7L786.9 334.2L787.9 334.1L788.8 333.5L790.4 333.4L791.3 333.0L791.9 332.4L792.9 331.7L793.9 331.3L794.7 330.1L795.3 329.8L796.2 328.8L796.6 327.8L797.2 326.6L796.4 325.6L796.9 324.5L796.6 323.3L796.4 322.4L796.2 321.4L795.9 320.2L794.3 319.8L793.7 319.1L792.8 320.1L791.5 320.3L790.6 320.1L789.4 320.7L789.0 322.0L787.8 322.4L787.2 322.8L785.7 323.2L785.2 323.7L784.5 322.8L784.9 321.7L785.4 321.1L786.4 320.4L787.3 319.6L788.1 318.6L789.5 318.8L790.2 317.6L791.6 317.5L792.1 316.9L793.1 316.5L793.8 316.2L795.0 315.2M784.8 322.2L785.5 321.6L786.6 320.4L787.6 320.5L788.5 320.0L789.7 319.5L790.8 319.2L791.9 318.5L792.7 317.6L793.5 317.0L794.2 316.2M287.6 384.1L288.7 382.6L290.5 382.2L292.1 382.6L292.6 384.1L291.8 385.5L293.1 387.0L294.6 387.9L295.2 389.9L295.5 392.3L296.7 391.7L296.4 389.3L296.7 387.9L298.1 388.7L298.8 391.1L299.2 393.4L300.5 395.5L301.9 398.1L300.5 398.7L299.3 398.1L298.7 399.9L297.5 401.6L295.8 402.5L294.3 401.9L293.7 399.6L293.4 397.5L292.6 399.3L291.4 398.7L290.8 396.7L289.9 394.6L289.6 392.6L288.7 390.8L287.3 389.3L287.5 387.0L287.6 384.1M298.0 396.1L298.7 395.8L299.1 397.5L298.5 399.3L297.9 398.1L298.0 396.1M473.0 187.8L474.8 188.8L476.1 190.2L475.3 192.9L474.8 195.6L474.5 198.4L474.8 201.1L475.7 203.6L477.1 205.9L478.9 207.9L480.5 209.7L482.1 208.3L483.5 207.5L485.3 207.7L487.1 208.1L489.0 209.2L490.8 210.2L490.1 211.9L489.8 213.4L491.4 214.9L492.8 216.3L492.5 217.6L492.0 219.0L490.6 219.3L489.4 219.5L489.8 221.6L490.4 223.6L491.2 226.4L492.1 229.1L492.5 232.1L492.8 235.3L493.8 236.5L494.9 237.3L496.6 237.2L498.3 236.8L499.6 236.1L501.0 235.3L500.7 233.6L500.3 232.1L499.0 230.5L497.6 228.8L495.8 227.5L494.2 226.1L492.5 224.7L491.2 223.4L490.1 221.6L489.4 219.8M480.5 188.1L479.8 190.2L479.4 192.2L478.9 194.7L478.5 197.0L478.0 199.3L477.8 201.8L478.7 204.0L479.8 205.9L481.2 207.2L482.6 208.3L484.3 208.6L486.0 208.1L488.0 208.9L489.4 210.2L488.7 212.0L488.0 214.1L489.4 216.1L490.8 217.5M476.7 204.5L478.5 206.6L480.5 208.3L482.6 209.7L484.6 208.9L486.7 209.4L488.7 210.7L487.3 211.3L485.3 210.8L483.2 211.1L480.8 210.8L478.5 208.9L476.7 206.6L476.7 204.5M490.4 187.8L492.3 190.0L494.2 192.2L495.8 194.7L497.6 197.0L499.0 199.3L500.3 201.8L501.0 203.1L501.7 204.2L502.7 202.2L503.7 200.4L505.1 199.6L506.5 199.3L507.4 200.4L508.1 201.8L508.5 204.2L508.9 206.6L509.5 208.9L509.9 211.3L510.9 210.0L512.0 208.6L513.3 207.8L514.7 207.2M509.5 187.8L510.3 190.8L511.3 193.6L512.2 196.6L513.3 199.7L514.4 202.2L515.4 204.5L516.1 207.0L516.7 209.3L518.1 211.3L519.5 213.4L520.6 215.4L521.5 217.5L521.2 219.8L520.8 222.3L520.4 225.0L520.2 227.7L518.8 228.6L517.4 229.1L517.1 230.9L516.7 232.5L515.4 233.1L514.0 233.2L513.2 231.6L512.6 229.8L513.0 227.5L513.3 225.0L513.0 222.6L512.6 220.2L513.0 218.2L513.6 216.1L514.1 213.8L514.7 211.3L514.8 209.3L514.7 207.2M514.0 215.2L515.2 214.6L516.2 216.1L515.4 217.6L514.1 217.1L514.0 215.2M534.5 258.9L534.6 259.3L535.3 261.7L534.7 262.3L535.8 261.8L536.6 260.6L537.9 262.2L539.0 260.8L539.8 262.1L541.1 261.7L541.8 263.4L542.4 261.7L543.2 260.8L544.0 260.4L545.5 260.1L545.8 258.7L546.6 259.1L547.0 257.2L548.2 256.8L550.1 257.1L549.9 254.7L550.6 254.7L550.0 253.7L550.2 252.7L549.8 251.5L550.0 250.5L548.9 249.7L548.5 249.0L547.4 247.9L545.9 247.4L546.2 246.1L545.9 245.2L545.5 244.7L543.5 246.0L541.8 245.3L541.5 244.5L540.8 244.6L539.7 245.0L538.6 245.1L537.5 246.6L536.3 246.5L535.4 246.9L534.8 247.8L535.4 248.9L535.1 250.6L534.9 251.4L535.1 252.0L534.6 253.2L535.0 255.2L536.1 255.9L534.1 256.5L534.0 258.1L534.5 258.9M537.2 247.6L538.8 247.3L538.9 247.5L540.7 247.6L542.6 247.6L540.5 248.7L539.9 249.9L539.8 250.2L538.1 250.7L537.6 250.1L537.8 249.5L536.3 248.5L537.2 247.6M542.0 246.2L543.1 246.2L543.6 247.1L544.2 248.3L545.6 247.9L546.0 249.5L545.4 249.9L545.3 252.1L543.1 251.2L542.7 250.4L541.4 249.4L540.1 248.2L541.8 247.3L542.0 246.2M538.6 252.4L539.6 252.4L540.3 252.6L541.6 252.8L543.2 253.3L542.2 253.6L541.7 255.5L540.8 255.6L540.8 256.9L539.7 256.5L539.1 255.3L537.1 255.1L538.7 253.5L538.6 252.4M543.7 252.4L545.2 252.6L546.2 251.6L547.2 252.6L547.7 253.4L549.0 253.7L548.4 255.2L548.1 256.5L546.3 256.4L545.6 255.9L545.1 255.2L543.8 254.5L544.0 253.8L543.7 252.4M540.7 257.8L542.6 256.9L542.4 257.4L543.9 257.5L544.3 258.5L543.9 260.0L542.8 259.7L541.1 259.9L539.5 259.6L540.7 257.8M542.0 262.6L543.4 263.0L544.3 264.1L544.9 264.5L546.4 264.2L547.3 264.4L548.2 264.1L549.9 264.8L550.0 265.8L552.0 265.4L552.1 267.0L553.4 266.4L555.0 266.6L555.5 265.8L556.5 265.3L557.8 264.7M557.8 259.9L558.5 260.7L559.3 261.2L560.2 262.6L560.2 263.3L561.3 263.5L562.7 263.4L563.8 263.9L564.6 264.9L566.1 264.8L566.5 266.5L568.3 265.8L568.9 266.6L569.7 267.5L569.8 268.4L569.8 269.5L568.4 269.7L567.4 268.8L566.3 268.6L564.4 268.3L564.3 267.4L562.6 266.9L561.7 267.1L561.4 266.7L559.6 265.7L558.9 265.1L558.1 264.5L558.8 262.8L558.2 262.4L558.2 261.2L557.8 259.9M559.1 261.9L558.4 263.1L561.1 263.7L561.4 264.7L561.9 264.2L564.3 265.2L565.1 265.7L565.8 265.9L566.7 266.0L567.7 266.9L569.0 267.8L568.2 268.4L566.9 267.5L565.3 268.3L565.2 266.8L563.9 266.4L562.6 266.1L561.9 265.5L561.1 264.4L559.7 263.2L559.3 262.7L559.1 261.9M709.0 186.5L710.0 190.2L711.2 194.0L715.0 195.5L718.8 196.0L720.5 193.5L721.2 190.2L723.8 188.5L726.2 187.0M729.5 186.5L730.5 190.2L731.2 193.5M633.8 627.0L634.4 626.0L635.3 625.6L636.5 625.0L637.4 624.4L638.6 624.8L639.3 625.6L640.2 625.9L641.9 626.4L642.4 627.5L643.2 628.0L644.6 627.7L645.4 628.8L646.4 628.8L647.4 629.4L648.4 628.8L650.2 629.4L649.9 630.0L649.4 630.9L649.2 631.9L648.6 632.6L647.0 631.8L646.1 631.1L645.2 632.0L645.2 633.0L644.7 634.1L644.4 633.9L644.5 632.4L644.0 631.8L643.3 631.2L642.3 630.3L641.6 629.5L640.3 629.0L639.7 628.0L638.3 627.6L638.6 626.1L637.4 625.3L637.0 624.4M638.2 622.5L638.9 621.3L639.8 621.1L640.6 619.9L640.2 618.7L641.8 618.4L642.0 616.2L643.3 616.2L642.6 615.0L643.1 613.9L643.5 612.4L644.3 611.7L645.5 611.9L646.0 613.1L644.7 613.5L645.3 614.7L645.1 615.9L644.7 617.2L643.5 617.9L642.1 618.6L642.0 619.5L641.9 620.9L641.3 621.5L640.5 622.5L639.6 622.4L638.2 622.5M639.3 621.6L640.4 620.1L640.2 620.0L640.8 618.6L640.7 617.6L642.1 616.9L642.3 615.4L644.3 615.5L644.7 614.2L644.7 612.7L644.1 614.2L644.4 615.5L644.1 616.9L643.0 617.8L642.2 618.0L641.4 618.9L641.8 619.8L640.8 621.0L639.8 621.9M640.1 620.0L640.6 619.0L641.1 618.0L642.4 617.4L642.9 616.6L642.9 615.3L644.2 614.7L643.8 615.6L643.7 616.1L643.0 617.1L642.1 617.8L642.0 618.9L641.4 620.0L640.1 620.0M635.7 613.3L636.4 613.2L637.9 612.6L638.3 613.7L639.8 613.8L640.0 614.9L640.5 615.8L640.0 616.4L639.2 616.5L638.2 616.4L637.5 616.2L636.2 615.6L635.8 614.6L635.7 613.3M650.9 611.7L652.0 613.6L652.2 615.5L651.8 617.6L650.9 619.4M590.0 623.8L591.3 623.0L591.7 622.5L593.2 622.8L593.5 623.4L593.1 624.3L592.4 625.0L590.8 624.7L590.0 624.2M597.6 623.2L598.6 622.3L599.1 621.6L600.2 622.1L601.4 620.7L602.7 621.2L604.3 621.7L604.2 623.3L604.9 623.4L605.5 624.1L604.5 624.8L603.3 625.6L602.2 625.4L601.1 625.8L600.5 625.2L598.8 624.8L598.2 624.5L597.6 623.2M612.9 630.1L613.6 629.4L614.3 627.9L614.8 629.2L616.2 629.2L615.6 630.3L615.0 631.4L616.7 631.6L617.2 632.7L618.8 633.4L618.5 634.6L619.8 634.8L620.9 633.6L621.8 634.0L622.8 633.1L623.0 631.8L624.1 631.0L625.0 630.6L625.1 629.3L626.6 629.4L628.0 629.2L629.0 629.0L629.7 629.7L630.6 630.6L631.4 630.8L631.8 629.6L632.8 629.2L633.2 627.8L633.8 627.0M671.2 604.8L671.3 603.6L672.1 602.3L673.7 602.5L674.1 603.1L675.3 602.4L676.3 602.4L677.5 602.3L677.7 601.1L679.5 600.8L680.4 600.6L681.4 600.9M689.0 600.1L690.1 599.8L691.4 599.3L692.1 599.4L693.2 599.7L694.4 599.9L695.4 600.3M700.4 602.9L701.6 602.7L702.7 602.9L704.0 603.7L705.1 604.4L705.5 605.4" fill="none" stroke="#000" stroke-width="1.0" stroke-linejoin="round"/>

</g>
<rect x="115.8" y="187.6" width="871.0" height="529.6" fill="none" stroke="#1a1a1a" stroke-width="1.1"/>
<path d="M235.2 187.6V170.4M417.8 187.6V170.4M595.2 187.6V170.4M778.8 187.6V170.4M977.3 187.6V170.4M287.4 717.2V734.4000000000001M464.7 717.2V734.4000000000001M641.9 717.2V734.4000000000001M822.6 717.2V734.4000000000001M115.8 274.1H98.6M115.8 373.9H98.6M115.8 473.2H98.6M115.8 572.4H98.6M115.8 671.6H98.6M986.8 236.4H1004.0M986.8 337.85H1004.0M986.8 439.15H1004.0M986.8 540.45H1004.0M986.8 641.75H1004.0" stroke="#1a1a1a" stroke-width="1.05" fill="none"/>
<g font-family='"Liberation Serif", serif' fill="#000" filter="url(#nf)">
<text x="551.2" y="146.2" font-size="36.75" text-anchor="middle">2025-10-15 12 UTC PM25_SOIL Forecast (ug m<tspan font-size="24" dy="-15.3">-3</tspan><tspan dy="15.3">)</tspan></text>
<text x="79.8" y="284.6" font-size="28.7" text-anchor="end">45°N</text>
<text x="79.8" y="384.4" font-size="28.7" text-anchor="end">40°N</text>
<text x="79.8" y="483.7" font-size="28.7" text-anchor="end">35°N</text>
<text x="79.8" y="582.9" font-size="28.7" text-anchor="end">30°N</text>
<text x="79.8" y="682.1" font-size="28.7" text-anchor="end">25°N</text>
<text x="287.4" y="763.4" font-size="28.7" text-anchor="middle">110°W</text>
<text x="464.7" y="763.4" font-size="28.7" text-anchor="middle">100°W</text>
<text x="641.9" y="763.4" font-size="28.7" text-anchor="middle">90°W</text>
<text x="822.6" y="763.4" font-size="28.7" text-anchor="middle">80°W</text>
</g>
<rect x="195.20" y="801.5" width="32.65" height="42.7" fill="#FFFFFF"/>
<rect x="227.55" y="801.5" width="32.65" height="42.7" fill="#E1F3FC"/>
<rect x="259.91" y="801.5" width="32.65" height="42.7" fill="#BFE6F9"/>
<rect x="292.26" y="801.5" width="32.65" height="42.7" fill="#A0D9F6"/>
<rect x="324.62" y="801.5" width="32.65" height="42.7" fill="#83C0E6"/>
<rect x="356.97" y="801.5" width="32.65" height="42.7" fill="#6AAADD"/>
<rect x="389.33" y="801.5" width="32.65" height="42.7" fill="#4B8DCB"/>
<rect x="421.68" y="801.5" width="32.65" height="42.7" fill="#4A9B9F"/>
<rect x="454.04" y="801.5" width="32.65" height="42.7" fill="#4AA673"/>
<rect x="486.39" y="801.5" width="32.65" height="42.7" fill="#4AB247"/>
<rect x="518.75" y="801.5" width="32.65" height="42.7" fill="#84C44D"/>
<rect x="551.10" y="801.5" width="32.65" height="42.7" fill="#C3D858"/>
<rect x="583.45" y="801.5" width="32.65" height="42.7" fill="#F9E95E"/>
<rect x="615.81" y="801.5" width="32.65" height="42.7" fill="#F8C04B"/>
<rect x="648.16" y="801.5" width="32.65" height="42.7" fill="#F79B3D"/>
<rect x="680.52" y="801.5" width="32.65" height="42.7" fill="#F4712B"/>
<rect x="712.87" y="801.5" width="32.65" height="42.7" fill="#EA572C"/>
<rect x="745.23" y="801.5" width="32.65" height="42.7" fill="#E03D29"/>
<rect x="777.58" y="801.5" width="32.65" height="42.7" fill="#D4212A"/>
<rect x="809.94" y="801.5" width="32.65" height="42.7" fill="#BE1D26"/>
<rect x="842.29" y="801.5" width="32.65" height="42.7" fill="#AA1B22"/>
<rect x="874.65" y="801.5" width="32.65" height="42.7" fill="#93161C"/>
<path d="M227.55 801.5V844.2M259.91 801.5V844.2M292.26 801.5V844.2M324.62 801.5V844.2M356.97 801.5V844.2M389.33 801.5V844.2M421.68 801.5V844.2M454.04 801.5V844.2M486.39 801.5V844.2M518.75 801.5V844.2M551.10 801.5V844.2M583.45 801.5V844.2M615.81 801.5V844.2M648.16 801.5V844.2M680.52 801.5V844.2M712.87 801.5V844.2M745.23 801.5V844.2M777.58 801.5V844.2M809.94 801.5V844.2M842.29 801.5V844.2M874.65 801.5V844.2" stroke="#111" stroke-width="0.65" fill="none"/>
<rect x="195.2" y="801.5" width="711.8" height="42.7" fill="none" stroke="#555" stroke-width="0.8"/>
<g font-family='"Liberation Serif", serif' font-size="18.6" text-anchor="middle" fill="#000" filter="url(#nf)">
<text x="227.6" y="871.6">0</text>
<text x="259.9" y="871.6">2</text>
<text x="292.3" y="871.6">4</text>
<text x="324.6" y="871.6">6</text>
<text x="357.0" y="871.6">8</text>
<text x="389.3" y="871.6">10</text>
<text x="421.7" y="871.6">12</text>
<text x="454.0" y="871.6">14</text>
<text x="486.4" y="871.6">16</text>
<text x="518.7" y="871.6">18</text>
<text x="551.1" y="871.6">20</text>
<text x="583.5" y="871.6">25</text>
<text x="615.8" y="871.6">30</text>
<text x="648.2" y="871.6">35</text>
<text x="680.5" y="871.6">40</text>
<text x="712.9" y="871.6">50</text>
<text x="745.2" y="871.6">60</text>
<text x="777.6" y="871.6">70</text>
<text x="809.9" y="871.6">80</text>
<text x="842.3" y="871.6">90</text>
<text x="874.6" y="871.6">100</text>
</g>
<g id="logo" filter="url(#nf)">
<path d="M923.8 919.6 C928 912.5 936 906.5 950.6 900.3 L947.3 906.2 C939.5 908.6 931.5 913 925.4 919.6 Z" fill="#F6B921"/>
<path d="M921.4 925.6 C926.5 918.5 934 914 944.2 911.6 L941.8 916.6 C934 918 928.5 920.8 924 925.6 Z" fill="#0B6B3A"/>
<path d="M925.5 925.4 C929 922.6 933 921.4 938.8 920.9 L937.2 923.4 C934 923.8 932 924.4 930.6 925.4 Z" fill="#0B6B3A"/>
<g font-family='"Liberation Serif", serif' font-weight="bold" fill="#0B6B3A" stroke="#0B6B3A" stroke-width="0.55">
<text x="900.3" y="953.9" font-size="43.5" textLength="31" lengthAdjust="spacingAndGlyphs">M</text>
<text x="929.6" y="953.9" font-size="27" textLength="69" lengthAdjust="spacingAndGlyphs">ASON</text>
</g>
<g font-family='"Liberation Sans", sans-serif' font-weight="bold" fill="#0B6B3A" stroke="#0B6B3A" stroke-width="0.25">
<text x="937.4" y="932.9" font-size="10.6" textLength="61.2" lengthAdjust="spacing">GEORGE</text>
<text x="901" y="965.1" font-size="8.1" textLength="97" lengthAdjust="spacing">UNIVERSITY</text>
</g>
</g>

</svg>
</body></html>
